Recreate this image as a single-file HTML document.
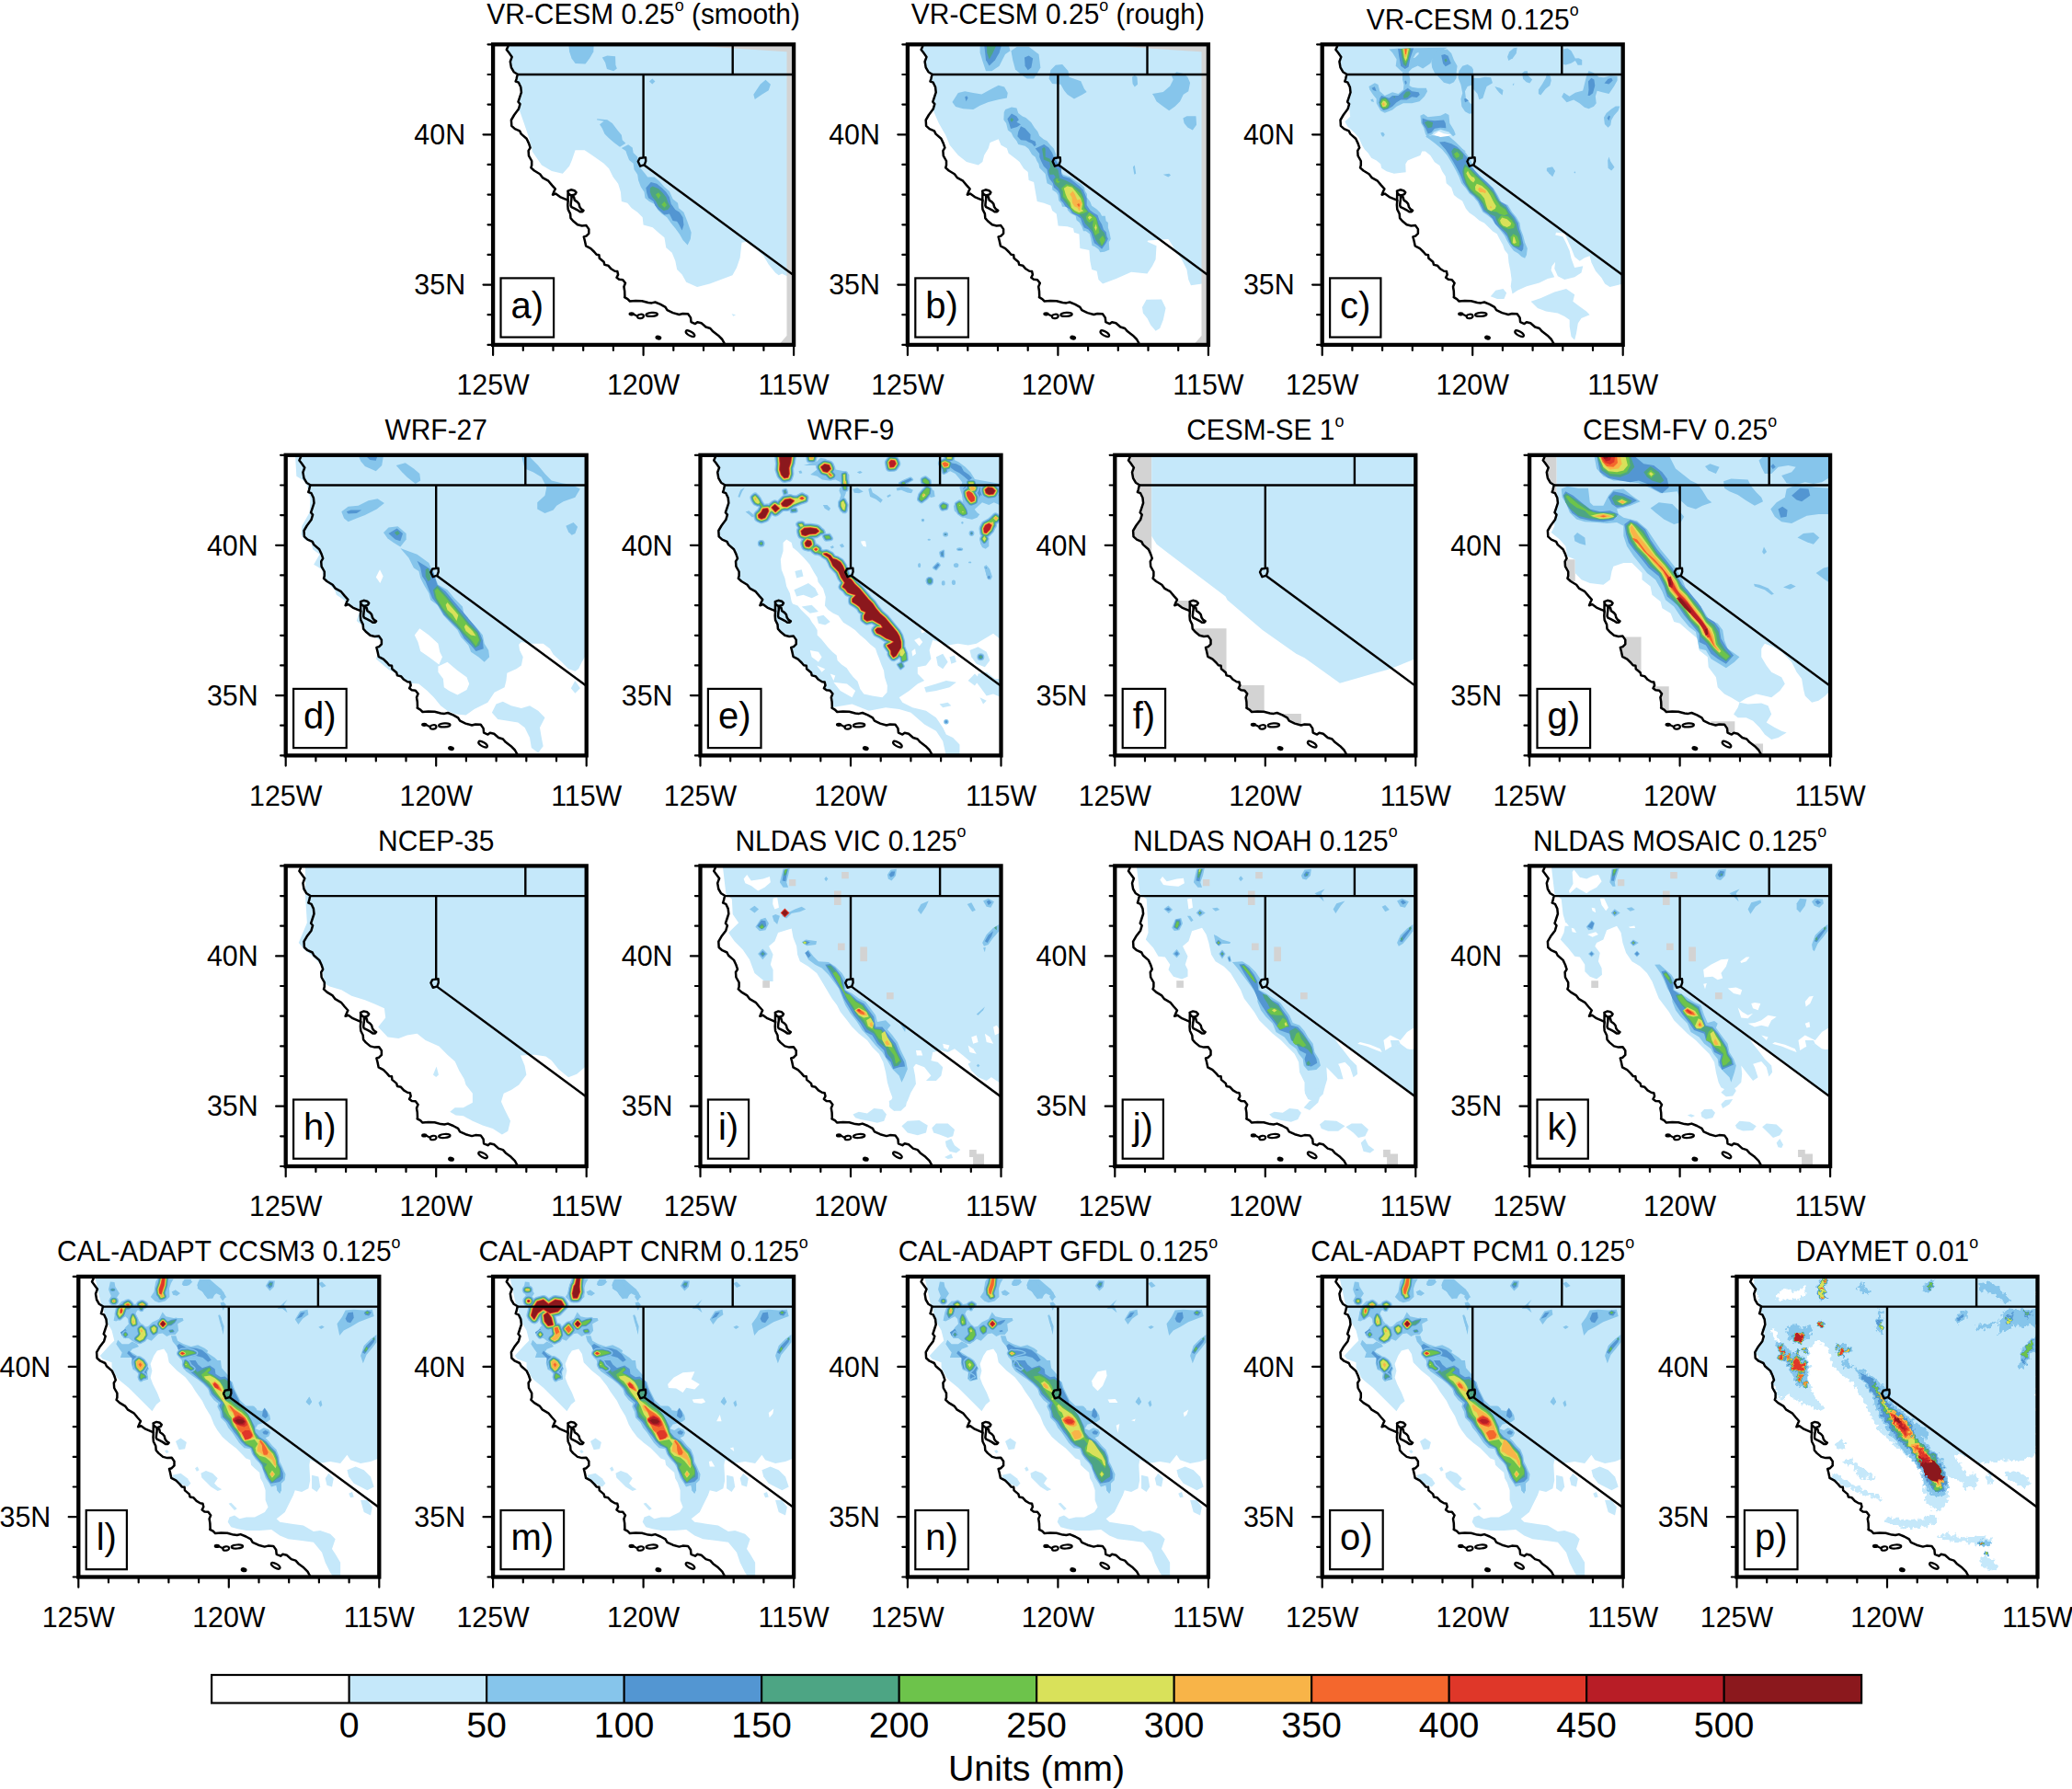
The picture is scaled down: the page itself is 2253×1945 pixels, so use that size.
<!DOCTYPE html>
<html><head><meta charset="utf-8"><title>figure</title>
<style>
html,body{margin:0;padding:0;background:#fff;}
svg{display:block;}
text{font-family:"Liberation Sans",sans-serif;fill:#000;}
.t{font-size:31px;}
.s{font-size:18.5px;}
.l{font-size:40px;}
.c{font-size:39.3px;}
</style></head><body>
<svg width="2253" height="1945" viewBox="0 0 2253 1945">
<defs>
<clipPath id="cp"><rect x="0" y="0" width="327.0" height="326.6"/></clipPath>
<path id="land" d="M16.3 -1 L16.3 2.1 L14.7 5.7 L17.1 8.8 L20.6 13.6 L18.7 18.7 L19.8 25.1 L22.6 29.9 L26.6 32.4 L25.4 37.8 L24.6 40.2 L27.8 41.4 L30.2 46.5 L30.8 52.1 L29 57.6 L27.4 62.4 L29.4 64.8 L27.8 70.3 L23 76.7 L19.8 82.2 L20.2 88.6 L23.8 91.8 L29 94.1 L30.6 97.3 L36.5 102.5 L38.9 107.6 L40.5 112.4 L38.5 115.6 L38.9 121.1 L42.1 126.7 L42.1 131.4 L41.3 134 L44.8 137.2 L51 141 L53.8 144.8 L60.2 148.4 L64.1 153.1 L67.7 157.1 L66.5 159.5 L64.9 163.4 L68.1 162.3 L72.9 165.8 L77.6 167.8 L81.6 169.4 L81.2 174.6 L81.6 179.3 L84 184.1 L84.4 188.8 L87.1 192 L91.9 196 L96.7 197.2 L101.4 196.8 L104.2 200.8 L104.2 205.5 L101.4 208.3 L98.7 209.1 L99.8 213.4 L101 219 L106.2 221.8 L110.2 225.7 L112.5 228.5 L115.3 228.9 L115.7 232.5 L120.5 236.5 L121.3 239.6 L125.2 240.4 L128.4 244 L132.4 246.4 L135.2 246.8 L136 250.3 L134.4 253.5 L137.1 255.5 L141.1 255.9 L143.9 259.5 L142.3 263.4 L143.1 268.2 L143.3 273.7 L143 274.9 L146.4 276.8 L148.8 279.2 L155.1 278.7 L161.9 278.9 L168.6 280.7 L172.5 281.1 L176.3 280.2 L182.1 282.6 L187.4 285.5 L189.4 288.9 L195.6 291.8 L202.4 293.7 L206.3 292.7 L212 293 L214.9 297.1 L215.4 301.9 L219.8 303.8 L222.2 301.9 L226.5 302.9 L231.4 307.2 L236.2 308.7 L239.1 312 L244.9 316.4 L249.2 320.7 L251.6 325.1 L252.6 327.6 L328 327.6 L328 -1Z"/>
<clipPath id="lc"><use href="#land"/></clipPath>
<filter id="rough" x="0" y="0" width="327" height="327" filterUnits="userSpaceOnUse" color-interpolation-filters="sRGB"><feTurbulence type="fractalNoise" baseFrequency="0.22" numOctaves="2" seed="7" result="n"/><feDisplacementMap in="SourceGraphic" in2="n" scale="9" xChannelSelector="R" yChannelSelector="G"/></filter>
<g id="base">
<g clip-path="url(#cp)" fill="none" stroke="#000" stroke-linejoin="round" stroke-linecap="round">
<path stroke-width="2.5" d="M16.3 -1 L16.3 2.1 L14.7 5.7 L17.1 8.8 L20.6 13.6 L18.7 18.7 L19.8 25.1 L22.6 29.9 L26.6 32.4 L25.4 37.8 L24.6 40.2 L27.8 41.4 L30.2 46.5 L30.8 52.1 L29 57.6 L27.4 62.4 L29.4 64.8 L27.8 70.3 L23 76.7 L19.8 82.2 L20.2 88.6 L23.8 91.8 L29 94.1 L30.6 97.3 L36.5 102.5 L38.9 107.6 L40.5 112.4 L38.5 115.6 L38.9 121.1 L42.1 126.7 L42.1 131.4 L41.3 134 L44.8 137.2 L51 141 L53.8 144.8 L60.2 148.4 L64.1 153.1 L67.7 157.1 L66.5 159.5 L64.9 163.4 L68.1 162.3 L72.9 165.8 L77.6 167.8 L81.6 169.4 L81.2 174.6 L81.6 179.3 L84 184.1 L84.4 188.8 L87.1 192 L91.9 196 L96.7 197.2 L101.4 196.8 L104.2 200.8 L104.2 205.5 L101.4 208.3 L98.7 209.1 L99.8 213.4 L101 219 L106.2 221.8 L110.2 225.7 L112.5 228.5 L115.3 228.9 L115.7 232.5 L120.5 236.5 L121.3 239.6 L125.2 240.4 L128.4 244 L132.4 246.4 L135.2 246.8 L136 250.3 L134.4 253.5 L137.1 255.5 L141.1 255.9 L143.9 259.5 L142.3 263.4 L143.1 268.2 L143.3 273.7 L143 274.9 L146.4 276.8 L148.8 279.2 L155.1 278.7 L161.9 278.9 L168.6 280.7 L172.5 281.1 L176.3 280.2 L182.1 282.6 L187.4 285.5 L189.4 288.9 L195.6 291.8 L202.4 293.7 L206.3 292.7 L212 293 L214.9 297.1 L215.4 301.9 L219.8 303.8 L222.2 301.9 L226.5 302.9 L231.4 307.2 L236.2 308.7 L239.1 312 L244.9 316.4 L249.2 320.7 L251.6 325.1 L252.6 327.6"/>
<path stroke-width="2.5" d="M81.3 159.4L84.8 158L88.5 158.9L90.5 160.9L89.4 162.9L87.1 163.8L84.8 164.1L83 162.9L81.6 161.2ZM81.5 159.6L81.4 170"/>
<path stroke-width="2.5" d="M85.3 165.2L87.9 165.8L88.8 169.3L91.7 171.3L93.4 173.3L94.3 176.8L96 179.1L98.4 180.6L97.2 182L94.6 182L91.7 180L88.5 178.3L85.3 176.8L84.5 175.1L84.8 171.6L85.3 168.1Z"/>
<g stroke-width="2.2" fill="#000"><ellipse cx="150.6" cy="293.0" rx="2.1" ry="1"/><ellipse cx="179.8" cy="318.8" rx="2.4" ry="1.4" transform="rotate(12 179.8 318.8)"/></g>
<g stroke-width="2.2" fill="none"><path d="M153 293.4L157 295.5"/><ellipse cx="160.4" cy="295.6" rx="3.4" ry="2.2" transform="rotate(-8 160.4 295.6)"/><ellipse cx="172.6" cy="293.6" rx="6.2" ry="2" transform="rotate(-4 172.6 293.6)"/><ellipse cx="214.4" cy="314.4" rx="5.4" ry="2.2" transform="rotate(30 214.4 314.4)"/></g>
<g stroke-width="2.4" stroke-linecap="butt"><path d="M26.6 32.7H328"/><path d="M163.5 32.7V123"/><path d="M260.6 -1V32.7"/><path d="M164.4 131.2L328 251.8"/></g>
<path stroke-width="2.4" d="M159.5 123.7L165.9 122.8L166.1 126.9L164.7 130.9L160.1 132.4L158.6 129.2L157.7 127.2Z"/>
</g>
<rect x="0" y="0" width="327.0" height="326.6" fill="none" stroke="#000" stroke-width="4.3"/>
<path d="M0 326.6h-5.6M0 293.9h-5.6M0 261.3h-10.6M0 228.6h-5.6M0 196.0h-5.6M0 163.3h-5.6M0 130.6h-5.6M0 98.0h-10.6M0 65.3h-5.6M0 32.7h-5.6M0 0.0h-5.6M0.0 326.6v11.2M32.7 326.6v6.0M65.4 326.6v6.0M98.1 326.6v6.0M130.8 326.6v6.0M163.5 326.6v11.2M196.2 326.6v6.0M228.9 326.6v6.0M261.6 326.6v6.0M294.3 326.6v6.0M327.0 326.6v11.2" fill="none" stroke="#000" stroke-width="2.2" stroke-linecap="round"/>
<g class="t"><text transform="translate(-30 108.7) scale(.98 1)" text-anchor="end">40N</text><text transform="translate(-30 272.0) scale(.98 1)" text-anchor="end">35N</text><text transform="translate(0.0 381.0) scale(.98 1)" text-anchor="middle">125W</text><text transform="translate(163.5 381.0) scale(.98 1)" text-anchor="middle">120W</text><text transform="translate(327.0 381.0) scale(.98 1)" text-anchor="middle">115W</text></g>
</g>
</defs>
<g transform="translate(536.1 48.3)">
<g clip-path="url(#cp)">
<g clip-path="url(#lc)"><g transform="translate(-0.10 -0.30) scale(0.18278)">
<polygon fill="#C5E8FA" points="0,0 0,400 160,400 185,470 215,560 235,640 290,720 350,755 415,770 455,725 470,690 490,630 545,630 590,660 625,685 660,710 690,740 715,790 745,830 760,880 765,935 800,945 825,975 860,1000 890,1030 895,1075 950,1090 990,1125 1020,1150 1030,1210 1065,1240 1085,1290 1095,1340 1125,1370 1150,1415 1215,1445 1290,1425 1370,1395 1425,1375 1450,1330 1470,1270 1480,1180 1510,1175 1560,1215 1610,1260 1640,1310 1680,1360 1700,1375 1720,1365 1760,1385 1789,1390 1789,0"/>
<polygon fill="#C5E8FA" points="1420,1605 1445,1610 1430,1618"/>
<polygon fill="#D3D3D3" points="1100,0 1789,0 1789,45 1745,45 1430,25"/>
<polygon fill="#D3D3D3" points="1748,40 1789,40 1789,1789 1700,1789 1748,1735"/>
<polygon fill="#86C5EB" points="450,0 600,0 598,45 575,85 550,118 490,115 468,85 455,45"/>
<polygon fill="#86C5EB" points="650,80 680,68 728,72 730,125 738,145 718,160 678,148 668,110"/>
<polygon fill="#86C5EB" points="930,222 948,205 965,222 948,238"/>
<polygon fill="#86C5EB" points="1550,300 1590,240 1622,212 1652,240 1640,275 1600,300 1558,328"/>
<polygon fill="#86C5EB" points="620,445 680,450 710,470 740,510 765,540 770,570 790,590 755,612 720,585 690,560 665,535 650,500 635,478 660,458 618,450"/>
<polygon fill="#86C5EB" points="765,618 805,598 830,615 835,645 860,670 865,705 880,740 905,770 920,790 960,790 990,815 1020,850 1050,875 1070,920 1100,945 1105,975 1135,1000 1155,1050 1180,1120 1175,1160 1158,1195 1130,1165 1110,1130 1085,1095 1060,1065 1035,1030 1005,1010 980,985 960,950 930,935 905,915 900,880 880,850 865,810 860,775 840,745 835,710 810,690 795,650 790,635"/>
<polygon fill="#5396D2" points="910,855 940,820 975,830 1005,855 1030,880 1050,910 1060,950 1085,985 1110,1000 1130,1030 1135,1075 1125,1108 1105,1070 1095,1055 1070,1050 1050,1010 1020,1015 985,985 965,960 955,935 925,915 915,885"/>
<polygon fill="#4DA584" points="935,855 950,845 985,860 1010,885 1030,910 1040,940 1055,965 1040,985 1015,990 985,965 970,935 945,905 935,880"/>
<polygon fill="#6DC34B" points="968,895 985,882 998,898 985,920"/>
<polygon fill="#6DC34B" points="1003,955 1020,935 1035,958 1020,972"/>
</g></g>
</g>
<use href="#base"/>
<rect x="8.4" y="254.1" width="57.6" height="64.2" fill="#fff" stroke="#000" stroke-width="2.2"/>
<text class="l" x="37.2" y="297.5" text-anchor="middle">a)</text>
<text class="t" transform="translate(163.5 -22.2) scale(.965 1)" text-anchor="middle">VR-CESM 0.25<tspan class="s" dy="-14.4">o</tspan><tspan dy="14.4"> (smooth)</tspan></text>
</g>
<g transform="translate(986.9 48.3)">
<g clip-path="url(#cp)">
<g clip-path="url(#lc)"><g transform="translate(0.10 -0.30) scale(0.18278)">
<polygon fill="#C5E8FA" points="0,0 0,390 150,390 185,470 225,540 250,600 300,660 350,700 420,720 445,700 455,660 480,620 490,585 540,565 555,600 590,620 600,650 640,680 665,700 690,740 715,760 720,810 750,820 760,880 770,935 810,945 850,960 860,990 885,1010 895,1080 950,1085 985,1095 990,1120 1020,1130 1025,1215 1080,1225 1085,1290 1095,1340 1125,1350 1135,1400 1160,1425 1240,1395 1330,1355 1425,1365 1455,1320 1475,1280 1480,1200 1425,1175 1430,1168 1550,1160 1570,1190 1600,1240 1630,1280 1660,1340 1670,1400 1685,1435 1750,1425 1789,1420 1789,0"/>
<polygon fill="#C5E8FA" points="1395,1565 1420,1520 1510,1518 1535,1570 1520,1640 1500,1690 1475,1705 1445,1670 1425,1630 1400,1600"/>
<polygon fill="#D3D3D3" points="1100,0 1789,0 1789,45 1745,45 1430,25"/>
<polygon fill="#D3D3D3" points="1748,40 1789,40 1789,1789 1700,1789 1748,1735"/>
<polygon fill="#86C5EB" points="430,0 600,0 610,40 580,60 545,130 500,160 465,160 445,100 430,50"/>
<polygon fill="#86C5EB" points="615,40 650,15 720,15 780,60 790,140 770,175 750,205 710,205 680,185 640,150 625,95"/>
<polygon fill="#86C5EB" points="850,155 880,125 920,120 955,160 960,195 1030,220 1050,265 1065,285 1040,300 990,325 950,300 930,275 910,240 860,235 840,205"/>
<polygon fill="#86C5EB" points="1335,195 1350,185 1365,195 1368,240 1350,255 1338,235"/>
<polygon fill="#86C5EB" points="1455,295 1520,285 1560,250 1580,210 1570,190 1600,165 1640,175 1665,195 1680,230 1670,280 1640,300 1620,340 1590,370 1555,395 1520,370 1480,340 1465,310"/>
<polygon fill="#86C5EB" points="1638,440 1660,428 1715,428 1718,480 1695,512 1665,495 1645,470"/>
<polygon fill="#86C5EB" points="265,345 300,290 340,280 390,290 440,298 500,265 540,245 575,255 595,290 590,320 540,330 480,345 430,365 390,388 330,385 285,372"/>
<polygon fill="#86C5EB" points="1340,730 1350,720 1358,770 1348,775"/>
<polygon fill="#86C5EB" points="1520,775 1555,770 1565,780 1550,790"/>
<polygon fill="#5396D2" points="455,0 560,0 545,50 520,95 485,128 465,95"/>
<polygon fill="#4DA584" points="470,0 530,0 505,55 485,90 472,50"/>
<polygon fill="#5396D2" points="695,80 720,68 745,85 735,140 715,155 698,130"/>
<polygon fill="#5396D2" points="340,315 352,308 358,320 348,340"/>
<polygon fill="#86C5EB" points="573,405 581,388 618,375 648,380 658,410 683,430 703,438 734,465 754,496 774,521 784,546 809,566 829,576 849,601 869,621 884,661 914,761 924,776 969,791 1004,817 1029,832 1050,852 1055,872 1067,892 1067,912 1085,937 1095,962 1125,982 1145,1002 1155,1022 1175,1022 1180,1052 1192,1062 1192,1092 1200,1117 1208,1158 1197,1178 1200,1223 1170,1235 1145,1238 1135,1220 1112,1203 1097,1198 1090,1158 1082,1128 1060,1112 1045,1112 1037,1087 1022,1062 1004,1047 999,1022 969,1007 952,987 947,967 919,967 914,947 899,932 894,897 884,882 861,867 859,842 829,827 824,802 819,771 799,751 784,736 779,711 769,696 759,671 739,656 719,623 698,606 658,596 648,576 628,551 616,526 596,511 586,471 571,450"/>
<polygon fill="#5396D2" points="593,445 618,413 648,430 661,450 648,463 673,478 651,493 613,503 603,471"/>
<polygon fill="#5396D2" points="673,488 698,501 731,538 729,566 759,578 764,601 754,608 739,591 719,583 703,573 673,571 653,548 658,521"/>
<polygon fill="#5396D2" points="759,621 811,596 839,616 859,646 871,676 914,741 914,771 924,786 964,797 994,822 1019,842 1045,867 1050,882 1065,917 1065,957 1085,987 1105,1002 1130,1017 1140,1047 1155,1072 1165,1102 1180,1117 1185,1143 1192,1158 1180,1183 1155,1218 1132,1198 1110,1183 1100,1153 1090,1122 1075,1102 1050,1092 1040,1072 1029,1037 1009,1022 979,1007 964,982 939,967 924,942 909,927 904,892 894,872 869,852 864,827 844,802 834,776 829,746 809,726 794,696 784,671 784,651"/>
<polygon fill="#4DA584" points="799,623 811,613 819,623 819,671 844,681 859,701 869,731 894,746 899,771 904,797 944,812 979,832 999,847 1029,867 1040,892 1050,922 1055,967 1075,997 1100,1012 1125,1037 1135,1072 1150,1102 1170,1122 1180,1153 1170,1183 1155,1203 1135,1188 1120,1168 1107,1138 1097,1112 1075,1087 1055,1067 1042,1037 1019,1012 994,1002 974,982 954,962 934,937 914,912 909,882 899,857 874,832 866,807 879,791 869,776 844,776 839,751 849,731 844,701 809,686 804,651"/>
<polygon fill="#4DA584" points="609,448 618,438 631,448 618,463"/>
<polygon fill="#6DC34B" points="882,802 894,799 894,814 907,817 894,827 882,819"/>
<polygon fill="#6DC34B" points="914,857 944,832 979,844 1004,867 1029,892 1045,922 1050,952 1047,977 1070,995 1045,1007 1014,1012 984,997 969,977 959,952 944,927 924,907 924,877"/>
<polygon fill="#6DC34B" points="1060,1027 1080,1000 1100,1017 1120,1032 1127,1062 1135,1097 1140,1122 1115,1138 1105,1107 1100,1077 1105,1047 1080,1062 1065,1047"/>
<polygon fill="#6DC34B" points="1140,1163 1160,1138 1175,1165 1155,1198"/>
<polygon fill="#D9E15A" points="929,857 949,844 979,852 999,877 1029,917 1040,952 1034,982 1047,992 1019,1002 994,990 974,972 967,942 949,917 939,892"/>
<polygon fill="#D9E15A" points="1072,1030 1082,1020 1097,1030 1080,1045"/>
<polygon fill="#D9E15A" points="1112,1092 1120,1070 1125,1092 1120,1110"/>
<polygon fill="#F8B448" points="964,892 982,874 994,892 1004,917 1009,927 1024,922 1037,947 1029,972 1022,995 1009,972 992,965 979,944 977,912"/>
<polygon fill="#F4672D" points="1007,954 1019,947 1024,957 1019,970"/>
</g></g>
</g>
<use href="#base"/>
<rect x="8.4" y="254.1" width="57.6" height="64.2" fill="#fff" stroke="#000" stroke-width="2.2"/>
<text class="l" x="37.2" y="297.5" text-anchor="middle">b)</text>
<text class="t" transform="translate(163.5 -22.2) scale(.965 1)" text-anchor="middle">VR-CESM 0.25<tspan class="s" dy="-14.4">o</tspan><tspan dy="14.4"> (rough)</tspan></text>
</g>
<g transform="translate(1437.7 48.3)">
<g clip-path="url(#cp)">
<g clip-path="url(#lc)"><g transform="translate(0.30 -0.30) scale(0.18278)">
<polygon fill="#C5E8FA" points="0,0 0,386 160,386 165,431 133,461 150,491 186,522 216,557 236,602 251,627 271,647 291,677 321,692 346,712 351,737 381,757 426,770 496,762 494,712 507,692 542,677 582,662 592,637 612,637 642,662 667,702 697,722 712,757 732,787 737,827 767,853 782,897 802,913 832,933 853,978 873,1003 903,1023 933,1049 963,1064 988,1089 1013,1114 1038,1129 1053,1159 1073,1194 1083,1224 1103,1249 1108,1299 1118,1349 1125,1400 1120,1440 1130,1485 1160,1465 1215,1440 1290,1420 1340,1395 1380,1385 1360,1345 1365,1320 1385,1295 1380,1335 1400,1380 1440,1400 1500,1385 1540,1360 1550,1320 1500,1330 1480,1275 1470,1230 1450,1185 1430,1145 1385,1135 1390,1120 1440,1125 1455,1160 1480,1215 1500,1265 1530,1290 1560,1270 1590,1260 1600,1300 1625,1350 1660,1390 1680,1425 1710,1445 1750,1435 1789,1425 1789,0"/>
<polygon fill="#C5E8FA" points="1000,1500 1030,1465 1075,1455 1095,1480 1080,1515 1040,1515"/>
<polygon fill="#C5E8FA" points="1240,1530 1300,1510 1380,1475 1450,1455 1500,1490 1490,1530 1530,1560 1570,1590 1590,1610 1540,1630 1520,1660 1510,1720 1500,1760 1480,1740 1470,1680 1470,1640 1440,1620 1400,1600 1330,1590 1280,1570"/>
<polygon fill="#86C5EB" points="396,30 451,25 547,23 742,20 702,45 652,90 642,115 597,145 567,128 532,145 512,166 471,163 436,130 441,90 416,50"/>
<polygon fill="#86C5EB" points="647,100 667,60 687,35 742,30 767,55 782,95 802,130 797,166 797,201 782,226 757,238 722,228 697,201 667,171 652,140"/>
<polygon fill="#86C5EB" points="812,160 833,130 863,120 888,135 897,150 897,241 863,251 848,281 853,321 878,351 897,361 897,411 873,414 848,401 828,371 823,326 833,291 823,241 807,201"/>
<polygon fill="#86C5EB" points="476,166 512,166 522,211 517,246 532,256 567,261 617,261 624,281 607,311 577,341 532,351 481,351 441,371 416,391 371,409 346,396 321,351 321,326 301,301 281,271 276,251 311,231 331,241 341,281 371,306 416,286 451,296 481,271 484,241 476,211"/>
<polygon fill="#86C5EB" points="286,329 301,326 306,344 291,341"/>
<polygon fill="#86C5EB" points="346,527 361,524 371,537 361,552 351,542"/>
<polygon fill="#86C5EB" points="582,426 602,416 627,434 702,426 732,411 752,421 757,471 782,512 792,537 777,549 752,522 702,507 662,522 652,537 622,552 612,532 602,497 587,471"/>
<polygon fill="#C5E8FA" points="539,83 557,55 572,48 572,60 552,80"/>
<polygon fill="#86C5EB" points="1100,75 1112,45 1138,23 1158,20 1153,55 1132,83 1107,98"/>
<polygon fill="#86C5EB" points="1433,30 1458,25 1479,38 1494,65 1504,85 1524,83 1544,93 1544,125 1519,125 1504,98 1479,113 1448,123 1433,120"/>
<polygon fill="#86C5EB" points="1188,173 1203,160 1220,160 1223,186 1248,211 1233,233 1213,226 1193,206"/>
<polygon fill="#86C5EB" points="1285,271 1308,236 1328,201 1336,173 1356,191 1361,216 1353,246 1328,266 1298,303 1285,296"/>
<polygon fill="#86C5EB" points="892,201 932,203 967,196 1002,198 1012,231 977,251 967,281 954,321 932,329 922,296 892,261"/>
<polygon fill="#86C5EB" points="1025,251 1037,256 1057,261 1075,273 1070,303 1052,288 1037,271"/>
<polygon fill="#86C5EB" points="1130,241 1140,231 1138,246"/>
<polygon fill="#86C5EB" points="1423,313 1436,288 1469,311 1504,288 1549,276 1559,236 1569,196 1584,158 1614,171 1644,196 1674,198 1714,188 1754,191 1754,216 1734,251 1704,296 1664,286 1634,278 1624,311 1629,351 1614,371 1584,384 1559,376 1529,351 1494,331 1453,346"/>
<polygon fill="#86C5EB" points="1674,436 1689,411 1719,386 1744,369 1769,369 1759,396 1734,426 1719,451 1714,481 1699,497 1679,476"/>
<polygon fill="#86C5EB" points="1697,692 1704,670 1714,697 1737,732 1719,752 1699,737"/>
<polygon fill="#86C5EB" points="1336,737 1363,730 1383,757 1368,787 1348,767"/>
<polygon fill="#86C5EB" points="1496,762 1501,757 1506,763 1501,768"/>
<polygon fill="#5396D2" points="1581,221 1599,201 1616,211 1621,246 1609,291 1589,306 1579,306 1584,271"/>
<polygon fill="#5396D2" points="1677,233 1699,206 1719,201 1727,216 1704,238"/>
<polygon fill="#5396D2" points="1694,441 1704,424 1712,431 1704,456"/>
<polygon fill="#86C5EB" points="612,547 752,547 787,577 822,612 853,647 878,683 903,748 943,788 983,823 1018,858 1043,898 1063,938 1103,958 1128,998 1153,1029 1174,1064 1179,1099 1194,1139 1204,1179 1219,1214 1214,1254 1204,1274 1184,1264 1164,1244 1138,1229 1118,1204 1098,1169 1083,1139 1063,1114 1043,1089 1023,1064 1008,1039 983,1019 953,998 938,968 923,938 898,908 873,888 853,858 827,828 812,788 792,748 767,703 742,662 712,627 672,592 632,562"/>
<polygon fill="#86C5EB" points="1334,738 1369,730 1384,753 1369,788 1349,768 1334,753"/>
<polygon fill="#86C5EB" points="617,552 652,542 712,552 752,562 782,577 802,602 853,637 802,647 727,602 667,577"/>
<polygon fill="#FFFFFF" points="662,539 692,519 722,532 767,539 742,547 702,552"/>
<polygon fill="#5396D2" points="449,28 542,25 522,85 512,135 491,148 466,130 456,75"/>
<polygon fill="#5396D2" points="707,65 727,60 747,70 765,115 732,133 717,115"/>
<polygon fill="#5396D2" points="293,261 311,253 321,281 301,273"/>
<polygon fill="#5396D2" points="341,321 351,306 396,321 416,306 451,306 481,281 507,261 532,281 572,286 579,301 562,318 532,313 502,331 466,331 441,346 416,371 386,389 361,394 341,371 336,346"/>
<polygon fill="#5396D2" points="489,221 497,216 502,231 494,241"/>
<polygon fill="#5396D2" points="594,441 627,451 667,456 722,451 732,471 735,499 702,497 667,502 647,527 627,534 614,502 594,471"/>
<polygon fill="#5396D2" points="843,326 853,323 870,336 848,346"/>
<polygon fill="#5396D2" points="695,582 727,580 767,592 802,612 833,642 863,677 873,718 898,743 933,783 973,818 1013,858 1033,893 1053,933 1093,958 1118,998 1143,1029 1164,1064 1171,1099 1184,1139 1196,1194 1194,1219 1184,1234 1159,1219 1133,1204 1113,1179 1098,1144 1078,1119 1053,1094 1028,1069 1013,1039 988,1014 958,993 943,963 928,933 903,903 878,883 858,853 838,823 822,783 802,743 777,698 752,657 732,627 710,602"/>
<polygon fill="#4DA584" points="464,28 527,25 512,90 497,133 481,120 471,75"/>
<polygon fill="#4DA584" points="725,93 735,85 742,98 732,108"/>
<polygon fill="#4DA584" points="481,306 497,283 517,281 524,296 507,316 484,323"/>
<polygon fill="#4DA584" points="424,313 431,311 432,318 425,320"/>
<polygon fill="#4DA584" points="339,346 351,321 376,318 396,336 404,356 391,381 366,389 346,374"/>
<polygon fill="#4DA584" points="607,466 627,456 657,466 652,494 627,499"/>
<polygon fill="#4DA584" points="767,637 782,617 812,627 838,657 835,683 802,695 777,672"/>
<polygon fill="#4DA584" points="838,733 848,713 873,733 903,763 943,803 983,843 1018,878 1038,918 1068,953 1093,973 1108,1003 1138,1039 1153,1069 1159,1099 1174,1134 1184,1189 1169,1209 1143,1204 1123,1189 1108,1149 1098,1124 1073,1099 1048,1074 1033,1044 1028,1024 993,1009 963,983 953,953 928,918 898,893 873,868 853,833 838,788 833,758"/>
<polygon fill="#6DC34B" points="471,28 522,26 507,90 494,118 484,90"/>
<polygon fill="#6DC34B" points="344,351 354,329 376,326 391,346 394,364 381,379 361,381 349,369"/>
<polygon fill="#6DC34B" points="782,652 800,640 815,655 812,672 795,677"/>
<polygon fill="#6DC34B" points="843,743 853,728 878,748 908,783 948,818 983,853 1013,888 1033,928 1058,963 1088,983 1103,1009 1083,1019 1053,1009 1038,998 1003,993 973,973 958,943 933,908 903,883 878,858 858,823 845,783"/>
<polygon fill="#6DC34B" points="1043,1044 1063,1019 1103,1024 1128,1049 1143,1074 1138,1094 1108,1099 1078,1089 1053,1069"/>
<polygon fill="#6DC34B" points="1118,1149 1136,1129 1159,1144 1171,1174 1169,1199 1143,1199 1126,1184"/>
<polygon fill="#D9E15A" points="479,28 514,26 502,85 494,100 486,80"/>
<polygon fill="#D9E15A" points="351,354 361,336 374,341 384,356 376,371 359,374"/>
<polygon fill="#D9E15A" points="855,768 865,753 875,773 888,788 903,793 908,808 898,823 883,813 868,793"/>
<polygon fill="#D9E15A" points="908,848 918,830 948,843 978,868 998,898 1018,938 1033,963 1028,978 1003,993 983,983 973,953 963,918 943,893 923,878 910,868"/>
<polygon fill="#D9E15A" points="1056,1049 1068,1031 1098,1041 1123,1064 1118,1079 1098,1089 1073,1079 1061,1064"/>
<polygon fill="#D9E15A" points="1131,1179 1136,1144 1143,1149 1153,1182 1138,1187"/>
<polygon fill="#F8B448" points="484,28 507,26 499,70 494,80 489,65"/>
<polygon fill="#F8B448" points="355,356 364,346 371,359 364,369"/>
<polygon fill="#F8B448" points="925,863 935,851 958,863 973,873 970,888 953,881 935,881"/>
<polygon fill="#F8B448" points="996,968 1001,963 1007,971 1001,977"/>
<polygon fill="#F4672D" points="489,28 502,27 497,60 493,60"/>
</g></g>
</g>
<use href="#base"/>
<rect x="8.4" y="254.1" width="55.3" height="64.2" fill="#fff" stroke="#000" stroke-width="2.2"/>
<text class="l" x="36.1" y="297.5" text-anchor="middle">c)</text>
<text class="t" transform="translate(163.5 -16.6) scale(.965 1)" text-anchor="middle">VR-CESM 0.125<tspan class="s" dy="-14.4">o</tspan><tspan dy="14.4"></tspan></text>
</g>
<g transform="translate(310.7 494.8)">
<g clip-path="url(#cp)">
<g><g transform="translate(0.30 0.20) scale(0.18278)">
<polygon fill="#C5E8FA" points="55,0 62,125 105,150 125,180 145,260 140,340 95,420 90,470 110,500 150,520 160,560 200,590 165,650 215,680 225,740 290,800 300,830 345,860 360,880 440,920 420,985 450,1010 460,1040 530,1085 560,1100 575,1120 535,1140 545,1190 535,1210 610,1275 640,1290 700,1330 740,1355 790,1360 840,1400 880,1440 920,1490 960,1520 1010,1540 1070,1545 1120,1510 1200,1470 1220,1440 1240,1410 1300,1380 1310,1340 1315,1295 1370,1270 1400,1250 1410,1200 1390,1160 1385,1125 1400,1110 1450,1120 1530,1120 1570,1150 1590,1185 1640,1230 1680,1270 1720,1285 1740,1270 1760,1230 1789,1180 1789,0"/>
<polygon fill="#FFFFFF" points="535,725 558,680 578,720 560,760"/>
<polygon fill="#FFFFFF" points="765,1070 795,1030 850,1070 905,1120 915,1170 930,1200 910,1245 850,1200 800,1165 785,1110"/>
<polygon fill="#FFFFFF" points="905,1255 960,1230 1020,1280 1075,1320 1090,1360 1075,1395 1020,1425 970,1400 940,1380 935,1330 905,1290"/>
<polygon fill="#C5E8FA" points="1225,1530 1250,1480 1290,1465 1340,1490 1400,1505 1450,1490 1500,1520 1540,1560 1510,1620 1520,1680 1530,1730 1500,1770 1460,1740 1450,1680 1420,1620 1380,1590 1320,1580 1260,1570"/>
<polygon fill="#C5E8FA" points="1695,1385 1720,1340 1750,1385 1720,1415"/>
<polygon fill="#86C5EB" points="430,0 580,0 570,60 535,95 470,65 445,35"/>
<polygon fill="#86C5EB" points="655,60 710,45 760,80 795,110 800,150 770,170 720,130 690,100"/>
<polygon fill="#86C5EB" points="1400,0 1440,0 1500,60 1540,110 1580,150 1640,165 1700,175 1750,200 1720,250 1650,275 1610,300 1590,325 1540,345 1495,320 1495,280 1540,240 1550,190 1520,130 1470,100 1420,80"/>
<polygon fill="#86C5EB" points="1665,420 1710,400 1735,425 1720,465 1700,475 1680,455"/>
<polygon fill="#86C5EB" points="330,335 370,305 430,300 490,270 545,258 585,285 540,320 470,355 420,375 370,395 345,375"/>
<polygon fill="#86C5EB" points="580,460 610,430 665,422 715,465 715,500 680,545 640,520 605,495"/>
<polygon fill="#86C5EB" points="680,552 780,590 850,640 905,770 960,800 1000,850 1050,900 1060,950 1100,990 1130,1020 1170,1070 1180,1120 1205,1160 1210,1200 1180,1230 1145,1200 1100,1170 1085,1130 1040,1080 1020,1040 990,1010 935,950 900,890 860,860 850,820 820,770 800,730 790,690 760,670 730,610"/>
<polygon fill="#5396D2" points="470,0 545,0 535,32 500,28"/>
<polygon fill="#5396D2" points="360,335 385,325 450,325 420,345 370,348"/>
<polygon fill="#5396D2" points="610,465 660,435 695,465 680,510 650,500"/>
<polygon fill="#5396D2" points="780,628 840,665 875,690 900,770 950,810 1000,870 1060,940 1110,1000 1150,1050 1170,1100 1175,1150 1130,1165 1100,1130 1060,1090 1030,1040 990,1000 940,950 910,900 870,850 850,800 830,750 810,720 800,670"/>
<polygon fill="#4DA584" points="645,460 665,448 678,465 660,478"/>
<polygon fill="#4DA584" points="830,680 845,670 858,700 860,740 845,750 830,720"/>
<polygon fill="#4DA584" points="875,800 900,775 950,830 1000,890 1050,950 1090,1000 1140,1050 1160,1100 1150,1130 1125,1145 1090,1100 1050,1060 1010,1010 960,960 920,910 885,850"/>
<polygon fill="#6DC34B" points="885,805 900,790 945,840 995,900 1045,960 1085,1010 1135,1060 1150,1100 1130,1135 1100,1095 1060,1055 1020,1005 970,955 930,905 895,850"/>
<polygon fill="#D9E15A" points="950,890 960,875 1000,920 1025,950 1015,985 990,945 960,920"/>
<polygon fill="#D9E15A" points="1060,1020 1070,1005 1110,1045 1130,1075 1100,1070 1070,1045"/>
</g></g>
</g>
<use href="#base"/>
<rect x="8.4" y="254.1" width="57.6" height="64.2" fill="#fff" stroke="#000" stroke-width="2.2"/>
<text class="l" x="37.2" y="297.5" text-anchor="middle">d)</text>
<text class="t" transform="translate(163.5 -16.6) scale(.965 1)" text-anchor="middle">WRF-27</text>
</g>
<g transform="translate(761.5 494.8)">
<g clip-path="url(#cp)">
<g clip-path="url(#lc)"><g transform="translate(0.50 0.20) scale(0.18278)">
<polygon fill="#C5E8FA" points="0,0 1789,0 1789,1789 0,1789"/>
<polygon fill="#FFFFFF" points="490,520 510,500 540,520 547,548 577,573 612,608 647,648 672,693 693,728 698,753 728,793 743,843 738,894 758,919 788,939 818,954 848,994 888,1019 918,1039 948,1069 978,1094 1008,1124 1039,1149 1049,1179 1059,1204 1074,1245 1089,1280 1094,1320 1110,1370 1108,1410 1080,1440 1020,1430 970,1420 948,1390 933,1345 908,1320 888,1295 868,1265 838,1245 813,1220 808,1190 783,1169 758,1144 738,1119 718,1094 693,1069 693,1039 677,1014 662,994 647,969 622,944 597,919 577,894 547,884 540,870 530,820 510,780 500,730 480,680 475,620 490,570"/>
<polygon fill="#C5E8FA" points="555,800 600,780 640,760 680,790 700,830 660,850 610,830 570,840"/>
<polygon fill="#C5E8FA" points="690,960 730,950 770,990 740,1010 700,1000"/>
<polygon fill="#C5E8FA" points="600,900 660,890 700,930 650,940"/>
<polygon fill="#C5E8FA" points="560,690 600,680 610,720 570,730"/>
<polygon fill="#FFFFFF" points="1180,1440 1240,1400 1290,1360 1330,1340 1290,1300 1290,1260 1340,1250 1370,1210 1360,1160 1380,1100 1420,1110 1470,1130 1530,1120 1590,1130 1640,1120 1690,1090 1740,1060 1789,1100 1789,1330 1750,1330 1700,1290 1650,1300 1640,1350 1670,1390 1700,1430 1740,1420 1789,1440 1789,1789 1540,1789 1540,1720 1500,1680 1460,1660 1440,1620 1400,1560 1340,1520 1260,1500 1200,1470"/>
<polygon fill="#C5E8FA" points="1600,1160 1650,1140 1700,1170 1720,1220 1690,1260 1640,1240 1610,1200"/>
<polygon fill="#C5E8FA" points="1400,1200 1440,1180 1470,1230 1440,1270 1410,1250"/>
<polygon fill="#C5E8FA" points="1480,1200 1510,1190 1520,1230 1490,1240"/>
<polygon fill="#C5E8FA" points="1590,1340 1630,1300 1660,1330 1630,1370"/>
<polygon fill="#C5E8FA" points="1330,1380 1400,1360 1460,1340 1520,1350 1480,1380 1400,1400 1340,1410"/>
<polygon fill="#C5E8FA" points="1420,1480 1470,1470 1490,1490 1440,1500"/>
<polygon fill="#C5E8FA" points="1660,1440 1700,1460 1680,1480"/>
<polygon fill="#FFFFFF" points="1270,1100 1300,1085 1320,1110 1300,1135"/>
<polygon fill="#FFFFFF" points="1255,1165 1275,1150 1280,1180 1260,1195"/>
<polygon fill="#FFFFFF" points="960,520 980,510 985,545 965,540"/>
<polygon fill="#FFFFFF" points="1310,1040 1330,1030 1335,1050 1315,1058"/>
<polygon fill="#FFFFFF" points="650,1160 700,1170 720,1200 700,1230 660,1200"/>
<polygon fill="#FFFFFF" points="690,1250 740,1270 720,1290"/>
<polygon fill="#FFFFFF" points="770,1300 800,1310 790,1340"/>
<polygon fill="#FFFFFF" points="790,1350 870,1360 920,1400 900,1440 830,1400"/>
<polygon fill="#FFFFFF" points="780,1500 900,1480 1000,1520 1100,1500 1180,1510 1250,1530 1330,1600 1400,1640 1440,1700 1460,1789 700,1789"/>
<polygon fill="#86C5EB" points="828,191 868,191 863,226 853,251 868,281 873,321 863,346 843,346 828,311 823,271 833,236 823,211"/>
<polygon fill="#86C5EB" points="582,95 597,90 604,105 589,110"/>
<polygon fill="#86C5EB" points="727,296 752,296 772,316 762,331 737,316"/>
<polygon fill="#86C5EB" points="828,532 843,527 853,542 838,549"/>
<polygon fill="#86C5EB" points="772,544 787,539 792,549 780,554"/>
<polygon fill="#86C5EB" points="221,246 236,206 261,191 246,216 231,251"/>
<polygon fill="#86C5EB" points="266,336 286,329 306,346 321,361 306,369 286,351"/>
<polygon fill="#86C5EB" points="612,60 692,35 712,15 742,20 772,45 802,85 853,95 883,115 883,166 843,166 802,145 762,150 722,145 692,125 652,115 692,85 682,60"/>
<polygon fill="#86C5EB" points="825,533 843,527 853,543 838,550"/>
<polygon fill="#86C5EB" points="770,543 788,538 790,550 778,555"/>
<polygon fill="#86C5EB" points="1423,30 1494,20 1534,40 1574,70 1604,100 1629,140 1634,171 1604,171 1559,166 1539,140 1514,110 1484,95 1453,110 1433,100"/>
<polygon fill="#86C5EB" points="1363,196 1388,211 1393,246 1368,251 1353,236"/>
<polygon fill="#86C5EB" points="1539,191 1564,150 1614,140 1789,171 1789,301 1744,281 1714,296 1674,281 1629,321 1644,341 1659,351 1644,371 1614,381 1584,376 1544,361 1509,331 1504,301 1524,281 1559,281 1554,236"/>
<polygon fill="#86C5EB" points="1659,502 1674,471 1704,476 1714,507 1714,542 1694,557 1674,547 1664,527"/>
<polygon fill="#86C5EB" points="1684,662 1699,652 1719,677 1734,722 1724,742 1704,732 1694,692"/>
<polygon fill="#86C5EB" points="904,201 932,193 967,216 942,226 912,223"/>
<polygon fill="#86C5EB" points="997,201 1012,191 1022,221 1052,241 1082,266 1070,283 1042,261 1007,246"/>
<polygon fill="#86C5EB" points="1107,241 1127,231 1132,241 1112,251"/>
<polygon fill="#86C5EB" points="929,100 949,93 962,103 944,110"/>
<polygon fill="#86C5EB" points="1163,196 1193,186 1233,191 1263,206 1253,226 1228,221 1193,206 1168,211"/>
<polygon fill="#5396D2" points="1559,201 1584,171 1614,150 1644,176 1674,201 1694,186 1744,181 1774,191 1774,236 1744,246 1704,246 1664,236 1644,281 1614,301 1589,296 1569,261"/>
<polygon fill="#FFFFFF" points="952,512 975,509 980,544 957,527"/>
<defs><polygon id="e1" points="469,0 539,0 532,45 522,75 524,110 517,130 497,133 481,115 471,85 474,50"/><polygon id="e2" points="717,70 737,55 762,60 770,80 752,98 730,93"/><polygon id="e3" points="757,108 767,105 782,120 772,125"/><polygon id="e4" points="848,115 858,113 860,166 850,168"/><polygon id="e5" points="853,155 860,155 863,171 854,171"/><polygon id="e6" points="848,181 863,181 863,201 853,201"/><polygon id="e7" points="647,10 670,10 667,24 649,24"/><polygon id="e8" points="311,251 323,241 341,261 351,281 341,288 326,281 316,266"/><polygon id="e9" points="321,253 329,253 329,268 322,266"/><polygon id="e10" points="349,286 356,283 374,308 366,313"/><polygon id="e11" points="344,356 361,341 371,321 396,318 401,331 391,351 381,369 361,376 346,369"/><polygon id="e12" points="424,311 441,296 464,316 444,334"/><polygon id="e13" points="481,288 502,266 532,261 552,271 532,291 512,303 489,301"/><polygon id="e14" points="589,256 602,248 614,256 602,263"/><polygon id="e15" points="351,351 366,321 401,316 426,301 446,293 471,296 502,261 542,256 577,256 602,243 624,251 622,266 592,276 567,286 532,301 502,311 471,321 446,341 421,331 401,341 386,371 361,379 344,369"/><polygon id="e16" points="494,211 504,208 509,223 499,228"/><polygon id="e17" points="539,323 564,321 567,331 542,334"/><ellipse id="e18" cx="359" cy="524" rx="5" ry="5"/><polygon id="e19" points="584,411 602,409 609,421 594,426"/><polygon id="e20" points="599,451 617,436 652,434 687,439 700,451 682,464 647,466 622,476 604,471"/><polygon id="e21" points="702,446 722,449 727,459 707,461"/><polygon id="e22" points="737,481 762,479 772,494 747,497"/><polygon id="e23" points="622,522 634,507 652,512 657,529 644,542 627,539"/><polygon id="e24" points="675,559 685,552 695,559 685,567"/><polygon id="e25" points="652,542 672,547 702,567 722,577 717,587 692,577 667,562 649,552"/><polygon id="e26" points="835,281 848,271 860,296 855,326 845,321 835,301"/><polygon id="e27" points="733,587 762,605 777,631 787,655 822,691 837,726 858,757 858,760 845,782 862,795 876,814 900,823 920,828 922,830 922,836 903,855 903,871 926,885 946,900 957,920 982,931 983,936 973,955 973,972 989,984 1021,976 1072,1005 1083,1022 1083,1026 1079,1029 1051,1029 1040,1040 1048,1055 1071,1065 1101,1085 1126,1095 1148,1106 1149,1110 1147,1113 1131,1123 1111,1132 1133,1162 1134,1182 1146,1199 1160,1191 1189,1143 1189,1110 1179,1076 1165,1052 1095,968 1065,942 1040,912 1020,882 994,856 944,796 914,767 895,742 864,721 856,690 844,660 829,637 806,623 785,617 770,597 747,585"/><polygon id="e28" points="1184,1164 1204,1149 1214,1174 1199,1195 1184,1190"/><polygon id="e29" points="1194,1195 1219,1179 1222,1215 1199,1225"/><polygon id="e30" points="1174,1245 1194,1235 1204,1255 1189,1267"/><ellipse id="e31" cx="1362" cy="748" rx="11" ry="14"/><polygon id="e32" points="1385,668 1410,643 1420,653 1400,678"/><polygon id="e33" points="1425,578 1444,568 1444,603 1430,600"/><polygon id="e34" points="1122,43 1132,30 1153,33 1160,50 1148,68 1127,70"/><polygon id="e35" points="1436,48 1453,40 1474,50 1469,65 1448,68"/><polygon id="e36" points="1441,75 1458,73 1461,95 1446,103"/><polygon id="e37" points="1464,0 1494,0 1491,20 1466,20"/><polygon id="e38" points="1484,45 1519,50 1549,65 1564,95 1594,115 1614,135 1594,150 1564,125 1539,105 1509,90 1489,75"/><polygon id="e39" points="1321,145 1336,138 1356,155 1358,173 1338,168 1323,158"/><polygon id="e40" points="1183,166 1213,150 1248,135 1258,145 1233,160 1203,171"/><polygon id="e41" points="1198,163 1213,161 1213,168 1199,169"/><polygon id="e42" points="1301,261 1308,236 1328,211 1346,193 1361,201 1358,226 1338,251 1313,271"/><polygon id="e43" points="1316,241 1328,226 1338,236 1323,251"/><ellipse id="e44" cx="1325" cy="235" rx="2.5" ry="2.5"/><polygon id="e45" points="1581,221 1594,213 1614,226 1629,251 1627,271 1609,278 1594,261 1584,241"/><polygon id="e46" points="1599,191 1614,183 1634,193 1629,206 1609,211"/><polygon id="e47" points="1594,161 1621,161 1624,173 1596,173"/><polygon id="e48" points="1694,206 1709,193 1734,196 1749,211 1739,228 1714,231 1699,223"/><polygon id="e49" points="1431,301 1443,291 1461,298 1458,313 1438,316"/><polygon id="e50" points="1524,291 1539,281 1559,301 1574,326 1579,346 1559,354 1539,341 1529,316"/><ellipse id="e51" cx="1541" cy="298" rx="3" ry="3"/><ellipse id="e52" cx="1559" cy="336" rx="4" ry="4"/><polygon id="e53" points="1744,374 1754,364 1767,374 1757,386"/><polygon id="e54" points="1684,436 1694,416 1714,406 1729,416 1719,441 1699,461 1687,459"/><polygon id="e55" points="1719,404 1737,399 1739,414 1724,416"/><polygon id="e56" points="1684,464 1697,406 1744,366 1769,374 1744,401 1724,441 1699,474"/><polygon id="e57" points="1677,497 1687,481 1697,497 1687,512"/><ellipse id="e58" cx="1321" cy="386" rx="3" ry="3"/><ellipse id="e59" cx="1456" cy="471" rx="4" ry="3"/><ellipse id="e60" cx="1611" cy="464" rx="4" ry="5"/><ellipse id="e61" cx="1436" cy="587" rx="3" ry="4"/><ellipse id="e62" cx="1541" cy="559" rx="12.5" ry="3"/><ellipse id="e63" cx="1403" cy="657" rx="15" ry="4" transform="rotate(-45 1403.32 657.003)"/><ellipse id="e64" cx="1361" cy="745" rx="11" ry="11"/><ellipse id="e65" cx="1301" cy="654" rx="7.5" ry="12.5"/><ellipse id="e66" cx="1519" cy="654" rx="15" ry="12.5"/><ellipse id="e67" cx="1446" cy="760" rx="7.5" ry="14"/><ellipse id="e68" cx="1504" cy="757" rx="11" ry="15"/><ellipse id="e69" cx="1601" cy="637" rx="9" ry="5"/><ellipse id="e70" cx="1358" cy="502" rx="9" ry="6"/><ellipse id="e71" cx="1556" cy="401" rx="6" ry="7.5"/><ellipse id="e72" cx="1697" cy="670" rx="4" ry="4"/><ellipse id="e73" cx="1714" cy="725" rx="5" ry="7"/><ellipse id="e74" cx="1665" cy="1200" rx="10" ry="10"/><ellipse id="e75" cx="1460" cy="1585" rx="8" ry="8"/><ellipse id="e76" cx="1710" cy="700" rx="14" ry="40" transform="rotate(-15 1710 700)"/><ellipse id="e77" cx="1715" cy="725" rx="6" ry="10"/><ellipse id="e78" cx="1300" cy="655" rx="8" ry="12"/><ellipse id="e79" cx="1400" cy="660" rx="10" ry="22" transform="rotate(35 1400 660)"/><ellipse id="e80" cx="1520" cy="655" rx="12" ry="12"/><ellipse id="e81" cx="1440" cy="760" rx="8" ry="14"/><ellipse id="e82" cx="1505" cy="758" rx="10" ry="14"/><ellipse id="e83" cx="360" cy="525" rx="8" ry="8"/></defs>
<use href="#e1" fill="#86C5EB" stroke="#86C5EB" stroke-width="62" stroke-linejoin="round"/>
<use href="#e2" fill="#86C5EB" stroke="#86C5EB" stroke-width="62" stroke-linejoin="round"/>
<use href="#e3" fill="#86C5EB" stroke="#86C5EB" stroke-width="50" stroke-linejoin="round"/>
<use href="#e4" fill="#86C5EB" stroke="#86C5EB" stroke-width="39" stroke-linejoin="round"/>
<use href="#e5" fill="#86C5EB" stroke="#86C5EB" stroke-width="45" stroke-linejoin="round"/>
<use href="#e6" fill="#86C5EB" stroke="#86C5EB" stroke-width="32" stroke-linejoin="round"/>
<use href="#e7" fill="#86C5EB" stroke="#86C5EB" stroke-width="45" stroke-linejoin="round"/>
<use href="#e8" fill="#86C5EB" stroke="#86C5EB" stroke-width="39" stroke-linejoin="round"/>
<use href="#e9" fill="#86C5EB" stroke="#86C5EB" stroke-width="45" stroke-linejoin="round"/>
<use href="#e10" fill="#86C5EB" stroke="#86C5EB" stroke-width="32" stroke-linejoin="round"/>
<use href="#e11" fill="#86C5EB" stroke="#86C5EB" stroke-width="62" stroke-linejoin="round"/>
<use href="#e12" fill="#86C5EB" stroke="#86C5EB" stroke-width="62" stroke-linejoin="round"/>
<use href="#e13" fill="#86C5EB" stroke="#86C5EB" stroke-width="62" stroke-linejoin="round"/>
<use href="#e14" fill="#86C5EB" stroke="#86C5EB" stroke-width="54" stroke-linejoin="round"/>
<use href="#e15" fill="#86C5EB" stroke="#86C5EB" stroke-width="39" stroke-linejoin="round"/>
<use href="#e16" fill="#86C5EB" stroke="#86C5EB" stroke-width="24" stroke-linejoin="round"/>
<use href="#e17" fill="#86C5EB" stroke="#86C5EB" stroke-width="24" stroke-linejoin="round"/>
<use href="#e18" fill="#86C5EB" stroke="#86C5EB" stroke-width="32" stroke-linejoin="round"/>
<use href="#e19" fill="#86C5EB" stroke="#86C5EB" stroke-width="39" stroke-linejoin="round"/>
<use href="#e20" fill="#86C5EB" stroke="#86C5EB" stroke-width="62" stroke-linejoin="round"/>
<use href="#e21" fill="#86C5EB" stroke="#86C5EB" stroke-width="32" stroke-linejoin="round"/>
<use href="#e22" fill="#86C5EB" stroke="#86C5EB" stroke-width="32" stroke-linejoin="round"/>
<use href="#e23" fill="#86C5EB" stroke="#86C5EB" stroke-width="62" stroke-linejoin="round"/>
<use href="#e24" fill="#86C5EB" stroke="#86C5EB" stroke-width="54" stroke-linejoin="round"/>
<use href="#e25" fill="#86C5EB" stroke="#86C5EB" stroke-width="32" stroke-linejoin="round"/>
<use href="#e26" fill="#86C5EB" stroke="#86C5EB" stroke-width="39" stroke-linejoin="round"/>
<use href="#e27" fill="#86C5EB" stroke="#86C5EB" stroke-width="53.7" stroke-linejoin="round"/>
<use href="#e28" fill="#86C5EB" stroke="#86C5EB" stroke-width="32.5" stroke-linejoin="round"/>
<use href="#e29" fill="#86C5EB" stroke="#86C5EB" stroke-width="26.7" stroke-linejoin="round"/>
<use href="#e30" fill="#86C5EB" stroke="#86C5EB" stroke-width="20" stroke-linejoin="round"/>
<use href="#e31" fill="#86C5EB" stroke="#86C5EB" stroke-width="24" stroke-linejoin="round"/>
<use href="#e32" fill="#86C5EB" stroke="#86C5EB" stroke-width="14" stroke-linejoin="round"/>
<use href="#e33" fill="#86C5EB" stroke="#86C5EB" stroke-width="14" stroke-linejoin="round"/>
<use href="#e34" fill="#86C5EB" stroke="#86C5EB" stroke-width="58" stroke-linejoin="round"/>
<use href="#e35" fill="#86C5EB" stroke="#86C5EB" stroke-width="50" stroke-linejoin="round"/>
<use href="#e36" fill="#86C5EB" stroke="#86C5EB" stroke-width="24" stroke-linejoin="round"/>
<use href="#e37" fill="#86C5EB" stroke="#86C5EB" stroke-width="39" stroke-linejoin="round"/>
<use href="#e38" fill="#86C5EB" stroke="#86C5EB" stroke-width="14" stroke-linejoin="round"/>
<use href="#e39" fill="#86C5EB" stroke="#86C5EB" stroke-width="32" stroke-linejoin="round"/>
<use href="#e40" fill="#86C5EB" stroke="#86C5EB" stroke-width="14" stroke-linejoin="round"/>
<use href="#e41" fill="#86C5EB" stroke="#86C5EB" stroke-width="21.3" stroke-linejoin="round"/>
<use href="#e42" fill="#86C5EB" stroke="#86C5EB" stroke-width="32" stroke-linejoin="round"/>
<use href="#e43" fill="#86C5EB" stroke="#86C5EB" stroke-width="39" stroke-linejoin="round"/>
<use href="#e44" fill="#86C5EB" stroke="#86C5EB" stroke-width="33.3" stroke-linejoin="round"/>
<use href="#e45" fill="#86C5EB" stroke="#86C5EB" stroke-width="54" stroke-linejoin="round"/>
<use href="#e46" fill="#86C5EB" stroke="#86C5EB" stroke-width="45" stroke-linejoin="round"/>
<use href="#e47" fill="#86C5EB" stroke="#86C5EB" stroke-width="39" stroke-linejoin="round"/>
<use href="#e48" fill="#86C5EB" stroke="#86C5EB" stroke-width="62" stroke-linejoin="round"/>
<use href="#e49" fill="#86C5EB" stroke="#86C5EB" stroke-width="32" stroke-linejoin="round"/>
<use href="#e50" fill="#86C5EB" stroke="#86C5EB" stroke-width="32" stroke-linejoin="round"/>
<use href="#e51" fill="#86C5EB" stroke="#86C5EB" stroke-width="26" stroke-linejoin="round"/>
<use href="#e52" fill="#86C5EB" stroke="#86C5EB" stroke-width="26" stroke-linejoin="round"/>
<use href="#e53" fill="#86C5EB" stroke="#86C5EB" stroke-width="45" stroke-linejoin="round"/>
<use href="#e54" fill="#86C5EB" stroke="#86C5EB" stroke-width="58" stroke-linejoin="round"/>
<use href="#e55" fill="#86C5EB" stroke="#86C5EB" stroke-width="45" stroke-linejoin="round"/>
<use href="#e56" fill="#86C5EB" stroke="#86C5EB" stroke-width="32" stroke-linejoin="round"/>
<use href="#e57" fill="#86C5EB" stroke="#86C5EB" stroke-width="39" stroke-linejoin="round"/>
<use href="#e58" fill="#86C5EB" stroke="#86C5EB" stroke-width="14" stroke-linejoin="round"/>
<use href="#e59" fill="#86C5EB" stroke="#86C5EB" stroke-width="24" stroke-linejoin="round"/>
<use href="#e60" fill="#86C5EB" stroke="#86C5EB" stroke-width="24" stroke-linejoin="round"/>
<use href="#e61" fill="#86C5EB" stroke="#86C5EB" stroke-width="24" stroke-linejoin="round"/>
<use href="#e62" fill="#86C5EB" stroke="#86C5EB" stroke-width="14" stroke-linejoin="round"/>
<use href="#e63" fill="#86C5EB" stroke="#86C5EB" stroke-width="14" stroke-linejoin="round"/>
<use href="#e64" fill="#86C5EB" stroke="#86C5EB" stroke-width="24" stroke-linejoin="round"/>
<use href="#e65" fill="#86C5EB"/>
<use href="#e66" fill="#86C5EB"/>
<use href="#e67" fill="#86C5EB"/>
<use href="#e68" fill="#86C5EB"/>
<use href="#e69" fill="#86C5EB"/>
<use href="#e70" fill="#86C5EB"/>
<use href="#e71" fill="#86C5EB"/>
<use href="#e72" fill="#86C5EB" stroke="#86C5EB" stroke-width="9.3" stroke-linejoin="round"/>
<use href="#e73" fill="#86C5EB" stroke="#86C5EB" stroke-width="9.3" stroke-linejoin="round"/>
<use href="#e74" fill="#86C5EB" stroke="#86C5EB" stroke-width="24" stroke-linejoin="round"/>
<use href="#e75" fill="#86C5EB" stroke="#86C5EB" stroke-width="14" stroke-linejoin="round"/>
<use href="#e76" fill="#86C5EB"/>
<use href="#e77" fill="#86C5EB" stroke="#86C5EB" stroke-width="9.3" stroke-linejoin="round"/>
<use href="#e78" fill="#86C5EB"/>
<use href="#e79" fill="#86C5EB"/>
<use href="#e80" fill="#86C5EB"/>
<use href="#e81" fill="#86C5EB"/>
<use href="#e82" fill="#86C5EB"/>
<use href="#e83" fill="#86C5EB" stroke="#86C5EB" stroke-width="24" stroke-linejoin="round"/>
<use href="#e1" fill="#5396D2" stroke="#5396D2" stroke-width="48" stroke-linejoin="round"/>
<use href="#e2" fill="#5396D2" stroke="#5396D2" stroke-width="48" stroke-linejoin="round"/>
<use href="#e3" fill="#5396D2" stroke="#5396D2" stroke-width="36" stroke-linejoin="round"/>
<use href="#e4" fill="#5396D2" stroke="#5396D2" stroke-width="25" stroke-linejoin="round"/>
<use href="#e5" fill="#5396D2" stroke="#5396D2" stroke-width="31" stroke-linejoin="round"/>
<use href="#e6" fill="#5396D2" stroke="#5396D2" stroke-width="18" stroke-linejoin="round"/>
<use href="#e7" fill="#5396D2" stroke="#5396D2" stroke-width="31" stroke-linejoin="round"/>
<use href="#e8" fill="#5396D2" stroke="#5396D2" stroke-width="25" stroke-linejoin="round"/>
<use href="#e9" fill="#5396D2" stroke="#5396D2" stroke-width="31" stroke-linejoin="round"/>
<use href="#e10" fill="#5396D2" stroke="#5396D2" stroke-width="18" stroke-linejoin="round"/>
<use href="#e11" fill="#5396D2" stroke="#5396D2" stroke-width="48" stroke-linejoin="round"/>
<use href="#e12" fill="#5396D2" stroke="#5396D2" stroke-width="48" stroke-linejoin="round"/>
<use href="#e13" fill="#5396D2" stroke="#5396D2" stroke-width="48" stroke-linejoin="round"/>
<use href="#e14" fill="#5396D2" stroke="#5396D2" stroke-width="40" stroke-linejoin="round"/>
<use href="#e15" fill="#5396D2" stroke="#5396D2" stroke-width="25" stroke-linejoin="round"/>
<use href="#e16" fill="#5396D2" stroke="#5396D2" stroke-width="10" stroke-linejoin="round"/>
<use href="#e17" fill="#5396D2" stroke="#5396D2" stroke-width="10" stroke-linejoin="round"/>
<use href="#e18" fill="#5396D2" stroke="#5396D2" stroke-width="18" stroke-linejoin="round"/>
<use href="#e19" fill="#5396D2" stroke="#5396D2" stroke-width="25" stroke-linejoin="round"/>
<use href="#e20" fill="#5396D2" stroke="#5396D2" stroke-width="48" stroke-linejoin="round"/>
<use href="#e21" fill="#5396D2" stroke="#5396D2" stroke-width="18" stroke-linejoin="round"/>
<use href="#e22" fill="#5396D2" stroke="#5396D2" stroke-width="18" stroke-linejoin="round"/>
<use href="#e23" fill="#5396D2" stroke="#5396D2" stroke-width="48" stroke-linejoin="round"/>
<use href="#e24" fill="#5396D2" stroke="#5396D2" stroke-width="40" stroke-linejoin="round"/>
<use href="#e25" fill="#5396D2" stroke="#5396D2" stroke-width="18" stroke-linejoin="round"/>
<use href="#e26" fill="#5396D2" stroke="#5396D2" stroke-width="25" stroke-linejoin="round"/>
<use href="#e27" fill="#5396D2" stroke="#5396D2" stroke-width="41.6" stroke-linejoin="round"/>
<use href="#e28" fill="#5396D2" stroke="#5396D2" stroke-width="20.8" stroke-linejoin="round"/>
<use href="#e29" fill="#5396D2" stroke="#5396D2" stroke-width="15" stroke-linejoin="round"/>
<use href="#e30" fill="#5396D2" stroke="#5396D2" stroke-width="8.3" stroke-linejoin="round"/>
<use href="#e31" fill="#5396D2" stroke="#5396D2" stroke-width="10" stroke-linejoin="round"/>
<use href="#e32" fill="#5396D2"/>
<use href="#e33" fill="#5396D2"/>
<use href="#e34" fill="#5396D2" stroke="#5396D2" stroke-width="44" stroke-linejoin="round"/>
<use href="#e35" fill="#5396D2" stroke="#5396D2" stroke-width="36" stroke-linejoin="round"/>
<use href="#e36" fill="#5396D2" stroke="#5396D2" stroke-width="10" stroke-linejoin="round"/>
<use href="#e37" fill="#5396D2" stroke="#5396D2" stroke-width="25" stroke-linejoin="round"/>
<use href="#e38" fill="#5396D2"/>
<use href="#e39" fill="#5396D2" stroke="#5396D2" stroke-width="18" stroke-linejoin="round"/>
<use href="#e40" fill="#5396D2"/>
<use href="#e41" fill="#5396D2" stroke="#5396D2" stroke-width="12" stroke-linejoin="round"/>
<use href="#e42" fill="#5396D2" stroke="#5396D2" stroke-width="18" stroke-linejoin="round"/>
<use href="#e43" fill="#5396D2" stroke="#5396D2" stroke-width="25" stroke-linejoin="round"/>
<use href="#e44" fill="#5396D2" stroke="#5396D2" stroke-width="24" stroke-linejoin="round"/>
<use href="#e45" fill="#5396D2" stroke="#5396D2" stroke-width="40" stroke-linejoin="round"/>
<use href="#e46" fill="#5396D2" stroke="#5396D2" stroke-width="31" stroke-linejoin="round"/>
<use href="#e47" fill="#5396D2" stroke="#5396D2" stroke-width="25" stroke-linejoin="round"/>
<use href="#e48" fill="#5396D2" stroke="#5396D2" stroke-width="48" stroke-linejoin="round"/>
<use href="#e49" fill="#5396D2" stroke="#5396D2" stroke-width="18" stroke-linejoin="round"/>
<use href="#e50" fill="#5396D2" stroke="#5396D2" stroke-width="18" stroke-linejoin="round"/>
<use href="#e51" fill="#5396D2" stroke="#5396D2" stroke-width="16.7" stroke-linejoin="round"/>
<use href="#e52" fill="#5396D2" stroke="#5396D2" stroke-width="16.7" stroke-linejoin="round"/>
<use href="#e53" fill="#5396D2" stroke="#5396D2" stroke-width="31" stroke-linejoin="round"/>
<use href="#e54" fill="#5396D2" stroke="#5396D2" stroke-width="44" stroke-linejoin="round"/>
<use href="#e55" fill="#5396D2" stroke="#5396D2" stroke-width="31" stroke-linejoin="round"/>
<use href="#e56" fill="#5396D2" stroke="#5396D2" stroke-width="18" stroke-linejoin="round"/>
<use href="#e57" fill="#5396D2" stroke="#5396D2" stroke-width="25" stroke-linejoin="round"/>
<use href="#e58" fill="#5396D2"/>
<use href="#e59" fill="#5396D2" stroke="#5396D2" stroke-width="10" stroke-linejoin="round"/>
<use href="#e60" fill="#5396D2" stroke="#5396D2" stroke-width="10" stroke-linejoin="round"/>
<use href="#e61" fill="#5396D2" stroke="#5396D2" stroke-width="10" stroke-linejoin="round"/>
<use href="#e62" fill="#5396D2"/>
<use href="#e63" fill="#5396D2"/>
<use href="#e64" fill="#5396D2" stroke="#5396D2" stroke-width="10" stroke-linejoin="round"/>
<use href="#e72" fill="#5396D2"/>
<use href="#e73" fill="#5396D2"/>
<use href="#e74" fill="#5396D2" stroke="#5396D2" stroke-width="10" stroke-linejoin="round"/>
<use href="#e75" fill="#5396D2"/>
<use href="#e77" fill="#5396D2"/>
<use href="#e83" fill="#5396D2" stroke="#5396D2" stroke-width="10" stroke-linejoin="round"/>
<use href="#e1" fill="#4DA584" stroke="#4DA584" stroke-width="38" stroke-linejoin="round"/>
<use href="#e2" fill="#4DA584" stroke="#4DA584" stroke-width="38" stroke-linejoin="round"/>
<use href="#e3" fill="#4DA584" stroke="#4DA584" stroke-width="26" stroke-linejoin="round"/>
<use href="#e4" fill="#4DA584" stroke="#4DA584" stroke-width="15" stroke-linejoin="round"/>
<use href="#e5" fill="#4DA584" stroke="#4DA584" stroke-width="21" stroke-linejoin="round"/>
<use href="#e6" fill="#4DA584" stroke="#4DA584" stroke-width="8" stroke-linejoin="round"/>
<use href="#e7" fill="#4DA584" stroke="#4DA584" stroke-width="21" stroke-linejoin="round"/>
<use href="#e8" fill="#4DA584" stroke="#4DA584" stroke-width="15" stroke-linejoin="round"/>
<use href="#e9" fill="#4DA584" stroke="#4DA584" stroke-width="21" stroke-linejoin="round"/>
<use href="#e10" fill="#4DA584" stroke="#4DA584" stroke-width="8" stroke-linejoin="round"/>
<use href="#e11" fill="#4DA584" stroke="#4DA584" stroke-width="38" stroke-linejoin="round"/>
<use href="#e12" fill="#4DA584" stroke="#4DA584" stroke-width="38" stroke-linejoin="round"/>
<use href="#e13" fill="#4DA584" stroke="#4DA584" stroke-width="38" stroke-linejoin="round"/>
<use href="#e14" fill="#4DA584" stroke="#4DA584" stroke-width="30" stroke-linejoin="round"/>
<use href="#e15" fill="#4DA584" stroke="#4DA584" stroke-width="15" stroke-linejoin="round"/>
<use href="#e16" fill="#4DA584"/>
<use href="#e17" fill="#4DA584"/>
<use href="#e18" fill="#4DA584" stroke="#4DA584" stroke-width="8" stroke-linejoin="round"/>
<use href="#e19" fill="#4DA584" stroke="#4DA584" stroke-width="15" stroke-linejoin="round"/>
<use href="#e20" fill="#4DA584" stroke="#4DA584" stroke-width="38" stroke-linejoin="round"/>
<use href="#e21" fill="#4DA584" stroke="#4DA584" stroke-width="8" stroke-linejoin="round"/>
<use href="#e22" fill="#4DA584" stroke="#4DA584" stroke-width="8" stroke-linejoin="round"/>
<use href="#e23" fill="#4DA584" stroke="#4DA584" stroke-width="38" stroke-linejoin="round"/>
<use href="#e24" fill="#4DA584" stroke="#4DA584" stroke-width="30" stroke-linejoin="round"/>
<use href="#e25" fill="#4DA584" stroke="#4DA584" stroke-width="8" stroke-linejoin="round"/>
<use href="#e26" fill="#4DA584" stroke="#4DA584" stroke-width="15" stroke-linejoin="round"/>
<use href="#e27" fill="#4DA584" stroke="#4DA584" stroke-width="32.9" stroke-linejoin="round"/>
<use href="#e28" fill="#4DA584" stroke="#4DA584" stroke-width="12.5" stroke-linejoin="round"/>
<use href="#e29" fill="#4DA584" stroke="#4DA584" stroke-width="6.7" stroke-linejoin="round"/>
<use href="#e30" fill="#4DA584"/>
<use href="#e31" fill="#4DA584"/>
<use href="#e34" fill="#4DA584" stroke="#4DA584" stroke-width="34" stroke-linejoin="round"/>
<use href="#e35" fill="#4DA584" stroke="#4DA584" stroke-width="26" stroke-linejoin="round"/>
<use href="#e36" fill="#4DA584"/>
<use href="#e37" fill="#4DA584" stroke="#4DA584" stroke-width="15" stroke-linejoin="round"/>
<use href="#e39" fill="#4DA584" stroke="#4DA584" stroke-width="8" stroke-linejoin="round"/>
<use href="#e41" fill="#4DA584" stroke="#4DA584" stroke-width="5.3" stroke-linejoin="round"/>
<use href="#e42" fill="#4DA584" stroke="#4DA584" stroke-width="8" stroke-linejoin="round"/>
<use href="#e43" fill="#4DA584" stroke="#4DA584" stroke-width="15" stroke-linejoin="round"/>
<use href="#e44" fill="#4DA584" stroke="#4DA584" stroke-width="17.3" stroke-linejoin="round"/>
<use href="#e45" fill="#4DA584" stroke="#4DA584" stroke-width="30" stroke-linejoin="round"/>
<use href="#e46" fill="#4DA584" stroke="#4DA584" stroke-width="21" stroke-linejoin="round"/>
<use href="#e47" fill="#4DA584" stroke="#4DA584" stroke-width="15" stroke-linejoin="round"/>
<use href="#e48" fill="#4DA584" stroke="#4DA584" stroke-width="38" stroke-linejoin="round"/>
<use href="#e49" fill="#4DA584" stroke="#4DA584" stroke-width="8" stroke-linejoin="round"/>
<use href="#e50" fill="#4DA584" stroke="#4DA584" stroke-width="8" stroke-linejoin="round"/>
<use href="#e51" fill="#4DA584" stroke="#4DA584" stroke-width="10" stroke-linejoin="round"/>
<use href="#e52" fill="#4DA584" stroke="#4DA584" stroke-width="10" stroke-linejoin="round"/>
<use href="#e53" fill="#4DA584" stroke="#4DA584" stroke-width="21" stroke-linejoin="round"/>
<use href="#e54" fill="#4DA584" stroke="#4DA584" stroke-width="34" stroke-linejoin="round"/>
<use href="#e55" fill="#4DA584" stroke="#4DA584" stroke-width="21" stroke-linejoin="round"/>
<use href="#e56" fill="#4DA584" stroke="#4DA584" stroke-width="8" stroke-linejoin="round"/>
<use href="#e57" fill="#4DA584" stroke="#4DA584" stroke-width="15" stroke-linejoin="round"/>
<use href="#e59" fill="#4DA584"/>
<use href="#e60" fill="#4DA584"/>
<use href="#e61" fill="#4DA584"/>
<use href="#e64" fill="#4DA584"/>
<use href="#e74" fill="#4DA584"/>
<use href="#e83" fill="#4DA584"/>
<use href="#e1" fill="#6DC34B" stroke="#6DC34B" stroke-width="30" stroke-linejoin="round"/>
<use href="#e2" fill="#6DC34B" stroke="#6DC34B" stroke-width="30" stroke-linejoin="round"/>
<use href="#e3" fill="#6DC34B" stroke="#6DC34B" stroke-width="18" stroke-linejoin="round"/>
<use href="#e4" fill="#6DC34B" stroke="#6DC34B" stroke-width="7" stroke-linejoin="round"/>
<use href="#e5" fill="#6DC34B" stroke="#6DC34B" stroke-width="13" stroke-linejoin="round"/>
<use href="#e6" fill="#6DC34B"/>
<use href="#e7" fill="#6DC34B" stroke="#6DC34B" stroke-width="13" stroke-linejoin="round"/>
<use href="#e8" fill="#6DC34B" stroke="#6DC34B" stroke-width="7" stroke-linejoin="round"/>
<use href="#e9" fill="#6DC34B" stroke="#6DC34B" stroke-width="13" stroke-linejoin="round"/>
<use href="#e10" fill="#6DC34B"/>
<use href="#e11" fill="#6DC34B" stroke="#6DC34B" stroke-width="30" stroke-linejoin="round"/>
<use href="#e12" fill="#6DC34B" stroke="#6DC34B" stroke-width="30" stroke-linejoin="round"/>
<use href="#e13" fill="#6DC34B" stroke="#6DC34B" stroke-width="30" stroke-linejoin="round"/>
<use href="#e14" fill="#6DC34B" stroke="#6DC34B" stroke-width="22" stroke-linejoin="round"/>
<use href="#e15" fill="#6DC34B" stroke="#6DC34B" stroke-width="7" stroke-linejoin="round"/>
<use href="#e18" fill="#6DC34B"/>
<use href="#e19" fill="#6DC34B" stroke="#6DC34B" stroke-width="7" stroke-linejoin="round"/>
<use href="#e20" fill="#6DC34B" stroke="#6DC34B" stroke-width="30" stroke-linejoin="round"/>
<use href="#e21" fill="#6DC34B"/>
<use href="#e22" fill="#6DC34B"/>
<use href="#e23" fill="#6DC34B" stroke="#6DC34B" stroke-width="30" stroke-linejoin="round"/>
<use href="#e24" fill="#6DC34B" stroke="#6DC34B" stroke-width="22" stroke-linejoin="round"/>
<use href="#e25" fill="#6DC34B"/>
<use href="#e26" fill="#6DC34B" stroke="#6DC34B" stroke-width="7" stroke-linejoin="round"/>
<use href="#e27" fill="#6DC34B" stroke="#6DC34B" stroke-width="26" stroke-linejoin="round"/>
<use href="#e28" fill="#6DC34B" stroke="#6DC34B" stroke-width="5.8" stroke-linejoin="round"/>
<use href="#e29" fill="#6DC34B"/>
<use href="#e34" fill="#6DC34B" stroke="#6DC34B" stroke-width="26" stroke-linejoin="round"/>
<use href="#e35" fill="#6DC34B" stroke="#6DC34B" stroke-width="18" stroke-linejoin="round"/>
<use href="#e37" fill="#6DC34B" stroke="#6DC34B" stroke-width="7" stroke-linejoin="round"/>
<use href="#e39" fill="#6DC34B"/>
<use href="#e41" fill="#6DC34B"/>
<use href="#e42" fill="#6DC34B"/>
<use href="#e43" fill="#6DC34B" stroke="#6DC34B" stroke-width="7" stroke-linejoin="round"/>
<use href="#e44" fill="#6DC34B" stroke="#6DC34B" stroke-width="12" stroke-linejoin="round"/>
<use href="#e45" fill="#6DC34B" stroke="#6DC34B" stroke-width="22" stroke-linejoin="round"/>
<use href="#e46" fill="#6DC34B" stroke="#6DC34B" stroke-width="13" stroke-linejoin="round"/>
<use href="#e47" fill="#6DC34B" stroke="#6DC34B" stroke-width="7" stroke-linejoin="round"/>
<use href="#e48" fill="#6DC34B" stroke="#6DC34B" stroke-width="30" stroke-linejoin="round"/>
<use href="#e49" fill="#6DC34B"/>
<use href="#e50" fill="#6DC34B"/>
<use href="#e51" fill="#6DC34B" stroke="#6DC34B" stroke-width="4.7" stroke-linejoin="round"/>
<use href="#e52" fill="#6DC34B" stroke="#6DC34B" stroke-width="4.7" stroke-linejoin="round"/>
<use href="#e53" fill="#6DC34B" stroke="#6DC34B" stroke-width="13" stroke-linejoin="round"/>
<use href="#e54" fill="#6DC34B" stroke="#6DC34B" stroke-width="26" stroke-linejoin="round"/>
<use href="#e55" fill="#6DC34B" stroke="#6DC34B" stroke-width="13" stroke-linejoin="round"/>
<use href="#e56" fill="#6DC34B"/>
<use href="#e57" fill="#6DC34B" stroke="#6DC34B" stroke-width="7" stroke-linejoin="round"/>
<use href="#e1" fill="#D9E15A" stroke="#D9E15A" stroke-width="23" stroke-linejoin="round"/>
<use href="#e2" fill="#D9E15A" stroke="#D9E15A" stroke-width="23" stroke-linejoin="round"/>
<use href="#e3" fill="#D9E15A" stroke="#D9E15A" stroke-width="11" stroke-linejoin="round"/>
<use href="#e4" fill="#D9E15A"/>
<use href="#e5" fill="#D9E15A" stroke="#D9E15A" stroke-width="6" stroke-linejoin="round"/>
<use href="#e7" fill="#D9E15A" stroke="#D9E15A" stroke-width="6" stroke-linejoin="round"/>
<use href="#e8" fill="#D9E15A"/>
<use href="#e9" fill="#D9E15A" stroke="#D9E15A" stroke-width="6" stroke-linejoin="round"/>
<use href="#e11" fill="#D9E15A" stroke="#D9E15A" stroke-width="23" stroke-linejoin="round"/>
<use href="#e12" fill="#D9E15A" stroke="#D9E15A" stroke-width="23" stroke-linejoin="round"/>
<use href="#e13" fill="#D9E15A" stroke="#D9E15A" stroke-width="23" stroke-linejoin="round"/>
<use href="#e14" fill="#D9E15A" stroke="#D9E15A" stroke-width="15" stroke-linejoin="round"/>
<use href="#e15" fill="#D9E15A"/>
<use href="#e19" fill="#D9E15A"/>
<use href="#e20" fill="#D9E15A" stroke="#D9E15A" stroke-width="23" stroke-linejoin="round"/>
<use href="#e23" fill="#D9E15A" stroke="#D9E15A" stroke-width="23" stroke-linejoin="round"/>
<use href="#e24" fill="#D9E15A" stroke="#D9E15A" stroke-width="15" stroke-linejoin="round"/>
<use href="#e26" fill="#D9E15A"/>
<use href="#e27" fill="#D9E15A" stroke="#D9E15A" stroke-width="19.9" stroke-linejoin="round"/>
<use href="#e28" fill="#D9E15A"/>
<use href="#e34" fill="#D9E15A" stroke="#D9E15A" stroke-width="19" stroke-linejoin="round"/>
<use href="#e35" fill="#D9E15A" stroke="#D9E15A" stroke-width="11" stroke-linejoin="round"/>
<use href="#e37" fill="#D9E15A"/>
<use href="#e43" fill="#D9E15A"/>
<use href="#e44" fill="#D9E15A" stroke="#D9E15A" stroke-width="7.3" stroke-linejoin="round"/>
<use href="#e45" fill="#D9E15A" stroke="#D9E15A" stroke-width="15" stroke-linejoin="round"/>
<use href="#e46" fill="#D9E15A" stroke="#D9E15A" stroke-width="6" stroke-linejoin="round"/>
<use href="#e47" fill="#D9E15A"/>
<use href="#e48" fill="#D9E15A" stroke="#D9E15A" stroke-width="23" stroke-linejoin="round"/>
<use href="#e51" fill="#D9E15A"/>
<use href="#e52" fill="#D9E15A"/>
<use href="#e53" fill="#D9E15A" stroke="#D9E15A" stroke-width="6" stroke-linejoin="round"/>
<use href="#e54" fill="#D9E15A" stroke="#D9E15A" stroke-width="19" stroke-linejoin="round"/>
<use href="#e55" fill="#D9E15A" stroke="#D9E15A" stroke-width="6" stroke-linejoin="round"/>
<use href="#e57" fill="#D9E15A"/>
<use href="#e1" fill="#F8B448" stroke="#F8B448" stroke-width="17" stroke-linejoin="round"/>
<use href="#e2" fill="#F8B448" stroke="#F8B448" stroke-width="17" stroke-linejoin="round"/>
<use href="#e3" fill="#F8B448" stroke="#F8B448" stroke-width="5" stroke-linejoin="round"/>
<use href="#e5" fill="#F8B448"/>
<use href="#e7" fill="#F8B448"/>
<use href="#e9" fill="#F8B448"/>
<use href="#e11" fill="#F8B448" stroke="#F8B448" stroke-width="17" stroke-linejoin="round"/>
<use href="#e12" fill="#F8B448" stroke="#F8B448" stroke-width="17" stroke-linejoin="round"/>
<use href="#e13" fill="#F8B448" stroke="#F8B448" stroke-width="17" stroke-linejoin="round"/>
<use href="#e14" fill="#F8B448" stroke="#F8B448" stroke-width="9" stroke-linejoin="round"/>
<use href="#e20" fill="#F8B448" stroke="#F8B448" stroke-width="17" stroke-linejoin="round"/>
<use href="#e23" fill="#F8B448" stroke="#F8B448" stroke-width="17" stroke-linejoin="round"/>
<use href="#e24" fill="#F8B448" stroke="#F8B448" stroke-width="9" stroke-linejoin="round"/>
<use href="#e27" fill="#F8B448" stroke="#F8B448" stroke-width="14.7" stroke-linejoin="round"/>
<use href="#e34" fill="#F8B448" stroke="#F8B448" stroke-width="13" stroke-linejoin="round"/>
<use href="#e35" fill="#F8B448" stroke="#F8B448" stroke-width="5" stroke-linejoin="round"/>
<use href="#e44" fill="#F8B448" stroke="#F8B448" stroke-width="3.3" stroke-linejoin="round"/>
<use href="#e45" fill="#F8B448" stroke="#F8B448" stroke-width="9" stroke-linejoin="round"/>
<use href="#e46" fill="#F8B448"/>
<use href="#e48" fill="#F8B448" stroke="#F8B448" stroke-width="17" stroke-linejoin="round"/>
<use href="#e53" fill="#F8B448"/>
<use href="#e54" fill="#F8B448" stroke="#F8B448" stroke-width="13" stroke-linejoin="round"/>
<use href="#e55" fill="#F8B448"/>
<use href="#e1" fill="#F4672D" stroke="#F4672D" stroke-width="12" stroke-linejoin="round"/>
<use href="#e2" fill="#F4672D" stroke="#F4672D" stroke-width="12" stroke-linejoin="round"/>
<use href="#e3" fill="#F4672D"/>
<use href="#e11" fill="#F4672D" stroke="#F4672D" stroke-width="12" stroke-linejoin="round"/>
<use href="#e12" fill="#F4672D" stroke="#F4672D" stroke-width="12" stroke-linejoin="round"/>
<use href="#e13" fill="#F4672D" stroke="#F4672D" stroke-width="12" stroke-linejoin="round"/>
<use href="#e14" fill="#F4672D" stroke="#F4672D" stroke-width="4" stroke-linejoin="round"/>
<use href="#e20" fill="#F4672D" stroke="#F4672D" stroke-width="12" stroke-linejoin="round"/>
<use href="#e23" fill="#F4672D" stroke="#F4672D" stroke-width="12" stroke-linejoin="round"/>
<use href="#e24" fill="#F4672D" stroke="#F4672D" stroke-width="4" stroke-linejoin="round"/>
<use href="#e27" fill="#F4672D" stroke="#F4672D" stroke-width="10.4" stroke-linejoin="round"/>
<use href="#e34" fill="#F4672D" stroke="#F4672D" stroke-width="8" stroke-linejoin="round"/>
<use href="#e35" fill="#F4672D"/>
<use href="#e44" fill="#F4672D"/>
<use href="#e45" fill="#F4672D" stroke="#F4672D" stroke-width="4" stroke-linejoin="round"/>
<use href="#e48" fill="#F4672D" stroke="#F4672D" stroke-width="12" stroke-linejoin="round"/>
<use href="#e54" fill="#F4672D" stroke="#F4672D" stroke-width="8" stroke-linejoin="round"/>
<use href="#e1" fill="#DF3729" stroke="#DF3729" stroke-width="8" stroke-linejoin="round"/>
<use href="#e2" fill="#DF3729" stroke="#DF3729" stroke-width="8" stroke-linejoin="round"/>
<use href="#e11" fill="#DF3729" stroke="#DF3729" stroke-width="8" stroke-linejoin="round"/>
<use href="#e12" fill="#DF3729" stroke="#DF3729" stroke-width="8" stroke-linejoin="round"/>
<use href="#e13" fill="#DF3729" stroke="#DF3729" stroke-width="8" stroke-linejoin="round"/>
<use href="#e14" fill="#DF3729"/>
<use href="#e20" fill="#DF3729" stroke="#DF3729" stroke-width="8" stroke-linejoin="round"/>
<use href="#e23" fill="#DF3729" stroke="#DF3729" stroke-width="8" stroke-linejoin="round"/>
<use href="#e24" fill="#DF3729"/>
<use href="#e27" fill="#DF3729" stroke="#DF3729" stroke-width="6.9" stroke-linejoin="round"/>
<use href="#e34" fill="#DF3729" stroke="#DF3729" stroke-width="4" stroke-linejoin="round"/>
<use href="#e45" fill="#DF3729"/>
<use href="#e48" fill="#DF3729" stroke="#DF3729" stroke-width="8" stroke-linejoin="round"/>
<use href="#e54" fill="#DF3729" stroke="#DF3729" stroke-width="4" stroke-linejoin="round"/>
<use href="#e1" fill="#B81D26" stroke="#B81D26" stroke-width="4" stroke-linejoin="round"/>
<use href="#e2" fill="#B81D26" stroke="#B81D26" stroke-width="4" stroke-linejoin="round"/>
<use href="#e11" fill="#B81D26" stroke="#B81D26" stroke-width="4" stroke-linejoin="round"/>
<use href="#e12" fill="#B81D26" stroke="#B81D26" stroke-width="4" stroke-linejoin="round"/>
<use href="#e13" fill="#B81D26" stroke="#B81D26" stroke-width="4" stroke-linejoin="round"/>
<use href="#e20" fill="#B81D26" stroke="#B81D26" stroke-width="4" stroke-linejoin="round"/>
<use href="#e23" fill="#B81D26" stroke="#B81D26" stroke-width="4" stroke-linejoin="round"/>
<use href="#e27" fill="#B81D26" stroke="#B81D26" stroke-width="3.5" stroke-linejoin="round"/>
<use href="#e34" fill="#B81D26"/>
<use href="#e48" fill="#B81D26" stroke="#B81D26" stroke-width="4" stroke-linejoin="round"/>
<use href="#e54" fill="#B81D26"/>
<use href="#e1" fill="#8B181D"/>
<use href="#e2" fill="#8B181D"/>
<use href="#e11" fill="#8B181D"/>
<use href="#e12" fill="#8B181D"/>
<use href="#e13" fill="#8B181D"/>
<use href="#e20" fill="#8B181D"/>
<use href="#e23" fill="#8B181D"/>
<use href="#e27" fill="#8B181D"/>
<use href="#e48" fill="#8B181D"/>
</g></g>
</g>
<use href="#base"/>
<rect x="8.4" y="254.1" width="57.6" height="64.2" fill="#fff" stroke="#000" stroke-width="2.2"/>
<text class="l" x="37.2" y="297.5" text-anchor="middle">e)</text>
<text class="t" transform="translate(163.5 -16.6) scale(.965 1)" text-anchor="middle">WRF-9</text>
</g>
<g transform="translate(1212.3 494.8)">
<g clip-path="url(#cp)">
<g clip-path="url(#lc)"><g transform="translate(-0.30 0.20) scale(0.18278)">
<polygon fill="#D3D3D3" points="0,0 220,0 220,580 0,580"/>
<polygon fill="#D3D3D3" points="350,865 450,865 450,935 350,935"/>
<polygon fill="#D3D3D3" points="440,1030 665,1030 665,1290 440,1290"/>
<polygon fill="#D3D3D3" points="720,1368 890,1368 890,1530 720,1530"/>
<polygon fill="#D3D3D3" points="990,1538 1110,1538 1110,1600 990,1600"/>
<polygon fill="#C5E8FA" points="220,0 1789,0 1789,1210 1640,1270 1550,1295 1340,1355 1130,1205 1080,1180 880,1040 670,860 660,840 250,530 220,480"/>
</g></g>
</g>
<use href="#base"/>
<rect x="8.4" y="254.1" width="46.4" height="64.2" fill="#fff" stroke="#000" stroke-width="2.2"/>
<text class="l" x="31.6" y="297.5" text-anchor="middle">f)</text>
<text class="t" transform="translate(163.5 -16.6) scale(.965 1)" text-anchor="middle">CESM-SE 1<tspan class="s" dy="-14.4">o</tspan><tspan dy="14.4"></tspan></text>
</g>
<g transform="translate(1663.1 494.8)">
<g clip-path="url(#cp)">
<g clip-path="url(#lc)"><g transform="translate(-0.10 0.20) scale(0.18278)">
<polygon fill="#D3D3D3" points="0,0 162,0 162,235 0,235"/>
<polygon fill="#D3D3D3" points="215,620 272,620 272,750 215,750"/>
<polygon fill="#D3D3D3" points="540,1080 665,1080 665,1290 540,1290"/>
<polygon fill="#D3D3D3" points="740,1375 830,1375 830,1520 740,1520"/>
<polygon fill="#D3D3D3" points="1080,1583 1222,1583 1222,1650 1080,1650"/>
<polygon fill="#D3D3D3" points="1330,1715 1390,1715 1390,1789 1330,1789"/>
<polygon fill="#C5E8FA" points="162,0 162,235 120,280 150,420 130,460 180,500 215,540 225,600 272,620 272,700 310,740 360,760 440,770 480,740 490,690 500,660 560,640 610,640 640,670 670,700 670,740 720,780 730,830 780,870 790,910 840,940 860,990 895,1000 940,1040 1000,1090 1010,1160 1060,1200 1065,1260 1110,1320 1120,1380 1160,1420 1200,1440 1250,1470 1290,1445 1350,1420 1400,1430 1440,1440 1490,1400 1520,1360 1500,1320 1440,1290 1410,1250 1380,1200 1380,1150 1400,1120 1450,1140 1500,1170 1560,1230 1590,1290 1620,1330 1630,1390 1640,1430 1680,1470 1720,1460 1760,1430 1789,1400 1789,0"/>
<polygon fill="#C5E8FA" points="1215,1540 1240,1500 1250,1470 1300,1480 1380,1475 1420,1490 1440,1540 1410,1590 1460,1620 1500,1640 1530,1650 1480,1680 1440,1690 1400,1660 1370,1620 1330,1580 1290,1560 1240,1560"/>
<polygon fill="#86C5EB" points="190,200 225,185 290,195 350,195 360,280 380,300 440,300 470,240 500,205 560,200 610,240 660,275 600,300 560,310 520,320 530,350 560,370 600,380 640,390 700,440 740,500 780,560 830,620 870,670 910,740 930,790 960,830 1000,870 1040,930 1070,980 1120,1000 1150,1040 1160,1100 1180,1150 1250,1200 1220,1230 1170,1265 1130,1240 1080,1210 1050,1160 1010,1150 1000,1100 990,1050 950,1020 900,960 860,900 810,860 790,810 750,740 700,700 660,650 620,600 580,540 560,480 560,420 520,400 460,405 400,400 330,395 280,380 240,340 220,290 195,250"/>
<polygon fill="#86C5EB" points="385,0 830,0 870,80 960,150 1000,170 1030,210 1060,260 1085,280 1030,300 990,320 940,305 900,270 880,215 830,220 780,225 730,200 690,180 650,165 600,160 560,150 500,150 440,125 400,80"/>
<polygon fill="#86C5EB" points="720,315 770,280 850,290 890,330 920,365 900,400 860,410 800,380 750,340"/>
<polygon fill="#86C5EB" points="1045,65 1075,50 1130,70 1110,110 1065,90"/>
<polygon fill="#86C5EB" points="1155,155 1200,140 1300,145 1320,185 1350,220 1380,250 1390,275 1340,300 1290,270 1240,235 1190,215 1160,195"/>
<polygon fill="#86C5EB" points="1365,30 1400,0 1789,0 1789,130 1740,160 1690,170 1640,160 1585,175 1530,165 1500,120 1560,100 1585,70 1540,60 1480,70 1440,110 1400,110 1380,70"/>
<polygon fill="#86C5EB" points="1435,320 1470,280 1520,250 1530,200 1580,180 1640,180 1700,190 1789,195 1789,350 1720,350 1650,360 1600,385 1560,405 1500,395 1460,365"/>
<polygon fill="#86C5EB" points="1595,490 1630,465 1690,460 1725,490 1690,530 1650,515"/>
<polygon fill="#86C5EB" points="1705,700 1750,670 1789,660 1789,760 1750,735"/>
<polygon fill="#86C5EB" points="1385,575 1395,545 1412,575 1395,590"/>
<polygon fill="#86C5EB" points="1510,785 1555,765 1585,780 1550,798"/>
<polygon fill="#86C5EB" points="1335,765 1370,770 1420,790 1455,825 1440,830 1400,800 1340,780"/>
<polygon fill="#86C5EB" points="265,480 285,460 330,490 335,535 300,525 270,510"/>
<polygon fill="#5396D2" points="400,0 620,0 680,50 740,60 790,100 820,140 830,190 790,225 740,200 700,170 650,150 600,160 540,150 470,135 420,100"/>
<polygon fill="#5396D2" points="200,240 215,215 260,240 310,280 360,320 420,335 480,330 530,350 500,385 440,395 370,390 300,375 255,345 225,300"/>
<polygon fill="#5396D2" points="470,250 500,215 555,225 610,250 640,270 600,290 560,305 520,310 490,290"/>
<polygon fill="#5396D2" points="565,410 600,385 640,400 690,440 720,500 760,560 810,620 850,670 880,720 910,770 940,800 980,850 1020,900 1050,960 1100,990 1130,1030 1140,1090 1170,1140 1215,1190 1170,1240 1120,1210 1080,1180 1050,1130 1010,1110 1010,1060 960,1000 920,950 880,890 820,840 800,780 770,720 710,670 670,620 620,560 590,520 575,470"/>
<polygon fill="#5396D2" points="1560,240 1610,195 1660,200 1670,240 1620,275 1590,265"/>
<polygon fill="#5396D2" points="1480,320 1505,305 1535,325 1530,365 1495,370"/>
<polygon fill="#5396D2" points="1435,65 1450,50 1465,70 1448,82"/>
<polygon fill="#4DA584" points="400,0 600,0 625,70 590,110 540,130 480,125 430,90"/>
<polygon fill="#4DA584" points="680,100 720,65 770,100 800,150 780,165 730,150 700,130"/>
<polygon fill="#4DA584" points="205,240 220,225 270,260 330,300 380,335 450,340 510,345 520,365 480,380 420,385 350,375 290,360 245,320 215,280"/>
<polygon fill="#4DA584" points="490,255 510,235 560,245 610,270 600,285 550,300 510,295"/>
<polygon fill="#4DA584" points="575,420 600,395 635,410 680,450 715,510 760,580 810,640 860,700 880,730 900,770 940,820 990,880 1030,930 1060,980 1100,1010 1125,1050 1135,1110 1160,1150 1200,1195 1170,1225 1130,1200 1090,1160 1060,1120 1020,1080 1000,1030 950,980 910,920 870,880 820,820 800,760 770,700 720,660 680,610 630,560 600,510 580,460"/>
<polygon fill="#6DC34B" points="405,0 590,0 600,60 580,100 540,115 480,110 440,80"/>
<polygon fill="#6DC34B" points="700,110 722,85 750,110 725,135"/>
<polygon fill="#6DC34B" points="215,245 230,240 290,290 350,330 400,345 450,345 505,350 500,370 440,380 380,370 360,360 330,330 280,310 240,280"/>
<polygon fill="#6DC34B" points="515,270 550,255 590,275 555,295"/>
<polygon fill="#6DC34B" points="585,420 605,400 630,420 670,460 710,520 755,590 810,650 855,710 880,745 900,790 940,830 985,890 1025,940 1055,990 1090,1020 1110,1060 1120,1120 1150,1160 1190,1195 1170,1215 1130,1185 1095,1150 1065,1110 1025,1070 1005,1020 960,975 920,915 880,870 830,810 810,760 780,700 730,650 690,600 640,550 610,500 590,460"/>
<polygon fill="#D9E15A" points="410,0 570,0 585,60 560,90 520,100 470,95 440,70"/>
<polygon fill="#D9E15A" points="712,110 722,98 738,112 724,125"/>
<polygon fill="#D9E15A" points="365,360 400,350 440,345 490,355 505,365 470,375 420,378"/>
<polygon fill="#D9E15A" points="525,275 550,262 580,277 555,290"/>
<polygon fill="#D9E15A" points="592,425 607,405 625,425 660,470 700,525 750,595 805,655 850,715 875,750 895,795 935,835 980,895 1020,945 1050,995 1085,1030 1100,1070 1110,1125 1140,1165 1130,1175 1100,1145 1070,1105 1030,1065 1010,1015 965,970 925,910 885,865 835,805 815,755 785,700 735,645 695,595 645,545 615,495 597,455"/>
<polygon fill="#F8B448" points="415,0 540,0 550,50 530,80 480,85 450,60"/>
<polygon fill="#F8B448" points="385,362 440,350 490,362 440,372"/>
<polygon fill="#F8B448" points="535,277 553,268 570,279 553,287"/>
<polygon fill="#F8B448" points="598,430 610,415 622,435 650,480 690,530 745,600 800,660 845,720 870,755 890,800 930,840 975,900 1015,950 1045,1000 1075,1035 1095,1075 1105,1125 1130,1160 1120,1165 1095,1135 1065,1095 1035,1060 1015,1010 970,965 930,905 890,860 840,800 820,750 790,695 740,640 700,590 650,540 620,490 602,455"/>
<polygon fill="#F4672D" points="420,0 520,0 525,45 500,70 460,65 435,40"/>
<polygon fill="#F4672D" points="420,362 440,357 460,363 440,368"/>
<polygon fill="#F4672D" points="610,490 640,500 670,540 700,580 745,620 790,670 830,720 860,760 885,810 925,850 970,910 1010,960 1040,1010 1070,1045 1085,1085 1100,1130 1115,1150 1095,1130 1070,1090 1040,1055 1020,1005 975,960 935,900 895,855 845,795 825,745 795,690 760,650 720,610 680,570 650,530 625,510"/>
<polygon fill="#DF3729" points="425,0 510,0 505,40 480,55 450,45 435,25"/>
<polygon fill="#DF3729" points="770,650 790,670 820,710 845,740 870,790 900,830 940,870 985,930 1030,985 1060,1030 1075,1080 1060,1085 1040,1045 1015,1000 970,950 930,895 890,845 850,790 830,740 800,690"/>
<polygon fill="#B81D26" points="430,0 490,0 480,30 455,35"/>
<polygon fill="#B81D26" points="820,730 840,720 855,760 850,790 830,780"/>
<polygon fill="#B81D26" points="875,850 895,840 940,880 980,930 1020,980 1050,1020 1065,1060 1050,1075 1035,1035 1005,995 960,945 920,900 890,870"/>
<polygon fill="#8B181D" points="435,0 470,0 465,18 445,20"/>
<polygon fill="#8B181D" points="825,740 838,735 845,770 835,775"/>
<polygon fill="#8B181D" points="885,855 900,850 935,890 965,930 955,940 920,905 895,875"/>
<polygon fill="#8B181D" points="1045,1035 1058,1030 1062,1065 1050,1068"/>
</g></g>
</g>
<use href="#base"/>
<rect x="8.4" y="254.1" width="57.6" height="64.2" fill="#fff" stroke="#000" stroke-width="2.2"/>
<text class="l" x="37.2" y="297.5" text-anchor="middle">g)</text>
<text class="t" transform="translate(163.5 -16.6) scale(.965 1)" text-anchor="middle">CESM-FV 0.25<tspan class="s" dy="-14.4">o</tspan><tspan dy="14.4"></tspan></text>
</g>
<g transform="translate(310.7 941.4)">
<g clip-path="url(#cp)">
<g><g transform="translate(0.30 -0.40) scale(0.18278)">
<polygon fill="#C5E8FA" points="115,0 115,180 125,340 75,460 110,500 160,540 215,600 225,700 260,720 330,740 390,775 470,800 530,825 585,850 592,905 548,960 605,1020 670,1028 720,1010 780,1000 830,1040 910,1075 960,1125 1005,1165 1030,1220 1060,1270 1070,1305 1110,1355 1110,1410 1055,1440 1005,1440 975,1465 1010,1485 1055,1490 1110,1520 1170,1545 1230,1565 1285,1600 1320,1580 1335,1520 1300,1450 1280,1405 1295,1355 1340,1335 1385,1305 1430,1245 1420,1190 1395,1130 1480,1125 1545,1135 1580,1160 1620,1210 1680,1260 1730,1240 1789,1190 1789,0"/>
<polygon fill="#C5E8FA" points="875,1245 895,1195 908,1245 893,1258"/>
</g></g>
</g>
<use href="#base"/>
<rect x="8.4" y="254.1" width="57.6" height="64.2" fill="#fff" stroke="#000" stroke-width="2.2"/>
<text class="l" x="37.2" y="297.5" text-anchor="middle">h)</text>
<text class="t" transform="translate(163.5 -16.6) scale(.965 1)" text-anchor="middle">NCEP-35</text>
</g>
<g transform="translate(761.5 941.4)">
<g clip-path="url(#cp)">
<g clip-path="url(#lc)"><g transform="translate(0.50 -0.40) scale(0.18278)">
<polygon fill="#C5E8FA" points="130,0 150,170 185,200 190,290 225,340 165,400 200,450 250,500 290,560 320,640 345,660 380,690 430,690 430,620 415,590 430,530 405,480 440,450 460,400 540,375 550,430 570,480 575,530 590,570 640,600 690,640 720,690 750,740 780,790 810,830 830,870 870,920 900,960 940,1000 990,1040 1020,1080 1060,1120 1085,1170 1100,1230 1110,1290 1125,1340 1140,1380 1120,1430 1150,1460 1195,1440 1230,1400 1250,1350 1280,1300 1275,1250 1265,1200 1280,1180 1330,1200 1370,1250 1340,1280 1400,1280 1430,1250 1440,1200 1410,1170 1370,1160 1380,1110 1430,1100 1470,1110 1510,1090 1560,1130 1620,1180 1700,1240 1789,1300 1789,0"/>
<polygon fill="#C5E8FA" points="905,1480 940,1465 990,1475 1030,1445 1080,1450 1105,1480 1090,1520 1050,1530 1000,1520 950,1510 920,1500"/>
<polygon fill="#C5E8FA" points="1120,1400 1160,1380 1230,1385 1220,1430 1190,1460 1150,1460 1125,1440"/>
<polygon fill="#C5E8FA" points="1195,1550 1230,1520 1300,1515 1350,1545 1340,1590 1290,1605 1230,1590"/>
<polygon fill="#C5E8FA" points="1375,1560 1400,1535 1470,1535 1510,1570 1500,1610 1470,1620 1420,1600 1385,1590"/>
<polygon fill="#C5E8FA" points="1455,1640 1490,1625 1510,1665 1545,1690 1520,1710 1480,1700 1460,1670"/>
<polygon fill="#C5E8FA" points="1450,1735 1490,1715 1500,1740 1470,1745"/>
<polygon fill="#C5E8FA" points="1590,1180 1620,1160 1680,1160 1720,1200 1740,1250 1700,1280 1650,1260 1610,1220"/>
<polygon fill="#C5E8FA" points="1720,1130 1740,1090 1789,1080 1789,1180 1750,1190"/>
<polygon fill="#FFFFFF" points="255,80 275,55 300,90 370,80 410,65 415,100 380,130 340,150 300,120 265,105"/>
<polygon fill="#FFFFFF" points="430,195 455,190 465,250 440,260 428,230"/>
<polygon fill="#FFFFFF" points="1610,1020 1640,1010 1650,1050 1620,1060"/>
<polygon fill="#FFFFFF" points="1690,1000 1720,1020 1740,1060 1700,1050"/>
<polygon fill="#FFFFFF" points="1590,1070 1620,1090 1640,1120 1600,1110"/>
<polygon fill="#FFFFFF" points="1740,960 1760,950 1789,990 1750,1010"/>
<polygon fill="#FFFFFF" points="1440,1060 1480,1070 1470,1095 1445,1085"/>
<polygon fill="#FFFFFF" points="1280,1100 1310,1100 1320,1130 1285,1130"/>
</g></g>
<g><g transform="translate(0.50 -0.40) scale(0.18278)">
<polygon fill="#D3D3D3" points="838,38 880,38 880,78 838,78"/>
<polygon fill="#D3D3D3" points="525,82 565,82 565,122 525,122"/>
<polygon fill="#D3D3D3" points="793,150 835,150 835,235 793,235"/>
<polygon fill="#D3D3D3" points="815,462 857,462 857,504 815,504"/>
<polygon fill="#D3D3D3" points="948,484 990,484 990,570 948,570"/>
<polygon fill="#D3D3D3" points="368,685 410,685 410,727 368,727"/>
<polygon fill="#D3D3D3" points="1105,755 1147,755 1147,795 1105,795"/>
<polygon fill="#D3D3D3" points="1598,1690 1640,1690 1640,1735 1598,1735"/>
<polygon fill="#D3D3D3" points="1620,1715 1685,1715 1685,1789 1620,1789"/>
</g></g>
<g clip-path="url(#lc)"><g transform="translate(0.50 -0.40) scale(0.18278)">
<polygon fill="#86C5EB" points="470,100 490,20 530,15 520,60 510,100 520,130 490,130"/>
<polygon fill="#86C5EB" points="735,80 745,65 757,80 745,95"/>
<polygon fill="#86C5EB" points="1110,55 1130,25 1165,20 1160,60 1135,90 1115,80"/>
<polygon fill="#86C5EB" points="290,260 320,240 345,260 320,282"/>
<polygon fill="#86C5EB" points="425,300 445,290 470,300 455,350 435,330"/>
<polygon fill="#86C5EB" points="480,300 560,260 600,245 625,260 590,275 540,285 510,315"/>
<polygon fill="#86C5EB" points="325,365 355,320 385,310 405,345 385,385 350,390"/>
<polygon fill="#86C5EB" points="340,525 368,495 398,525 368,560"/>
<polygon fill="#86C5EB" points="600,455 625,440 690,450 685,470 630,478"/>
<polygon fill="#86C5EB" points="1290,265 1310,230 1355,210 1340,245 1310,290"/>
<polygon fill="#86C5EB" points="1585,230 1610,220 1635,265 1615,275"/>
<polygon fill="#86C5EB" points="1680,210 1710,195 1745,215 1725,250 1700,245"/>
<polygon fill="#86C5EB" points="1675,460 1700,410 1740,370 1775,350 1775,390 1740,430 1710,470 1685,480"/>
<polygon fill="#86C5EB" points="1680,490 1695,485 1690,515"/>
<polygon fill="#86C5EB" points="620,520 640,500 670,540 700,570 760,575 800,600 840,640 870,690 860,740 900,760 940,790 980,810 1010,850 1040,890 1050,930 1100,920 1130,950 1110,975 1140,1010 1170,1050 1190,1100 1220,1160 1230,1210 1210,1260 1195,1290 1180,1250 1140,1210 1110,1160 1080,1110 1040,1070 1000,1020 960,980 930,930 890,880 860,830 840,780 820,730 790,690 760,650 720,610 680,590 640,560"/>
<polygon fill="#86C5EB" points="1640,885 1690,840 1680,860 1650,890"/>
<polygon fill="#86C5EB" points="1185,940 1220,960 1215,990"/>
<polygon fill="#86C5EB" points="1640,1190 1650,1180 1660,1190 1650,1200"/>
<polygon fill="#5396D2" points="485,90 495,30 520,20 510,60 505,95"/>
<polygon fill="#5396D2" points="1120,55 1135,35 1155,35 1150,60 1130,70"/>
<polygon fill="#5396D2" points="335,360 360,325 385,330 390,360 365,380"/>
<polygon fill="#5396D2" points="350,525 368,508 388,525 368,545"/>
<polygon fill="#5396D2" points="610,455 625,447 650,455 630,470"/>
<polygon fill="#5396D2" points="620,520 638,508 655,535 640,550"/>
<polygon fill="#5396D2" points="1690,450 1710,415 1740,390 1730,420 1705,460"/>
<polygon fill="#5396D2" points="1700,215 1715,205 1730,220 1712,235"/>
<polygon fill="#5396D2" points="740,590 770,585 800,610 830,650 850,690 855,740 890,765 930,800 970,820 1000,860 1030,900 1040,960 1080,960 1120,1010 1160,1060 1180,1110 1210,1170 1215,1195 1180,1200 1145,1210 1130,1170 1100,1140 1090,1100 1050,1060 1020,1010 980,990 950,940 910,890 880,840 850,790 830,740 800,690 770,640"/>
<polygon fill="#4DA584" points="492,60 500,25 515,22 508,55"/>
<polygon fill="#4DA584" points="345,365 365,345 380,365 360,378"/>
<polygon fill="#4DA584" points="360,525 368,516 378,525 368,535"/>
<polygon fill="#4DA584" points="1745,370 1760,360 1760,385"/>
<polygon fill="#4DA584" points="750,595 775,595 800,625 825,660 840,700 850,745 885,770 925,805 965,830 995,870 1020,910 1035,970 1075,975 1110,1020 1150,1070 1170,1115 1195,1165 1175,1190 1150,1195 1135,1150 1110,1120 1100,1085 1060,1050 1030,1000 990,975 960,930 920,880 890,830 860,780 850,750 820,700 790,650"/>
<polygon fill="#6DC34B" points="496,40 505,22 515,22 505,45"/>
<polygon fill="#6DC34B" points="350,368 365,355 375,368 362,376"/>
<polygon fill="#6DC34B" points="605,458 620,450 632,460 618,468"/>
<polygon fill="#6DC34B" points="785,640 805,630 830,665 835,700 860,760 890,770 920,810 960,835 990,875 1015,915 1030,975 1070,980 1105,1025 1140,1075 1165,1120 1185,1160 1160,1180 1150,1130 1120,1090 1100,1050 1060,1030 1030,985 990,960 970,920 930,880 900,830 870,790"/>
<polygon fill="#D9E15A" points="610,458 620,453 628,460 618,465"/>
<polygon fill="#D9E15A" points="915,860 940,845 985,870 1000,900 970,905 940,890"/>
<polygon fill="#D9E15A" points="985,920 1010,905 1030,940 1020,970 995,955"/>
<polygon fill="#D9E15A" points="1075,1000 1095,985 1110,1020 1135,1060 1140,1080 1100,1075 1080,1040"/>
<polygon fill="#F8B448" points="920,862 940,850 980,872 990,892 960,890 935,880"/>
<polygon fill="#F8B448" points="1005,940 1018,930 1025,955 1010,960"/>
<polygon fill="#F8B448" points="1095,1050 1110,1040 1125,1065 1105,1070"/>
<polygon fill="#F4672D" points="925,862 940,853 970,872 975,888 950,882"/>
<polygon fill="#DF3729" points="930,858 942,854 955,866 940,868"/>
<polygon fill="#DF3729" points="474,282 500,254 528,282 500,309"/>
<polygon fill="#8B181D" points="481,282 500,262 520,282 500,302"/>
</g></g>
</g>
<use href="#base"/>
<rect x="8.4" y="254.1" width="44.2" height="64.2" fill="#fff" stroke="#000" stroke-width="2.2"/>
<text class="l" x="30.5" y="297.5" text-anchor="middle">i)</text>
<text class="t" transform="translate(163.5 -16.6) scale(.965 1)" text-anchor="middle">NLDAS VIC 0.125<tspan class="s" dy="-14.4">o</tspan><tspan dy="14.4"></tspan></text>
</g>
<g transform="translate(1212.3 941.4)">
<g clip-path="url(#cp)">
<g clip-path="url(#lc)"><g transform="translate(-0.30 -0.40) scale(0.18278)">
<polygon fill="#C5E8FA" points="130,0 150,170 190,200 195,290 200,400 185,440 230,490 260,540 300,545 330,590 320,620 350,660 400,675 435,660 435,620 420,590 435,540 405,480 440,450 460,390 520,370 545,410 560,460 575,530 600,570 650,600 690,640 720,690 750,740 770,790 800,830 830,870 860,920 900,960 940,1000 990,1040 1030,1080 1070,1120 1095,1170 1100,1230 1130,1290 1130,1340 1140,1370 1170,1380 1220,1360 1250,1320 1265,1270 1260,1200 1290,1230 1330,1270 1360,1270 1340,1200 1330,1180 1370,1170 1400,1200 1420,1260 1445,1240 1440,1190 1400,1150 1370,1110 1330,1060 1300,1015 1789,1377 1789,0"/>
<polygon fill="#C5E8FA" points="920,1480 950,1465 1000,1470 1040,1445 1090,1450 1110,1470 1090,1510 1050,1525 990,1515 940,1500"/>
<polygon fill="#C5E8FA" points="1130,1350 1170,1330 1250,1320 1240,1360 1210,1390 1180,1400 1150,1390"/>
<polygon fill="#C5E8FA" points="1125,1440 1160,1400 1220,1380 1210,1410 1160,1455"/>
<polygon fill="#C5E8FA" points="1220,1540 1250,1515 1320,1520 1370,1550 1330,1580 1270,1580 1230,1565"/>
<polygon fill="#C5E8FA" points="1375,1555 1410,1535 1470,1535 1510,1570 1490,1610 1450,1620 1420,1590"/>
<polygon fill="#C5E8FA" points="1465,1650 1490,1625 1510,1665 1545,1690 1520,1710 1480,1700"/>
<polygon fill="#C5E8FA" points="1600,1170 1640,1150 1700,1170 1710,1230 1690,1270 1650,1250 1620,1210"/>
<polygon fill="#C5E8FA" points="1270,1110 1300,1090 1340,1130 1310,1140"/>
<polygon fill="#FFFFFF" points="270,85 285,65 310,95 370,80 410,75 415,105 380,125 330,120 290,115"/>
<polygon fill="#FFFFFF" points="432,200 458,195 465,250 440,260"/>
<polygon fill="#FFFFFF" points="1600,1040 1640,1010 1700,1040 1740,990 1789,960 1789,1100 1740,1090 1700,1060 1640,1080 1610,1100"/>
<polygon fill="#FFFFFF" points="1445,1060 1500,1075 1560,1100 1590,1110 1580,1090 1520,1065 1460,1050"/>
<polygon fill="#C5E8FA" points="1640,1040 1690,1040 1700,1060 1650,1085"/>
<polygon fill="#C5E8FA" points="1730,1100 1789,1090 1789,1140 1740,1140"/>
</g></g>
<g><g transform="translate(-0.30 -0.40) scale(0.18278)">
<polygon fill="#D3D3D3" points="838,38 880,38 880,78 838,78"/>
<polygon fill="#D3D3D3" points="525,82 565,82 565,122 525,122"/>
<polygon fill="#D3D3D3" points="793,150 835,150 835,235 793,235"/>
<polygon fill="#D3D3D3" points="815,462 857,462 857,504 815,504"/>
<polygon fill="#D3D3D3" points="948,484 990,484 990,570 948,570"/>
<polygon fill="#D3D3D3" points="368,685 410,685 410,727 368,727"/>
<polygon fill="#D3D3D3" points="1105,755 1147,755 1147,795 1105,795"/>
<polygon fill="#D3D3D3" points="1598,1690 1640,1690 1640,1735 1598,1735"/>
<polygon fill="#D3D3D3" points="1620,1715 1685,1715 1685,1789 1620,1789"/>
</g></g>
<g clip-path="url(#lc)"><g transform="translate(-0.30 -0.40) scale(0.18278)">
<polygon fill="#86C5EB" points="470,100 488,20 535,15 525,60 510,100 520,130 495,130"/>
<polygon fill="#86C5EB" points="738,78 750,62 765,78 750,94"/>
<polygon fill="#86C5EB" points="1110,60 1130,25 1170,20 1165,60 1140,85 1118,80"/>
<polygon fill="#86C5EB" points="292,258 320,238 345,262 322,285"/>
<polygon fill="#86C5EB" points="432,300 450,300 468,325 455,335"/>
<polygon fill="#86C5EB" points="485,282 507,258 540,282 507,305"/>
<polygon fill="#86C5EB" points="580,255 610,250 625,262 600,272"/>
<polygon fill="#86C5EB" points="340,370 360,320 395,312 405,345 385,385 355,388"/>
<polygon fill="#86C5EB" points="345,525 370,498 390,525 370,548"/>
<polygon fill="#86C5EB" points="590,410 610,420 640,440 690,455 685,465 640,465 620,480 600,460"/>
<polygon fill="#86C5EB" points="620,525 640,500 660,525 640,555"/>
<polygon fill="#86C5EB" points="670,545 685,535 695,570 680,575"/>
<polygon fill="#86C5EB" points="1300,260 1320,225 1370,210 1345,240 1315,285"/>
<polygon fill="#86C5EB" points="1590,245 1610,235 1635,262 1610,275"/>
<polygon fill="#86C5EB" points="1680,210 1710,195 1750,215 1728,250 1700,245"/>
<polygon fill="#86C5EB" points="1680,460 1700,415 1740,375 1775,350 1775,390 1745,430 1715,465 1690,480"/>
<polygon fill="#86C5EB" points="1190,165 1250,140 1230,165 1245,215 1215,185"/>
<polygon fill="#86C5EB" points="700,575 760,570 800,595 840,635 870,680 860,740 900,760 945,790 985,815 1010,850 1040,890 1060,935 1100,950 1130,985 1150,1020 1180,1060 1190,1110 1215,1150 1225,1190 1200,1215 1150,1220 1125,1190 1120,1150 1095,1120 1080,1090 1040,1060 1010,1020 960,990 940,940 900,900 870,860 850,810 850,780 820,730 790,690 760,650 730,610"/>
<polygon fill="#5396D2" points="485,90 495,25 525,20 512,60 505,95"/>
<polygon fill="#5396D2" points="1125,55 1138,35 1158,38 1150,62 1132,68"/>
<polygon fill="#5396D2" points="300,258 320,250 335,262 318,270"/>
<polygon fill="#5396D2" points="495,282 507,268 522,282 507,296"/>
<polygon fill="#5396D2" points="350,368 365,322 390,320 395,350 375,382"/>
<polygon fill="#5396D2" points="355,525 370,510 382,525 370,538"/>
<polygon fill="#5396D2" points="602,460 618,442 634,460 618,476"/>
<polygon fill="#5396D2" points="628,525 640,510 652,525 640,545"/>
<polygon fill="#5396D2" points="675,550 685,543 690,565 680,568"/>
<polygon fill="#5396D2" points="1700,215 1715,205 1735,220 1715,232"/>
<polygon fill="#5396D2" points="1695,450 1715,415 1745,385 1765,365 1760,385 1735,420 1710,455"/>
<polygon fill="#5396D2" points="740,588 770,585 800,610 830,650 850,690 855,740 890,765 935,800 975,820 1000,860 1030,900 1050,950 1090,960 1120,995 1150,1040 1175,1080 1185,1120 1200,1150 1205,1175 1170,1195 1140,1190 1130,1150 1140,1120 1100,1100 1080,1060 1050,1040 1040,1000 980,980 950,935 910,885 880,840 850,790 830,740 800,690 770,640"/>
<polygon fill="#4DA584" points="492,70 500,22 520,20 510,55 502,75"/>
<polygon fill="#4DA584" points="1135,55 1142,45 1150,55 1142,62"/>
<polygon fill="#4DA584" points="357,365 368,328 385,330 385,352 372,375"/>
<polygon fill="#4DA584" points="500,282 507,274 516,282 507,290"/>
<polygon fill="#4DA584" points="608,460 618,449 628,460 618,470"/>
<polygon fill="#4DA584" points="633,525 640,517 647,525 640,535"/>
<polygon fill="#4DA584" points="750,592 775,595 800,625 825,660 845,695 838,700 810,670 790,640 765,615"/>
<polygon fill="#4DA584" points="880,765 905,770 940,810 975,835 1000,875 1025,915 1040,960 1020,960 990,975 970,945 935,900 905,870 930,860 910,820 890,790"/>
<polygon fill="#4DA584" points="1040,985 1075,965 1100,985 1130,1020 1160,1060 1175,1100 1175,1125 1150,1095 1125,1080 1095,1075 1070,1060 1050,1030"/>
<polygon fill="#4DA584" points="1140,1175 1155,1160 1165,1180 1150,1192"/>
<polygon fill="#4DA584" points="1750,372 1762,362 1765,378 1755,385"/>
<polygon fill="#4DA584" points="1700,435 1712,422 1715,440 1705,448"/>
<polygon fill="#6DC34B" points="497,50 503,22 515,22 507,48"/>
<polygon fill="#6DC34B" points="362,360 370,335 382,338 378,360 368,372"/>
<polygon fill="#6DC34B" points="503,282 507,277 512,282 507,287"/>
<polygon fill="#6DC34B" points="612,460 618,453 624,460 618,466"/>
<polygon fill="#6DC34B" points="636,525 640,520 644,525 640,530"/>
<polygon fill="#6DC34B" points="905,860 930,845 960,850 990,870 1000,890 960,890 930,885"/>
<polygon fill="#6DC34B" points="965,955 1000,905 1020,920 1035,955 1010,965 985,975"/>
<polygon fill="#6DC34B" points="1060,1050 1080,1000 1095,990 1110,1030 1140,1070 1120,1080 1095,1060 1075,1065"/>
<polygon fill="#6DC34B" points="760,597 770,597 800,630 825,665 835,690 828,690 805,660 785,635"/>
<polygon fill="#D9E15A" points="500,35 505,22 512,22 507,38"/>
<polygon fill="#D9E15A" points="935,860 950,852 965,862 950,872"/>
<polygon fill="#D9E15A" points="1010,940 1020,930 1028,950 1015,955"/>
<polygon fill="#D9E15A" points="505,282 507,279 510,282 507,285"/>
<polygon fill="#F8B448" points="616,460 618,457 621,460 618,463"/>
<polygon fill="#F8B448" points="506,281 508,281 508,283 506,283"/>
</g></g>
</g>
<use href="#base"/>
<rect x="8.4" y="254.1" width="44.2" height="64.2" fill="#fff" stroke="#000" stroke-width="2.2"/>
<text class="l" x="30.5" y="297.5" text-anchor="middle">j)</text>
<text class="t" transform="translate(163.5 -16.6) scale(.965 1)" text-anchor="middle">NLDAS NOAH 0.125<tspan class="s" dy="-14.4">o</tspan><tspan dy="14.4"></tspan></text>
</g>
<g transform="translate(1663.1 941.4)">
<g clip-path="url(#cp)">
<g clip-path="url(#lc)"><g transform="translate(-0.10 -0.40) scale(0.18278)">
<polygon fill="#C5E8FA" points="130,0 150,170 190,200 200,290 215,340 205,400 185,440 230,490 270,540 300,545 330,590 330,630 360,660 400,675 432,650 430,610 410,570 420,520 390,480 400,460 440,440 460,385 520,360 545,400 555,460 575,520 610,570 660,600 700,640 730,690 750,740 770,790 800,830 830,870 860,920 900,960 940,1000 990,1040 1030,1080 1070,1120 1100,1170 1110,1230 1125,1290 1140,1320 1180,1340 1230,1320 1260,1290 1265,1240 1260,1190 1290,1230 1330,1280 1360,1260 1340,1200 1330,1180 1380,1165 1410,1200 1425,1255 1445,1230 1440,1190 1400,1150 1370,1110 1330,1060 1300,1015 1789,1377 1789,0"/>
<polygon fill="#C5E8FA" points="1020,1470 1040,1450 1085,1448 1105,1470 1090,1500 1050,1508 1025,1495"/>
<polygon fill="#C5E8FA" points="940,1485 960,1478 985,1488 965,1498"/>
<polygon fill="#C5E8FA" points="1140,1350 1170,1320 1215,1315 1230,1340 1210,1370 1170,1375"/>
<polygon fill="#C5E8FA" points="1140,1420 1165,1395 1210,1390 1190,1420 1150,1445"/>
<polygon fill="#C5E8FA" points="1225,1545 1250,1520 1310,1525 1350,1550 1330,1575 1270,1578 1235,1565"/>
<polygon fill="#C5E8FA" points="1385,1555 1410,1535 1470,1540 1508,1575 1490,1605 1450,1620 1420,1590"/>
<polygon fill="#C5E8FA" points="1470,1650 1490,1625 1510,1660 1500,1680 1480,1675"/>
<polygon fill="#C5E8FA" points="1600,1170 1640,1150 1700,1170 1710,1230 1690,1260 1650,1245 1620,1210"/>
<polygon fill="#C5E8FA" points="1270,1110 1300,1090 1340,1130 1310,1140"/>
<polygon fill="#C5E8FA" points="1720,1140 1750,1110 1789,1100 1789,1170 1750,1175"/>
<polygon fill="#FFFFFF" points="1035,620 1080,590 1140,560 1185,555 1170,600 1140,640 1150,670 1120,680 1090,660 1040,665"/>
<polygon fill="#FFFFFF" points="1255,570 1290,545 1310,545 1290,570 1260,580"/>
<polygon fill="#FFFFFF" points="1180,730 1230,725 1265,740 1255,770 1215,760"/>
<polygon fill="#FFFFFF" points="1035,705 1055,700 1045,735"/>
<polygon fill="#FFFFFF" points="1320,820 1340,815 1375,820 1360,860 1330,850"/>
<polygon fill="#FFFFFF" points="1240,845 1265,870 1300,890 1330,880 1300,910 1260,905"/>
<polygon fill="#FFFFFF" points="1640,810 1665,780 1690,775 1670,820 1645,840"/>
<polygon fill="#FFFFFF" points="1300,940 1340,935 1380,920 1420,890 1470,900 1440,920 1420,960 1380,950 1340,960"/>
<polygon fill="#FFFFFF" points="1380,1010 1420,1020 1410,1040"/>
<polygon fill="#FFFFFF" points="1640,940 1665,930 1670,960 1650,965"/>
<polygon fill="#FFFFFF" points="1600,1040 1640,1010 1700,1040 1740,990 1789,960 1789,1100 1740,1090 1700,1060 1640,1080 1610,1100"/>
<polygon fill="#FFFFFF" points="1445,1060 1500,1075 1560,1100 1590,1110 1580,1090 1520,1065 1460,1050"/>
<polygon fill="#FFFFFF" points="255,40 265,25 300,70 340,80 380,60 410,55 430,95 400,130 360,150 340,165 280,130 240,165 235,150 260,110"/>
<polygon fill="#FFFFFF" points="420,195 445,195 470,250 455,270 430,235"/>
<polygon fill="#FFFFFF" points="370,250 390,255 395,280 375,270"/>
<polygon fill="#FFFFFF" points="250,370 265,375 280,400 255,395"/>
<polygon fill="#FFFFFF" points="345,410 395,395 410,410 375,425"/>
<polygon fill="#FFFFFF" points="590,365 625,358 630,372 600,372"/>
<polygon fill="#FFFFFF" points="205,340 220,340 235,360 210,360"/>
<polygon fill="#C5E8FA" points="1640,1040 1690,1040 1700,1060 1650,1085"/>
<polygon fill="#C5E8FA" points="1730,1100 1789,1090 1789,1140 1740,1140"/>
</g></g>
<g><g transform="translate(-0.10 -0.40) scale(0.18278)">
<polygon fill="#D3D3D3" points="838,38 880,38 880,78 838,78"/>
<polygon fill="#D3D3D3" points="525,82 565,82 565,122 525,122"/>
<polygon fill="#D3D3D3" points="793,150 835,150 835,235 793,235"/>
<polygon fill="#D3D3D3" points="815,462 857,462 857,504 815,504"/>
<polygon fill="#D3D3D3" points="948,484 990,484 990,570 948,570"/>
<polygon fill="#D3D3D3" points="368,685 410,685 410,727 368,727"/>
<polygon fill="#D3D3D3" points="1105,755 1147,755 1147,795 1105,795"/>
<polygon fill="#D3D3D3" points="1598,1690 1640,1690 1640,1735 1598,1735"/>
<polygon fill="#D3D3D3" points="1620,1715 1685,1715 1685,1789 1620,1789"/>
</g></g>
<g clip-path="url(#lc)"><g transform="translate(-0.10 -0.40) scale(0.18278)">
<polygon fill="#86C5EB" points="478,100 490,20 535,15 520,60 508,100 512,125 495,125"/>
<polygon fill="#86C5EB" points="1105,60 1125,25 1170,20 1165,60 1138,88 1115,82"/>
<polygon fill="#86C5EB" points="485,282 507,258 540,282 507,305"/>
<polygon fill="#86C5EB" points="578,255 608,248 628,262 600,272"/>
<polygon fill="#86C5EB" points="338,365 370,325 388,340 378,380 352,385"/>
<polygon fill="#86C5EB" points="350,525 370,508 388,525 370,545"/>
<polygon fill="#86C5EB" points="598,460 618,440 650,460 618,480"/>
<polygon fill="#86C5EB" points="622,525 640,507 658,525 640,545"/>
<polygon fill="#86C5EB" points="1300,260 1320,220 1375,205 1380,220 1345,245 1315,288"/>
<polygon fill="#86C5EB" points="1590,225 1610,195 1650,200 1640,240 1610,280 1590,260"/>
<polygon fill="#86C5EB" points="1680,215 1700,195 1745,200 1750,225 1725,250 1695,240"/>
<polygon fill="#86C5EB" points="1680,470 1700,415 1740,375 1775,350 1775,390 1745,430 1715,465 1695,510 1685,500"/>
<polygon fill="#86C5EB" points="1190,165 1250,140 1230,165 1245,215 1215,185"/>
<polygon fill="#86C5EB" points="745,590 775,588 810,620 845,650 870,690 860,740 900,760 945,790 985,815 1020,830 1040,890 1060,935 1100,925 1120,940 1110,965 1150,1020 1180,1060 1190,1110 1215,1150 1230,1190 1220,1230 1200,1290 1190,1260 1150,1220 1125,1190 1120,1150 1095,1120 1080,1090 1040,1060 1010,1020 960,990 940,940 900,900 870,860 850,810 850,780 820,730 800,680 780,640"/>
<polygon fill="#5396D2" points="487,90 495,25 525,20 510,60 503,92"/>
<polygon fill="#5396D2" points="1120,55 1135,32 1160,35 1152,62 1130,70"/>
<polygon fill="#5396D2" points="345,362 372,332 385,345 372,378"/>
<polygon fill="#5396D2" points="495,282 507,268 522,282 507,296"/>
<polygon fill="#5396D2" points="358,525 370,514 380,525 370,536"/>
<polygon fill="#5396D2" points="606,460 618,447 634,460 618,473"/>
<polygon fill="#5396D2" points="628,525 640,512 652,525 640,538"/>
<polygon fill="#5396D2" points="1700,215 1715,205 1735,220 1715,232"/>
<polygon fill="#5396D2" points="1695,450 1715,415 1745,385 1765,365 1760,385 1735,420 1710,455"/>
<polygon fill="#5396D2" points="785,630 810,625 840,660 855,700 855,740 890,765 935,800 975,820 1010,840 1030,900 1050,950 1090,960 1120,995 1150,1040 1175,1080 1185,1120 1205,1150 1215,1185 1180,1200 1145,1215 1130,1170 1140,1130 1100,1110 1080,1060 1050,1040 1040,1000 980,980 950,935 910,885 880,840 850,790 830,740 810,690"/>
<polygon fill="#4DA584" points="493,65 500,22 520,20 508,55"/>
<polygon fill="#4DA584" points="1135,55 1142,45 1150,55 1142,62"/>
<polygon fill="#4DA584" points="500,282 507,274 516,282 507,290"/>
<polygon fill="#4DA584" points="611,460 618,452 628,460 618,468"/>
<polygon fill="#4DA584" points="1750,372 1762,362 1765,378 1755,385"/>
<polygon fill="#4DA584" points="1700,435 1712,422 1715,440 1705,448"/>
<polygon fill="#4DA584" points="795,640 815,635 840,670 850,700 840,705 815,670"/>
<polygon fill="#4DA584" points="870,770 905,765 940,805 975,825 1005,850 1025,905 1045,955 1085,965 1115,1000 1145,1045 1170,1085 1180,1125 1200,1155 1205,1180 1170,1195 1150,1200 1140,1160 1150,1125 1110,1100 1085,1050 1055,1035 1045,990 985,970 955,925 915,880 935,860 905,830 885,800"/>
<polygon fill="#6DC34B" points="498,45 503,22 515,22 507,42"/>
<polygon fill="#6DC34B" points="503,282 507,277 512,282 507,287"/>
<polygon fill="#6DC34B" points="614,460 618,455 624,460 618,465"/>
<polygon fill="#6DC34B" points="800,645 815,642 835,672 828,680 810,660"/>
<polygon fill="#6DC34B" points="880,775 905,772 935,810 965,830 1000,855 1020,905 1040,950 1020,970 990,965 960,920 925,885 910,865 935,850 910,825 890,800"/>
<polygon fill="#6DC34B" points="1050,1040 1065,990 1085,970 1110,1005 1140,1050 1165,1090 1175,1130 1195,1160 1170,1185 1150,1190 1145,1160 1155,1120 1125,1090 1095,1075 1075,1050"/>
<polygon fill="#D9E15A" points="915,860 940,842 985,865 1005,895 975,900 940,890"/>
<polygon fill="#D9E15A" points="985,955 1005,910 1025,920 1040,955 1020,970 995,970"/>
<polygon fill="#D9E15A" points="1075,1000 1095,985 1110,1015 1135,1055 1140,1075 1100,1070 1085,1040"/>
<polygon fill="#D9E15A" points="505,282 507,279 510,282 507,285"/>
<polygon fill="#D9E15A" points="615,460 618,457 621,460 618,463"/>
<polygon fill="#F8B448" points="920,862 940,848 980,870 995,892 960,892 935,880"/>
<polygon fill="#F8B448" points="1000,950 1012,925 1025,940 1030,958 1012,962"/>
<polygon fill="#F8B448" points="1095,1050 1105,1030 1115,1045 1125,1065 1105,1068"/>
<polygon fill="#F4672D" points="925,862 940,852 975,872 985,890 955,885 935,875"/>
<polygon fill="#F4672D" points="1008,945 1014,935 1020,950 1012,955"/>
<polygon fill="#F4672D" points="506,281 508,281 508,283 506,283"/>
<polygon fill="#DF3729" points="932,860 942,856 962,870 968,882 950,878"/>
</g></g>
</g>
<use href="#base"/>
<rect x="8.4" y="254.1" width="55.3" height="64.2" fill="#fff" stroke="#000" stroke-width="2.2"/>
<text class="l" x="36.1" y="297.5" text-anchor="middle">k)</text>
<text class="t" transform="translate(163.5 -16.6) scale(.965 1)" text-anchor="middle">NLDAS MOSAIC 0.125<tspan class="s" dy="-14.4">o</tspan><tspan dy="14.4"></tspan></text>
</g>
<g transform="translate(85.3 1387.9)">
<g clip-path="url(#cp)">
<g clip-path="url(#lc)"><g transform="translate(-0.30 0.10) scale(0.18278)">
<polygon fill="#C5E8FA" points="100,0 140,180 150,190 160,250 200,320 215,380 185,410 130,470 145,490 200,510 200,540 230,600 250,620 300,660 340,700 380,740 440,800 465,760 490,740 470,690 445,640 430,600 440,560 430,520 450,470 470,440 510,430 530,460 540,510 587,558 637,598 677,648 698,683 738,739 758,779 788,829 808,879 828,914 858,954 898,989 938,1019 973,1055 998,1080 1024,1090 1029,1120 1049,1140 1079,1165 1084,1200 1099,1225 1114,1270 1114,1330 1130,1370 1110,1400 1050,1430 1000,1430 960,1440 930,1420 900,1430 890,1460 910,1490 950,1500 1000,1510 1080,1510 1150,1505 1200,1540 1250,1560 1330,1570 1400,1580 1450,1640 1470,1700 1500,1760 1520,1789 1560,1789 1560,1700 1530,1650 1510,1620 1530,1560 1500,1530 1440,1510 1400,1515 1340,1480 1270,1470 1200,1460 1180,1440 1230,1400 1250,1360 1280,1300 1290,1270 1330,1280 1370,1260 1380,1210 1375,1120 1380,1090 1430,1110 1500,1100 1560,1110 1600,1060 1620,1090 1680,1110 1740,1100 1789,1080 1789,0"/>
<polygon fill="#C5E8FA" points="1600,1150 1650,1130 1700,1150 1740,1190 1760,1250 1720,1270 1680,1250 1640,1230 1610,1190"/>
<polygon fill="#C5E8FA" points="1470,1200 1490,1170 1520,1200 1510,1250 1480,1240"/>
<polygon fill="#C5E8FA" points="1390,1180 1430,1190 1440,1250 1420,1280 1390,1260"/>
<polygon fill="#C5E8FA" points="1610,1290 1630,1280 1640,1310 1620,1315"/>
<polygon fill="#C5E8FA" points="1680,1330 1720,1330 1750,1370 1740,1420 1700,1400"/>
<polygon fill="#C5E8FA" points="580,980 610,960 645,985 635,1025 600,1030"/>
<polygon fill="#C5E8FA" points="515,1035 530,1030 540,1045 525,1050"/>
<polygon fill="#C5E8FA" points="560,1180 610,1170 650,1200 670,1230 650,1250 600,1230 565,1200"/>
<polygon fill="#C5E8FA" points="730,1170 760,1155 800,1170 830,1200 810,1230 830,1250 855,1265 830,1275 790,1250 760,1220 735,1195"/>
<polygon fill="#C5E8FA" points="695,1140 710,1130 720,1150 705,1158"/>
<polygon fill="#C5E8FA" points="895,1350 910,1345 945,1380 930,1390"/>
<polygon fill="#86C5EB" points="181,75 191,30 216,33 221,60 246,100 226,130 236,150 211,166 181,145 196,115 186,90"/>
<polygon fill="#86C5EB" points="431,120 451,90 461,30 471,13 567,13 552,40 542,70 544,120 517,145 481,155 456,145"/>
<polygon fill="#86C5EB" points="617,45 632,15 672,15 672,35 647,55 627,55"/>
<polygon fill="#86C5EB" points="559,95 577,80 607,98 587,113 564,108"/>
<polygon fill="#86C5EB" points="707,50 722,15 782,15 823,50 853,75 883,125 853,115 823,100 772,133 752,110 737,85 717,75"/>
<polygon fill="#86C5EB" points="843,120 860,90 878,120 860,145"/>
<polygon fill="#86C5EB" points="848,166 863,150 878,166 863,201"/>
<polygon fill="#86C5EB" points="211,261 221,211 236,171 261,145 301,145 326,166 351,160 381,148 411,160 391,191 351,201 341,221 361,261 391,301 416,296 441,271 481,251 502,211 522,236 567,246 622,246 627,261 592,281 597,321 577,346 547,346 527,356 502,336 476,341 436,381 411,371 371,401 346,396 321,381 301,366 271,366 256,341 281,301 301,281 296,251 281,236 251,251 226,266"/>
<polygon fill="#86C5EB" points="226,401 236,376 261,401 301,401 321,386 351,401 361,416 321,431 311,446 351,471 396,502 421,547 411,567 416,612 371,622 356,607 361,567 326,552 316,517 321,481 291,481 251,481 261,451 246,431"/>
<polygon fill="#86C5EB" points="552,351 582,351 592,381 627,401 672,416 712,406 752,426 772,441 767,451 812,481 843,512 853,542 897,592 897,802 873,812 853,782 828,737 802,702 772,667 747,637 722,617 692,592 662,567 637,557 622,532 622,502 597,476 597,441 587,416 562,386"/>
<polygon fill="#86C5EB" points="833,231 843,226 853,256 868,296 863,346 853,301 843,271"/>
<polygon fill="#86C5EB" points="1019,789 1044,769 1064,789 1049,804 1029,799"/>
<polygon fill="#86C5EB" points="1355,744 1375,714 1390,744 1375,764"/>
<polygon fill="#86C5EB" points="1179,1240 1209,1230 1209,1270 1199,1290 1184,1270"/>
<polygon fill="#86C5EB" points="1115,55 1135,22 1170,25 1165,60 1140,85"/>
<polygon fill="#86C5EB" points="1430,40 1450,30 1475,55 1450,65"/>
<polygon fill="#86C5EB" points="1290,255 1320,205 1365,195 1370,225 1335,250 1310,285"/>
<polygon fill="#86C5EB" points="1540,280 1570,240 1590,200 1640,195 1700,200 1750,195 1760,235 1720,250 1670,270 1620,300 1580,320 1555,350"/>
<polygon fill="#86C5EB" points="1680,470 1700,410 1740,370 1775,345 1775,390 1745,430 1715,465 1695,515"/>
<polygon fill="#86C5EB" points="1185,190 1245,135 1225,165 1245,215 1215,190"/>
<polygon fill="#86C5EB" points="1355,745 1375,715 1390,745 1375,765"/>
<polygon fill="#86C5EB" points="1430,750 1445,735 1452,765 1440,775"/>
<polygon fill="#86C5EB" points="850,90 865,90 875,120 860,140"/>
<polygon fill="#86C5EB" points="845,155 865,150 880,170 860,185"/>
<polygon fill="#86C5EB" points="835,225 850,240 860,290 865,340 855,310 845,265"/>
<polygon fill="#86C5EB" points="1430,300 1450,290 1465,300 1445,312"/>
<polygon fill="#86C5EB" points="715,30 760,25 790,70 820,90 800,130 770,130 740,90 710,70"/>
<polygon fill="#86C5EB" points="555,90 580,80 605,100 585,112"/>
<polygon fill="#86C5EB" points="620,30 650,15 680,30 660,50 630,55"/>
<polygon fill="#86C5EB" points="617,498 848,498 853,543 868,588 918,628 928,663 963,734 998,769 1039,769 1064,794 1094,799 1109,779 1124,799 1139,824 1144,849 1124,864 1069,879 1054,904 1079,914 1104,899 1134,909 1144,929 1134,949 1114,959 1134,979 1154,1004 1179,1029 1194,1065 1199,1100 1214,1130 1224,1155 1234,1175 1229,1210 1209,1230 1209,1265 1199,1290 1184,1270 1179,1240 1149,1250 1134,1225 1114,1195 1104,1165 1094,1135 1079,1110 1054,1085 1034,1055 1024,1024 988,1019 958,989 938,959 918,929 893,899 878,869 848,839 843,804 828,774 833,754 808,734 783,703 773,668 743,638 713,613 677,588 642,563 622,533"/>
<polygon fill="#5396D2" points="622,498 698,498 713,523 738,543 783,528 813,548 818,578 848,598 873,593 908,623 918,658 958,739 963,779 988,794 1009,819 1029,849 1049,889 1054,924 1079,954 1119,979 1144,1009 1174,1040 1189,1075 1194,1110 1209,1140 1219,1170 1219,1200 1199,1220 1174,1225 1144,1230 1129,1205 1114,1175 1099,1145 1094,1120 1069,1090 1044,1060 1029,1019 993,1004 968,979 948,949 928,924 908,894 888,864 858,834 853,799 838,769 848,749 823,729 793,698 778,663 748,633 718,608 688,583 647,553 627,528"/>
<polygon fill="#5396D2" points="1099,799 1109,781 1124,804 1129,829 1114,844 1094,829"/>
<polygon fill="#5396D2" points="1096,924 1114,914 1134,924 1124,939 1104,937"/>
<polygon fill="#4DA584" points="627,503 647,498 667,518 693,548 708,568 758,543 783,538 793,553 773,573 798,583 843,613 873,608 898,628 908,663 918,739 948,749 983,784 1014,824 1029,854 1044,894 1054,929 1074,959 1114,984 1139,1014 1169,1045 1184,1080 1189,1115 1204,1145 1204,1190 1179,1205 1154,1225 1134,1200 1119,1170 1104,1140 1099,1120 1074,1085 1049,1055 1034,1019 998,999 973,974 953,944 938,919 913,889 898,859 868,834 858,799 853,779 863,749 833,724 803,693 783,658 758,633 723,603 703,583 683,563 652,543 632,523"/>
<polygon fill="#6DC34B" points="632,508 647,503 662,523 688,548 683,558 652,533"/>
<polygon fill="#6DC34B" points="733,583 763,558 778,543 788,553 768,573 798,588 838,618 853,638 868,663 873,688 878,739 908,744 928,764 948,779 978,799 1009,829 1024,859 1039,899 1049,934 1069,964 1109,989 1134,1019 1164,1050 1179,1085 1184,1120 1199,1150 1199,1175 1179,1195 1154,1220 1134,1195 1124,1165 1109,1135 1124,1115 1094,1100 1069,1075 1054,1050 1039,1014 1003,994 978,969 958,939 943,914 918,884 908,849 888,829 868,799 868,779 873,754 843,724 813,688 793,653 768,628 743,603"/>
<polygon fill="#D9E15A" points="637,513 645,513 647,525 637,525"/>
<polygon fill="#D9E15A" points="748,593 783,588 813,603 843,628 858,653 868,683 873,734 893,749 918,769 943,789 973,809 1003,839 1019,869 1034,904 1044,934 1059,964 1074,967 1104,994 1129,1024 1159,1055 1174,1090 1179,1125 1174,1140 1159,1120 1139,1095 1114,1075 1079,1065 1059,1045 1054,1019 1069,994 1049,969 1019,974 988,979 973,959 963,934 948,909 933,894 918,864 913,839 898,819 888,794 878,769 853,729 823,688 798,648 778,623 758,608"/>
<polygon fill="#D9E15A" points="1139,1175 1154,1152 1171,1175 1154,1197"/>
<polygon fill="#F8B448" points="793,633 813,621 838,643 853,668 863,688 848,683 828,673 808,658"/>
<polygon fill="#F8B448" points="856,724 863,719 866,731 858,734"/>
<polygon fill="#F8B448" points="888,769 898,759 918,779 948,799 978,819 1003,849 1019,879 1029,909 1044,939 1049,954 1024,969 993,977 978,954 968,934 953,914 938,894 923,864 913,844 928,834 918,809 898,794"/>
<polygon fill="#F8B448" points="1064,1040 1069,1004 1079,969 1094,974 1114,999 1134,1029 1159,1065 1174,1095 1177,1125 1166,1120 1154,1090 1129,1075 1099,1060 1079,1045"/>
<polygon fill="#F8B448" points="1144,1175 1154,1160 1166,1175 1154,1190"/>
<polygon fill="#F4672D" points="800,638 813,626 833,643 848,668 853,681 833,671 813,658"/>
<polygon fill="#F4672D" points="898,769 908,769 933,794 963,814 993,839 1009,869 1019,899 1034,929 1041,949 1019,964 993,972 983,949 973,929 953,914 943,889 928,864 918,844 933,834 923,809"/>
<polygon fill="#F4672D" points="1079,979 1086,972 1104,994 1119,1019 1131,1045 1124,1060 1104,1060 1096,1034 1094,1004"/>
<polygon fill="#DF3729" points="803,643 813,631 828,643 838,663 828,666 813,658"/>
<polygon fill="#DF3729" points="918,849 933,834 953,824 983,839 1001,859 1006,884 988,894 968,889 943,879 923,864"/>
<polygon fill="#DF3729" points="973,929 993,914 1019,914 1036,939 1029,959 1009,967 993,969 983,947"/>
<polygon fill="#B81D26" points="923,854 938,839 958,831 983,844 996,864 988,882 963,884 938,874"/>
<polygon fill="#8B181D" points="933,856 948,846 973,849 991,861 978,874 953,874"/>
<polygon fill="#5396D2" points="251,331 281,311 301,346 281,361 261,351"/>
<polygon fill="#5396D2" points="291,456 301,441 326,466 361,481 391,507 416,542 406,562 411,607 376,617 361,602 366,562 331,547 321,512 321,486"/>
<polygon fill="#5396D2" points="587,411 602,399 642,421 702,426 737,436 767,461 792,497 772,507 742,481 702,471 652,476 622,481 602,466 597,436"/>
<polygon fill="#5396D2" points="1125,50 1140,30 1160,32 1155,58 1138,70"/>
<polygon fill="#5396D2" points="1590,250 1605,215 1635,210 1640,245 1620,275 1600,270"/>
<polygon fill="#5396D2" points="1300,250 1325,215 1350,210 1330,240"/>
<polygon fill="#5396D2" points="1700,215 1720,200 1745,210 1730,232 1708,228"/>
<polygon fill="#5396D2" points="1690,450 1715,410 1745,380 1765,362 1760,388 1730,425 1705,460"/>
<polygon fill="#4DA584" points="1132,48 1142,35 1155,38 1150,55"/>
<polygon fill="#4DA584" points="1705,212 1720,205 1735,212 1720,225"/>
<polygon fill="#4DA584" points="1700,440 1715,415 1725,425 1710,450"/>
<polygon fill="#4DA584" points="1750,370 1762,360 1765,380"/>
<polygon fill="#6DC34B" points="1710,430 1716,420 1722,428 1714,440"/>
<polygon fill="#6DC34B" points="1712,212 1720,208 1728,213 1720,219"/>
<defs><polygon id="l84" points="481,75 494,40 502,0 517,0 512,50 502,80 494,105 484,100"/><polygon id="l85" points="486,108 502,100 509,118 494,123"/><ellipse id="l86" cx="212" cy="145" rx="4" ry="3"/><ellipse id="l87" cx="206" cy="78" rx="10" ry="4"/><polygon id="l88" points="281,166 296,158 308,168 296,176"/><polygon id="l89" points="251,201 258,188 263,201 258,216 251,216"/><polygon id="l90" points="236,221 241,196 261,176 281,181 271,201 261,226 246,241"/><polygon id="l91" points="366,166 381,159 394,168 379,173"/><polygon id="l92" points="371,186 381,176 376,193"/><polygon id="l93" points="318,251 326,231 339,256 341,281 326,286 318,271"/><polygon id="l94" points="323,266 329,261 331,276 325,278"/><polygon id="l95" points="364,311 376,301 396,321 401,346 386,371 366,381 346,369 361,356 371,341 366,326"/><polygon id="l96" points="369,318 379,313 384,326 374,331"/><polygon id="l97" points="436,306 451,296 464,306 461,326 449,334 439,321"/><polygon id="l98" points="491,281 504,266 518,281 504,296"/><polygon id="l99" points="532,271 557,261 582,256 572,271 552,286 532,288"/><polygon id="l100" points="544,321 562,318 567,326 549,329"/><polygon id="l101" points="273,344 281,334 290,344 281,354"/><polygon id="l102" points="359,522 369,512 379,524 370,539"/><polygon id="l103" points="346,507 361,494 381,507 394,527 381,547 369,557 351,537"/><polygon id="l104" points="374,577 391,587 399,597 386,599 374,609 369,597"/><polygon id="l105" points="609,456 619,449 634,457 619,464"/><polygon id="l106" points="607,461 617,441 652,439 682,446 697,454 672,461 642,469 617,474"/><polygon id="l107" points="633,522 639,502 652,512 662,532 682,547 672,552 652,539 639,537"/><ellipse id="l108" cx="641" cy="522" rx="4" ry="4"/></defs>
<use href="#l84" fill="#86C5EB" stroke="#86C5EB" stroke-width="54" stroke-linejoin="round"/>
<use href="#l85" fill="#86C5EB" stroke="#86C5EB" stroke-width="45" stroke-linejoin="round"/>
<use href="#l86" fill="#86C5EB" stroke="#86C5EB" stroke-width="50" stroke-linejoin="round"/>
<use href="#l87" fill="#86C5EB" stroke="#86C5EB" stroke-width="24" stroke-linejoin="round"/>
<use href="#l88" fill="#86C5EB" stroke="#86C5EB" stroke-width="50" stroke-linejoin="round"/>
<use href="#l89" fill="#86C5EB" stroke="#86C5EB" stroke-width="54" stroke-linejoin="round"/>
<use href="#l90" fill="#86C5EB" stroke="#86C5EB" stroke-width="39" stroke-linejoin="round"/>
<use href="#l91" fill="#86C5EB" stroke="#86C5EB" stroke-width="45" stroke-linejoin="round"/>
<use href="#l92" fill="#86C5EB" stroke="#86C5EB" stroke-width="32" stroke-linejoin="round"/>
<use href="#l93" fill="#86C5EB" stroke="#86C5EB" stroke-width="39" stroke-linejoin="round"/>
<use href="#l94" fill="#86C5EB" stroke="#86C5EB" stroke-width="37.5" stroke-linejoin="round"/>
<use href="#l95" fill="#86C5EB" stroke="#86C5EB" stroke-width="39" stroke-linejoin="round"/>
<use href="#l96" fill="#86C5EB" stroke="#86C5EB" stroke-width="37.5" stroke-linejoin="round"/>
<use href="#l97" fill="#86C5EB" stroke="#86C5EB" stroke-width="39" stroke-linejoin="round"/>
<use href="#l98" fill="#86C5EB" stroke="#86C5EB" stroke-width="51.7" stroke-linejoin="round"/>
<use href="#l99" fill="#86C5EB" stroke="#86C5EB" stroke-width="24" stroke-linejoin="round"/>
<use href="#l100" fill="#86C5EB" stroke="#86C5EB" stroke-width="24" stroke-linejoin="round"/>
<use href="#l101" fill="#86C5EB" stroke="#86C5EB" stroke-width="26.7" stroke-linejoin="round"/>
<use href="#l102" fill="#86C5EB" stroke="#86C5EB" stroke-width="50" stroke-linejoin="round"/>
<use href="#l103" fill="#86C5EB" stroke="#86C5EB" stroke-width="45" stroke-linejoin="round"/>
<use href="#l104" fill="#86C5EB" stroke="#86C5EB" stroke-width="32" stroke-linejoin="round"/>
<use href="#l105" fill="#86C5EB" stroke="#86C5EB" stroke-width="45" stroke-linejoin="round"/>
<use href="#l106" fill="#86C5EB" stroke="#86C5EB" stroke-width="32" stroke-linejoin="round"/>
<use href="#l107" fill="#86C5EB" stroke="#86C5EB" stroke-width="32" stroke-linejoin="round"/>
<use href="#l108" fill="#86C5EB" stroke="#86C5EB" stroke-width="26" stroke-linejoin="round"/>
<use href="#l84" fill="#5396D2" stroke="#5396D2" stroke-width="40" stroke-linejoin="round"/>
<use href="#l85" fill="#5396D2" stroke="#5396D2" stroke-width="31" stroke-linejoin="round"/>
<use href="#l86" fill="#5396D2" stroke="#5396D2" stroke-width="36" stroke-linejoin="round"/>
<use href="#l87" fill="#5396D2" stroke="#5396D2" stroke-width="10" stroke-linejoin="round"/>
<use href="#l88" fill="#5396D2" stroke="#5396D2" stroke-width="36" stroke-linejoin="round"/>
<use href="#l89" fill="#5396D2" stroke="#5396D2" stroke-width="40" stroke-linejoin="round"/>
<use href="#l90" fill="#5396D2" stroke="#5396D2" stroke-width="25" stroke-linejoin="round"/>
<use href="#l91" fill="#5396D2" stroke="#5396D2" stroke-width="31" stroke-linejoin="round"/>
<use href="#l92" fill="#5396D2" stroke="#5396D2" stroke-width="18" stroke-linejoin="round"/>
<use href="#l93" fill="#5396D2" stroke="#5396D2" stroke-width="25" stroke-linejoin="round"/>
<use href="#l94" fill="#5396D2" stroke="#5396D2" stroke-width="25.8" stroke-linejoin="round"/>
<use href="#l95" fill="#5396D2" stroke="#5396D2" stroke-width="25" stroke-linejoin="round"/>
<use href="#l96" fill="#5396D2" stroke="#5396D2" stroke-width="25.8" stroke-linejoin="round"/>
<use href="#l97" fill="#5396D2" stroke="#5396D2" stroke-width="25" stroke-linejoin="round"/>
<use href="#l98" fill="#5396D2" stroke="#5396D2" stroke-width="40" stroke-linejoin="round"/>
<use href="#l99" fill="#5396D2" stroke="#5396D2" stroke-width="10" stroke-linejoin="round"/>
<use href="#l100" fill="#5396D2" stroke="#5396D2" stroke-width="10" stroke-linejoin="round"/>
<use href="#l101" fill="#5396D2" stroke="#5396D2" stroke-width="15" stroke-linejoin="round"/>
<use href="#l102" fill="#5396D2" stroke="#5396D2" stroke-width="36" stroke-linejoin="round"/>
<use href="#l103" fill="#5396D2" stroke="#5396D2" stroke-width="31" stroke-linejoin="round"/>
<use href="#l104" fill="#5396D2" stroke="#5396D2" stroke-width="18" stroke-linejoin="round"/>
<use href="#l105" fill="#5396D2" stroke="#5396D2" stroke-width="33.3" stroke-linejoin="round"/>
<use href="#l106" fill="#5396D2" stroke="#5396D2" stroke-width="18" stroke-linejoin="round"/>
<use href="#l107" fill="#5396D2" stroke="#5396D2" stroke-width="18" stroke-linejoin="round"/>
<use href="#l108" fill="#5396D2" stroke="#5396D2" stroke-width="16.7" stroke-linejoin="round"/>
<use href="#l84" fill="#4DA584" stroke="#4DA584" stroke-width="30" stroke-linejoin="round"/>
<use href="#l85" fill="#4DA584" stroke="#4DA584" stroke-width="21" stroke-linejoin="round"/>
<use href="#l86" fill="#4DA584" stroke="#4DA584" stroke-width="26" stroke-linejoin="round"/>
<use href="#l87" fill="#4DA584"/>
<use href="#l88" fill="#4DA584" stroke="#4DA584" stroke-width="26" stroke-linejoin="round"/>
<use href="#l89" fill="#4DA584" stroke="#4DA584" stroke-width="30" stroke-linejoin="round"/>
<use href="#l90" fill="#4DA584" stroke="#4DA584" stroke-width="15" stroke-linejoin="round"/>
<use href="#l91" fill="#4DA584" stroke="#4DA584" stroke-width="21" stroke-linejoin="round"/>
<use href="#l92" fill="#4DA584" stroke="#4DA584" stroke-width="8" stroke-linejoin="round"/>
<use href="#l93" fill="#4DA584" stroke="#4DA584" stroke-width="15" stroke-linejoin="round"/>
<use href="#l94" fill="#4DA584" stroke="#4DA584" stroke-width="17.5" stroke-linejoin="round"/>
<use href="#l95" fill="#4DA584" stroke="#4DA584" stroke-width="15" stroke-linejoin="round"/>
<use href="#l96" fill="#4DA584" stroke="#4DA584" stroke-width="17.5" stroke-linejoin="round"/>
<use href="#l97" fill="#4DA584" stroke="#4DA584" stroke-width="15" stroke-linejoin="round"/>
<use href="#l98" fill="#4DA584" stroke="#4DA584" stroke-width="31.7" stroke-linejoin="round"/>
<use href="#l99" fill="#4DA584"/>
<use href="#l100" fill="#4DA584"/>
<use href="#l101" fill="#4DA584" stroke="#4DA584" stroke-width="6.7" stroke-linejoin="round"/>
<use href="#l102" fill="#4DA584" stroke="#4DA584" stroke-width="26" stroke-linejoin="round"/>
<use href="#l103" fill="#4DA584" stroke="#4DA584" stroke-width="21" stroke-linejoin="round"/>
<use href="#l104" fill="#4DA584" stroke="#4DA584" stroke-width="8" stroke-linejoin="round"/>
<use href="#l105" fill="#4DA584" stroke="#4DA584" stroke-width="25" stroke-linejoin="round"/>
<use href="#l106" fill="#4DA584" stroke="#4DA584" stroke-width="8" stroke-linejoin="round"/>
<use href="#l107" fill="#4DA584" stroke="#4DA584" stroke-width="8" stroke-linejoin="round"/>
<use href="#l108" fill="#4DA584" stroke="#4DA584" stroke-width="10" stroke-linejoin="round"/>
<use href="#l84" fill="#6DC34B" stroke="#6DC34B" stroke-width="22" stroke-linejoin="round"/>
<use href="#l85" fill="#6DC34B" stroke="#6DC34B" stroke-width="13" stroke-linejoin="round"/>
<use href="#l86" fill="#6DC34B" stroke="#6DC34B" stroke-width="18" stroke-linejoin="round"/>
<use href="#l88" fill="#6DC34B" stroke="#6DC34B" stroke-width="18" stroke-linejoin="round"/>
<use href="#l89" fill="#6DC34B" stroke="#6DC34B" stroke-width="22" stroke-linejoin="round"/>
<use href="#l90" fill="#6DC34B" stroke="#6DC34B" stroke-width="7" stroke-linejoin="round"/>
<use href="#l91" fill="#6DC34B" stroke="#6DC34B" stroke-width="13" stroke-linejoin="round"/>
<use href="#l92" fill="#6DC34B"/>
<use href="#l93" fill="#6DC34B" stroke="#6DC34B" stroke-width="7" stroke-linejoin="round"/>
<use href="#l94" fill="#6DC34B" stroke="#6DC34B" stroke-width="10.8" stroke-linejoin="round"/>
<use href="#l95" fill="#6DC34B" stroke="#6DC34B" stroke-width="7" stroke-linejoin="round"/>
<use href="#l96" fill="#6DC34B" stroke="#6DC34B" stroke-width="10.8" stroke-linejoin="round"/>
<use href="#l97" fill="#6DC34B" stroke="#6DC34B" stroke-width="7" stroke-linejoin="round"/>
<use href="#l98" fill="#6DC34B" stroke="#6DC34B" stroke-width="25" stroke-linejoin="round"/>
<use href="#l101" fill="#6DC34B"/>
<use href="#l102" fill="#6DC34B" stroke="#6DC34B" stroke-width="18" stroke-linejoin="round"/>
<use href="#l103" fill="#6DC34B" stroke="#6DC34B" stroke-width="13" stroke-linejoin="round"/>
<use href="#l104" fill="#6DC34B"/>
<use href="#l105" fill="#6DC34B" stroke="#6DC34B" stroke-width="18.3" stroke-linejoin="round"/>
<use href="#l106" fill="#6DC34B"/>
<use href="#l107" fill="#6DC34B"/>
<use href="#l108" fill="#6DC34B" stroke="#6DC34B" stroke-width="4.7" stroke-linejoin="round"/>
<use href="#l84" fill="#D9E15A" stroke="#D9E15A" stroke-width="15" stroke-linejoin="round"/>
<use href="#l85" fill="#D9E15A" stroke="#D9E15A" stroke-width="6" stroke-linejoin="round"/>
<use href="#l86" fill="#D9E15A" stroke="#D9E15A" stroke-width="11" stroke-linejoin="round"/>
<use href="#l88" fill="#D9E15A" stroke="#D9E15A" stroke-width="11" stroke-linejoin="round"/>
<use href="#l89" fill="#D9E15A" stroke="#D9E15A" stroke-width="15" stroke-linejoin="round"/>
<use href="#l90" fill="#D9E15A"/>
<use href="#l91" fill="#D9E15A" stroke="#D9E15A" stroke-width="6" stroke-linejoin="round"/>
<use href="#l93" fill="#D9E15A"/>
<use href="#l94" fill="#D9E15A" stroke="#D9E15A" stroke-width="5" stroke-linejoin="round"/>
<use href="#l95" fill="#D9E15A"/>
<use href="#l96" fill="#D9E15A" stroke="#D9E15A" stroke-width="5" stroke-linejoin="round"/>
<use href="#l97" fill="#D9E15A"/>
<use href="#l98" fill="#D9E15A" stroke="#D9E15A" stroke-width="19.2" stroke-linejoin="round"/>
<use href="#l102" fill="#D9E15A" stroke="#D9E15A" stroke-width="11" stroke-linejoin="round"/>
<use href="#l103" fill="#D9E15A" stroke="#D9E15A" stroke-width="6" stroke-linejoin="round"/>
<use href="#l105" fill="#D9E15A" stroke="#D9E15A" stroke-width="12.5" stroke-linejoin="round"/>
<use href="#l108" fill="#D9E15A"/>
<use href="#l84" fill="#F8B448" stroke="#F8B448" stroke-width="9" stroke-linejoin="round"/>
<use href="#l85" fill="#F8B448"/>
<use href="#l86" fill="#F8B448" stroke="#F8B448" stroke-width="5" stroke-linejoin="round"/>
<use href="#l88" fill="#F8B448" stroke="#F8B448" stroke-width="5" stroke-linejoin="round"/>
<use href="#l89" fill="#F8B448" stroke="#F8B448" stroke-width="9" stroke-linejoin="round"/>
<use href="#l91" fill="#F8B448"/>
<use href="#l94" fill="#F8B448"/>
<use href="#l96" fill="#F8B448"/>
<use href="#l98" fill="#F8B448" stroke="#F8B448" stroke-width="14.2" stroke-linejoin="round"/>
<use href="#l102" fill="#F8B448" stroke="#F8B448" stroke-width="5" stroke-linejoin="round"/>
<use href="#l103" fill="#F8B448"/>
<use href="#l105" fill="#F8B448" stroke="#F8B448" stroke-width="7.5" stroke-linejoin="round"/>
<use href="#l84" fill="#F4672D" stroke="#F4672D" stroke-width="4" stroke-linejoin="round"/>
<use href="#l86" fill="#F4672D"/>
<use href="#l88" fill="#F4672D"/>
<use href="#l89" fill="#F4672D" stroke="#F4672D" stroke-width="4" stroke-linejoin="round"/>
<use href="#l98" fill="#F4672D" stroke="#F4672D" stroke-width="10" stroke-linejoin="round"/>
<use href="#l102" fill="#F4672D"/>
<use href="#l105" fill="#F4672D" stroke="#F4672D" stroke-width="3.3" stroke-linejoin="round"/>
<use href="#l84" fill="#DF3729"/>
<use href="#l89" fill="#DF3729"/>
<use href="#l98" fill="#DF3729" stroke="#DF3729" stroke-width="6.7" stroke-linejoin="round"/>
<use href="#l105" fill="#DF3729"/>
<use href="#l98" fill="#B81D26" stroke="#B81D26" stroke-width="3.3" stroke-linejoin="round"/>
<use href="#l98" fill="#8B181D"/>
</g></g>
</g>
<use href="#base"/>
<rect x="8.4" y="254.1" width="44.2" height="64.2" fill="#fff" stroke="#000" stroke-width="2.2"/>
<text class="l" x="30.5" y="297.5" text-anchor="middle">l)</text>
<text class="t" transform="translate(163.5 -16.6) scale(.965 1)" text-anchor="middle">CAL-ADAPT CCSM3 0.125<tspan class="s" dy="-14.4">o</tspan><tspan dy="14.4"></tspan></text>
</g>
<g transform="translate(536.1 1387.9)">
<g clip-path="url(#cp)">
<g clip-path="url(#lc)"><g transform="translate(-0.10 0.10) scale(0.18278)">
<polygon fill="#C5E8FA" points="100,0 140,180 150,190 160,250 200,320 215,380 185,410 130,470 145,490 200,510 200,540 230,600 250,620 300,660 340,700 380,740 440,800 465,760 490,740 470,690 445,640 430,600 440,560 430,520 450,470 470,440 510,430 530,460 540,510 587,558 637,598 677,648 698,683 738,739 758,779 788,829 808,879 828,914 858,954 898,989 938,1019 973,1055 998,1080 1024,1090 1029,1120 1049,1140 1079,1165 1084,1200 1099,1225 1114,1270 1114,1330 1130,1370 1110,1400 1050,1430 1000,1430 960,1440 930,1420 900,1430 890,1460 910,1490 950,1500 1000,1510 1080,1510 1150,1505 1200,1540 1250,1560 1330,1570 1400,1580 1450,1640 1470,1700 1500,1760 1520,1789 1560,1789 1560,1700 1530,1650 1510,1620 1530,1560 1500,1530 1440,1510 1400,1515 1340,1480 1270,1470 1200,1460 1180,1440 1230,1400 1250,1360 1280,1300 1290,1270 1330,1280 1370,1260 1380,1210 1375,1120 1380,1090 1430,1110 1500,1100 1560,1110 1600,1060 1620,1090 1680,1110 1740,1100 1789,1080 1789,0"/>
<polygon fill="#C5E8FA" points="1600,1150 1650,1130 1700,1150 1740,1190 1760,1250 1720,1270 1680,1250 1640,1230 1610,1190"/>
<polygon fill="#C5E8FA" points="1470,1200 1490,1170 1520,1200 1510,1250 1480,1240"/>
<polygon fill="#C5E8FA" points="1390,1180 1430,1190 1440,1250 1420,1280 1390,1260"/>
<polygon fill="#C5E8FA" points="1610,1290 1630,1280 1640,1310 1620,1315"/>
<polygon fill="#C5E8FA" points="1680,1330 1720,1330 1750,1370 1740,1420 1700,1400"/>
<polygon fill="#C5E8FA" points="580,980 610,960 645,985 635,1025 600,1030"/>
<polygon fill="#C5E8FA" points="515,1035 530,1030 540,1045 525,1050"/>
<polygon fill="#C5E8FA" points="560,1180 610,1170 650,1200 670,1230 650,1250 600,1230 565,1200"/>
<polygon fill="#C5E8FA" points="730,1170 760,1155 800,1170 830,1200 810,1230 830,1250 855,1265 830,1275 790,1250 760,1220 735,1195"/>
<polygon fill="#C5E8FA" points="695,1140 710,1130 720,1150 705,1158"/>
<polygon fill="#C5E8FA" points="895,1350 910,1345 945,1380 930,1390"/>
<polygon fill="#FFFFFF" points="1040,640 1075,600 1130,570 1200,565 1180,610 1230,640 1200,670 1150,660 1130,690 1090,665 1045,662"/>
<polygon fill="#FFFFFF" points="1185,730 1250,725 1265,745 1240,755 1195,750"/>
<polygon fill="#FFFFFF" points="1330,860 1350,820 1360,860"/>
<polygon fill="#FFFFFF" points="1640,810 1670,785 1665,815 1645,838"/>
<polygon fill="#FFFFFF" points="1410,1020 1430,1015 1435,1040"/>
<polygon fill="#FFFFFF" points="1285,1100 1300,1095 1320,1130 1290,1130"/>
<polygon fill="#86C5EB" points="181,75 191,30 216,33 221,60 246,100 226,130 236,150 211,166 181,145 196,115 186,90"/>
<polygon fill="#86C5EB" points="431,120 451,90 461,30 471,13 567,13 552,40 542,70 544,120 517,145 481,155 456,145"/>
<polygon fill="#86C5EB" points="617,45 632,15 672,15 672,35 647,55 627,55"/>
<polygon fill="#86C5EB" points="559,95 577,80 607,98 587,113 564,108"/>
<polygon fill="#86C5EB" points="707,50 722,15 782,15 823,50 853,75 883,125 853,115 823,100 772,133 752,110 737,85 717,75"/>
<polygon fill="#86C5EB" points="843,120 860,90 878,120 860,145"/>
<polygon fill="#86C5EB" points="848,166 863,150 878,166 863,201"/>
<polygon fill="#86C5EB" points="211,261 221,211 236,171 261,145 301,145 326,166 351,160 381,148 411,160 391,191 351,201 341,221 361,261 391,301 416,296 441,271 481,251 502,211 522,236 567,246 622,246 627,261 592,281 597,321 577,346 547,346 527,356 502,336 476,341 436,381 411,371 371,401 346,396 321,381 301,366 271,366 256,341 281,301 301,281 296,251 281,236 251,251 226,266"/>
<polygon fill="#86C5EB" points="226,401 236,376 261,401 301,401 321,386 351,401 361,416 321,431 311,446 351,471 396,502 421,547 411,567 416,612 371,622 356,607 361,567 326,552 316,517 321,481 291,481 251,481 261,451 246,431"/>
<polygon fill="#86C5EB" points="552,351 582,351 592,381 627,401 672,416 712,406 752,426 772,441 767,451 812,481 843,512 853,542 897,592 897,802 873,812 853,782 828,737 802,702 772,667 747,637 722,617 692,592 662,567 637,557 622,532 622,502 597,476 597,441 587,416 562,386"/>
<polygon fill="#86C5EB" points="833,231 843,226 853,256 868,296 863,346 853,301 843,271"/>
<polygon fill="#86C5EB" points="1019,789 1044,769 1064,789 1049,804 1029,799"/>
<polygon fill="#86C5EB" points="1355,744 1375,714 1390,744 1375,764"/>
<polygon fill="#86C5EB" points="1179,1240 1209,1230 1209,1270 1199,1290 1184,1270"/>
<polygon fill="#86C5EB" points="1115,55 1135,22 1170,25 1165,60 1140,85"/>
<polygon fill="#86C5EB" points="1430,40 1450,30 1475,55 1450,65"/>
<polygon fill="#86C5EB" points="1290,255 1320,205 1365,195 1370,225 1335,250 1310,285"/>
<polygon fill="#86C5EB" points="1540,280 1570,240 1590,200 1640,195 1700,200 1750,195 1760,235 1720,250 1670,270 1620,300 1580,320 1555,350"/>
<polygon fill="#86C5EB" points="1680,470 1700,410 1740,370 1775,345 1775,390 1745,430 1715,465 1695,515"/>
<polygon fill="#86C5EB" points="1185,190 1245,135 1225,165 1245,215 1215,190"/>
<polygon fill="#86C5EB" points="1355,745 1375,715 1390,745 1375,765"/>
<polygon fill="#86C5EB" points="1430,750 1445,735 1452,765 1440,775"/>
<polygon fill="#86C5EB" points="850,90 865,90 875,120 860,140"/>
<polygon fill="#86C5EB" points="845,155 865,150 880,170 860,185"/>
<polygon fill="#86C5EB" points="835,225 850,240 860,290 865,340 855,310 845,265"/>
<polygon fill="#86C5EB" points="1430,300 1450,290 1465,300 1445,312"/>
<polygon fill="#86C5EB" points="715,30 760,25 790,70 820,90 800,130 770,130 740,90 710,70"/>
<polygon fill="#86C5EB" points="555,90 580,80 605,100 585,112"/>
<polygon fill="#86C5EB" points="620,30 650,15 680,30 660,50 630,55"/>
<polygon fill="#86C5EB" points="617,498 848,498 853,543 868,588 918,628 928,663 963,734 998,769 1039,769 1064,794 1094,799 1109,779 1124,799 1139,824 1144,849 1124,864 1069,879 1054,904 1079,914 1104,899 1134,909 1144,929 1134,949 1114,959 1134,979 1154,1004 1179,1029 1194,1065 1199,1100 1214,1130 1224,1155 1234,1175 1229,1210 1209,1230 1209,1265 1199,1290 1184,1270 1179,1240 1149,1250 1134,1225 1114,1195 1104,1165 1094,1135 1079,1110 1054,1085 1034,1055 1024,1024 988,1019 958,989 938,959 918,929 893,899 878,869 848,839 843,804 828,774 833,754 808,734 783,703 773,668 743,638 713,613 677,588 642,563 622,533"/>
<polygon fill="#5396D2" points="622,498 698,498 713,523 738,543 783,528 813,548 818,578 848,598 873,593 908,623 918,658 958,739 963,779 988,794 1009,819 1029,849 1049,889 1054,924 1079,954 1119,979 1144,1009 1174,1040 1189,1075 1194,1110 1209,1140 1219,1170 1219,1200 1199,1220 1174,1225 1144,1230 1129,1205 1114,1175 1099,1145 1094,1120 1069,1090 1044,1060 1029,1019 993,1004 968,979 948,949 928,924 908,894 888,864 858,834 853,799 838,769 848,749 823,729 793,698 778,663 748,633 718,608 688,583 647,553 627,528"/>
<polygon fill="#5396D2" points="1099,799 1109,781 1124,804 1129,829 1114,844 1094,829"/>
<polygon fill="#5396D2" points="1096,924 1114,914 1134,924 1124,939 1104,937"/>
<polygon fill="#4DA584" points="627,503 647,498 667,518 693,548 708,568 758,543 783,538 793,553 773,573 798,583 843,613 873,608 898,628 908,663 918,739 948,749 983,784 1014,824 1029,854 1044,894 1054,929 1074,959 1114,984 1139,1014 1169,1045 1184,1080 1189,1115 1204,1145 1204,1190 1179,1205 1154,1225 1134,1200 1119,1170 1104,1140 1099,1120 1074,1085 1049,1055 1034,1019 998,999 973,974 953,944 938,919 913,889 898,859 868,834 858,799 853,779 863,749 833,724 803,693 783,658 758,633 723,603 703,583 683,563 652,543 632,523"/>
<polygon fill="#6DC34B" points="632,508 647,503 662,523 688,548 683,558 652,533"/>
<polygon fill="#6DC34B" points="733,583 763,558 778,543 788,553 768,573 798,588 838,618 853,638 868,663 873,688 878,739 908,744 928,764 948,779 978,799 1009,829 1024,859 1039,899 1049,934 1069,964 1109,989 1134,1019 1164,1050 1179,1085 1184,1120 1199,1150 1199,1175 1179,1195 1154,1220 1134,1195 1124,1165 1109,1135 1124,1115 1094,1100 1069,1075 1054,1050 1039,1014 1003,994 978,969 958,939 943,914 918,884 908,849 888,829 868,799 868,779 873,754 843,724 813,688 793,653 768,628 743,603"/>
<polygon fill="#D9E15A" points="637,513 645,513 647,525 637,525"/>
<polygon fill="#D9E15A" points="748,593 783,588 813,603 843,628 858,653 868,683 873,734 893,749 918,769 943,789 973,809 1003,839 1019,869 1034,904 1044,934 1059,964 1074,967 1104,994 1129,1024 1159,1055 1174,1090 1179,1125 1174,1140 1159,1120 1139,1095 1114,1075 1079,1065 1059,1045 1054,1019 1069,994 1049,969 1019,974 988,979 973,959 963,934 948,909 933,894 918,864 913,839 898,819 888,794 878,769 853,729 823,688 798,648 778,623 758,608"/>
<polygon fill="#D9E15A" points="1139,1175 1154,1152 1171,1175 1154,1197"/>
<polygon fill="#F8B448" points="793,633 813,621 838,643 853,668 863,688 848,683 828,673 808,658"/>
<polygon fill="#F8B448" points="856,724 863,719 866,731 858,734"/>
<polygon fill="#F8B448" points="888,769 898,759 918,779 948,799 978,819 1003,849 1019,879 1029,909 1044,939 1049,954 1024,969 993,977 978,954 968,934 953,914 938,894 923,864 913,844 928,834 918,809 898,794"/>
<polygon fill="#F8B448" points="1064,1040 1069,1004 1079,969 1094,974 1114,999 1134,1029 1159,1065 1174,1095 1177,1125 1166,1120 1154,1090 1129,1075 1099,1060 1079,1045"/>
<polygon fill="#F8B448" points="1144,1175 1154,1160 1166,1175 1154,1190"/>
<polygon fill="#F4672D" points="800,638 813,626 833,643 848,668 853,681 833,671 813,658"/>
<polygon fill="#F4672D" points="898,769 908,769 933,794 963,814 993,839 1009,869 1019,899 1034,929 1041,949 1019,964 993,972 983,949 973,929 953,914 943,889 928,864 918,844 933,834 923,809"/>
<polygon fill="#F4672D" points="1079,979 1086,972 1104,994 1119,1019 1131,1045 1124,1060 1104,1060 1096,1034 1094,1004"/>
<polygon fill="#DF3729" points="803,643 813,631 828,643 838,663 828,666 813,658"/>
<polygon fill="#DF3729" points="918,849 933,834 953,824 983,839 1001,859 1006,884 988,894 968,889 943,879 923,864"/>
<polygon fill="#DF3729" points="973,929 993,914 1019,914 1036,939 1029,959 1009,967 993,969 983,947"/>
<polygon fill="#B81D26" points="923,854 938,839 958,831 983,844 996,864 988,882 963,884 938,874"/>
<polygon fill="#8B181D" points="933,856 948,846 973,849 991,861 978,874 953,874"/>
<polygon fill="#5396D2" points="251,331 281,311 301,346 281,361 261,351"/>
<polygon fill="#5396D2" points="291,456 301,441 326,466 361,481 391,507 416,542 406,562 411,607 376,617 361,602 366,562 331,547 321,512 321,486"/>
<polygon fill="#5396D2" points="587,411 602,399 642,421 702,426 737,436 767,461 792,497 772,507 742,481 702,471 652,476 622,481 602,466 597,436"/>
<polygon fill="#5396D2" points="1125,50 1140,30 1160,32 1155,58 1138,70"/>
<polygon fill="#5396D2" points="1590,250 1605,215 1635,210 1640,245 1620,275 1600,270"/>
<polygon fill="#5396D2" points="1300,250 1325,215 1350,210 1330,240"/>
<polygon fill="#5396D2" points="1700,215 1720,200 1745,210 1730,232 1708,228"/>
<polygon fill="#5396D2" points="1690,450 1715,410 1745,380 1765,362 1760,388 1730,425 1705,460"/>
<polygon fill="#4DA584" points="1132,48 1142,35 1155,38 1150,55"/>
<polygon fill="#4DA584" points="1705,212 1720,205 1735,212 1720,225"/>
<polygon fill="#4DA584" points="1700,440 1715,415 1725,425 1710,450"/>
<polygon fill="#4DA584" points="1750,370 1762,360 1765,380"/>
<polygon fill="#6DC34B" points="1710,430 1716,420 1722,428 1714,440"/>
<polygon fill="#6DC34B" points="1712,212 1720,208 1728,213 1720,219"/>
<defs><polygon id="m109" points="481,75 494,40 502,0 517,0 512,50 502,80 494,105 484,100"/><polygon id="m110" points="486,108 502,100 509,118 494,123"/><ellipse id="m111" cx="212" cy="145" rx="4" ry="3"/><ellipse id="m112" cx="206" cy="78" rx="10" ry="4"/><polygon id="m113" points="281,166 296,158 308,168 296,176"/><polygon id="m114" points="251,201 258,188 263,201 258,216 251,216"/><polygon id="m115" points="236,221 241,196 261,176 281,181 271,201 261,226 246,241"/><polygon id="m116" points="366,166 381,159 394,168 379,173"/><polygon id="m117" points="371,186 381,176 376,193"/><polygon id="m118" points="318,251 326,231 339,256 341,281 326,286 318,271"/><polygon id="m119" points="323,266 329,261 331,276 325,278"/><polygon id="m120" points="364,311 376,301 396,321 401,346 386,371 366,381 346,369 361,356 371,341 366,326"/><polygon id="m121" points="369,318 379,313 384,326 374,331"/><polygon id="m122" points="436,306 451,296 464,306 461,326 449,334 439,321"/><polygon id="m123" points="491,281 504,266 518,281 504,296"/><polygon id="m124" points="532,271 557,261 582,256 572,271 552,286 532,288"/><polygon id="m125" points="544,321 562,318 567,326 549,329"/><polygon id="m126" points="273,344 281,334 290,344 281,354"/><polygon id="m127" points="359,522 369,512 379,524 370,539"/><polygon id="m128" points="346,507 361,494 381,507 394,527 381,547 369,557 351,537"/><polygon id="m129" points="374,577 391,587 399,597 386,599 374,609 369,597"/><polygon id="m130" points="609,456 619,449 634,457 619,464"/><polygon id="m131" points="607,461 617,441 652,439 682,446 697,454 672,461 642,469 617,474"/><polygon id="m132" points="633,522 639,502 652,512 662,532 682,547 672,552 652,539 639,537"/><ellipse id="m133" cx="641" cy="522" rx="4" ry="4"/><polygon id="m134" points="230,230 240,190 265,150 300,140 330,165 370,140 405,145 420,170 385,205 340,215 300,190 265,215 245,250"/><polygon id="m135" points="305,230 325,215 345,245 355,285 330,290 310,265"/><polygon id="m136" points="475,100 485,55 510,40 515,90 500,125 480,125"/><polygon id="m137" points="430,310 450,290 468,315 450,335"/><polygon id="m138" points="365,305 385,300 395,330 375,345"/></defs>
<use href="#m109" fill="#86C5EB" stroke="#86C5EB" stroke-width="62" stroke-linejoin="round"/>
<use href="#m110" fill="#86C5EB" stroke="#86C5EB" stroke-width="54" stroke-linejoin="round"/>
<use href="#m111" fill="#86C5EB" stroke="#86C5EB" stroke-width="62" stroke-linejoin="round"/>
<use href="#m112" fill="#86C5EB" stroke="#86C5EB" stroke-width="45" stroke-linejoin="round"/>
<use href="#m113" fill="#86C5EB" stroke="#86C5EB" stroke-width="62" stroke-linejoin="round"/>
<use href="#m114" fill="#86C5EB" stroke="#86C5EB" stroke-width="62" stroke-linejoin="round"/>
<use href="#m115" fill="#86C5EB" stroke="#86C5EB" stroke-width="54" stroke-linejoin="round"/>
<use href="#m116" fill="#86C5EB" stroke="#86C5EB" stroke-width="58" stroke-linejoin="round"/>
<use href="#m117" fill="#86C5EB" stroke="#86C5EB" stroke-width="39" stroke-linejoin="round"/>
<use href="#m118" fill="#86C5EB" stroke="#86C5EB" stroke-width="58" stroke-linejoin="round"/>
<use href="#m119" fill="#86C5EB" stroke="#86C5EB" stroke-width="51.7" stroke-linejoin="round"/>
<use href="#m120" fill="#86C5EB" stroke="#86C5EB" stroke-width="45" stroke-linejoin="round"/>
<use href="#m121" fill="#86C5EB" stroke="#86C5EB" stroke-width="41.7" stroke-linejoin="round"/>
<use href="#m122" fill="#86C5EB" stroke="#86C5EB" stroke-width="45" stroke-linejoin="round"/>
<use href="#m123" fill="#86C5EB" stroke="#86C5EB" stroke-width="51.7" stroke-linejoin="round"/>
<use href="#m124" fill="#86C5EB" stroke="#86C5EB" stroke-width="32" stroke-linejoin="round"/>
<use href="#m125" fill="#86C5EB" stroke="#86C5EB" stroke-width="32" stroke-linejoin="round"/>
<use href="#m126" fill="#86C5EB" stroke="#86C5EB" stroke-width="32.5" stroke-linejoin="round"/>
<use href="#m127" fill="#86C5EB" stroke="#86C5EB" stroke-width="50" stroke-linejoin="round"/>
<use href="#m128" fill="#86C5EB" stroke="#86C5EB" stroke-width="45" stroke-linejoin="round"/>
<use href="#m129" fill="#86C5EB" stroke="#86C5EB" stroke-width="32" stroke-linejoin="round"/>
<use href="#m130" fill="#86C5EB" stroke="#86C5EB" stroke-width="45" stroke-linejoin="round"/>
<use href="#m131" fill="#86C5EB" stroke="#86C5EB" stroke-width="32" stroke-linejoin="round"/>
<use href="#m132" fill="#86C5EB" stroke="#86C5EB" stroke-width="32" stroke-linejoin="round"/>
<use href="#m133" fill="#86C5EB" stroke="#86C5EB" stroke-width="26" stroke-linejoin="round"/>
<use href="#m134" fill="#86C5EB" stroke="#86C5EB" stroke-width="62" stroke-linejoin="round"/>
<use href="#m135" fill="#86C5EB" stroke="#86C5EB" stroke-width="62" stroke-linejoin="round"/>
<use href="#m136" fill="#86C5EB" stroke="#86C5EB" stroke-width="62" stroke-linejoin="round"/>
<use href="#m137" fill="#86C5EB" stroke="#86C5EB" stroke-width="50" stroke-linejoin="round"/>
<use href="#m138" fill="#86C5EB" stroke="#86C5EB" stroke-width="50" stroke-linejoin="round"/>
<use href="#m109" fill="#5396D2" stroke="#5396D2" stroke-width="48" stroke-linejoin="round"/>
<use href="#m110" fill="#5396D2" stroke="#5396D2" stroke-width="40" stroke-linejoin="round"/>
<use href="#m111" fill="#5396D2" stroke="#5396D2" stroke-width="48" stroke-linejoin="round"/>
<use href="#m112" fill="#5396D2" stroke="#5396D2" stroke-width="31" stroke-linejoin="round"/>
<use href="#m113" fill="#5396D2" stroke="#5396D2" stroke-width="48" stroke-linejoin="round"/>
<use href="#m114" fill="#5396D2" stroke="#5396D2" stroke-width="48" stroke-linejoin="round"/>
<use href="#m115" fill="#5396D2" stroke="#5396D2" stroke-width="40" stroke-linejoin="round"/>
<use href="#m116" fill="#5396D2" stroke="#5396D2" stroke-width="44" stroke-linejoin="round"/>
<use href="#m117" fill="#5396D2" stroke="#5396D2" stroke-width="25" stroke-linejoin="round"/>
<use href="#m118" fill="#5396D2" stroke="#5396D2" stroke-width="44" stroke-linejoin="round"/>
<use href="#m119" fill="#5396D2" stroke="#5396D2" stroke-width="40" stroke-linejoin="round"/>
<use href="#m120" fill="#5396D2" stroke="#5396D2" stroke-width="31" stroke-linejoin="round"/>
<use href="#m121" fill="#5396D2" stroke="#5396D2" stroke-width="30" stroke-linejoin="round"/>
<use href="#m122" fill="#5396D2" stroke="#5396D2" stroke-width="31" stroke-linejoin="round"/>
<use href="#m123" fill="#5396D2" stroke="#5396D2" stroke-width="40" stroke-linejoin="round"/>
<use href="#m124" fill="#5396D2" stroke="#5396D2" stroke-width="18" stroke-linejoin="round"/>
<use href="#m125" fill="#5396D2" stroke="#5396D2" stroke-width="18" stroke-linejoin="round"/>
<use href="#m126" fill="#5396D2" stroke="#5396D2" stroke-width="20.8" stroke-linejoin="round"/>
<use href="#m127" fill="#5396D2" stroke="#5396D2" stroke-width="36" stroke-linejoin="round"/>
<use href="#m128" fill="#5396D2" stroke="#5396D2" stroke-width="31" stroke-linejoin="round"/>
<use href="#m129" fill="#5396D2" stroke="#5396D2" stroke-width="18" stroke-linejoin="round"/>
<use href="#m130" fill="#5396D2" stroke="#5396D2" stroke-width="33.3" stroke-linejoin="round"/>
<use href="#m131" fill="#5396D2" stroke="#5396D2" stroke-width="18" stroke-linejoin="round"/>
<use href="#m132" fill="#5396D2" stroke="#5396D2" stroke-width="18" stroke-linejoin="round"/>
<use href="#m133" fill="#5396D2" stroke="#5396D2" stroke-width="16.7" stroke-linejoin="round"/>
<use href="#m134" fill="#5396D2" stroke="#5396D2" stroke-width="48" stroke-linejoin="round"/>
<use href="#m135" fill="#5396D2" stroke="#5396D2" stroke-width="48" stroke-linejoin="round"/>
<use href="#m136" fill="#5396D2" stroke="#5396D2" stroke-width="48" stroke-linejoin="round"/>
<use href="#m137" fill="#5396D2" stroke="#5396D2" stroke-width="36" stroke-linejoin="round"/>
<use href="#m138" fill="#5396D2" stroke="#5396D2" stroke-width="36" stroke-linejoin="round"/>
<use href="#m109" fill="#4DA584" stroke="#4DA584" stroke-width="38" stroke-linejoin="round"/>
<use href="#m110" fill="#4DA584" stroke="#4DA584" stroke-width="30" stroke-linejoin="round"/>
<use href="#m111" fill="#4DA584" stroke="#4DA584" stroke-width="38" stroke-linejoin="round"/>
<use href="#m112" fill="#4DA584" stroke="#4DA584" stroke-width="21" stroke-linejoin="round"/>
<use href="#m113" fill="#4DA584" stroke="#4DA584" stroke-width="38" stroke-linejoin="round"/>
<use href="#m114" fill="#4DA584" stroke="#4DA584" stroke-width="38" stroke-linejoin="round"/>
<use href="#m115" fill="#4DA584" stroke="#4DA584" stroke-width="30" stroke-linejoin="round"/>
<use href="#m116" fill="#4DA584" stroke="#4DA584" stroke-width="34" stroke-linejoin="round"/>
<use href="#m117" fill="#4DA584" stroke="#4DA584" stroke-width="15" stroke-linejoin="round"/>
<use href="#m118" fill="#4DA584" stroke="#4DA584" stroke-width="34" stroke-linejoin="round"/>
<use href="#m119" fill="#4DA584" stroke="#4DA584" stroke-width="31.7" stroke-linejoin="round"/>
<use href="#m120" fill="#4DA584" stroke="#4DA584" stroke-width="21" stroke-linejoin="round"/>
<use href="#m121" fill="#4DA584" stroke="#4DA584" stroke-width="21.7" stroke-linejoin="round"/>
<use href="#m122" fill="#4DA584" stroke="#4DA584" stroke-width="21" stroke-linejoin="round"/>
<use href="#m123" fill="#4DA584" stroke="#4DA584" stroke-width="31.7" stroke-linejoin="round"/>
<use href="#m124" fill="#4DA584" stroke="#4DA584" stroke-width="8" stroke-linejoin="round"/>
<use href="#m125" fill="#4DA584" stroke="#4DA584" stroke-width="8" stroke-linejoin="round"/>
<use href="#m126" fill="#4DA584" stroke="#4DA584" stroke-width="12.5" stroke-linejoin="round"/>
<use href="#m127" fill="#4DA584" stroke="#4DA584" stroke-width="26" stroke-linejoin="round"/>
<use href="#m128" fill="#4DA584" stroke="#4DA584" stroke-width="21" stroke-linejoin="round"/>
<use href="#m129" fill="#4DA584" stroke="#4DA584" stroke-width="8" stroke-linejoin="round"/>
<use href="#m130" fill="#4DA584" stroke="#4DA584" stroke-width="25" stroke-linejoin="round"/>
<use href="#m131" fill="#4DA584" stroke="#4DA584" stroke-width="8" stroke-linejoin="round"/>
<use href="#m132" fill="#4DA584" stroke="#4DA584" stroke-width="8" stroke-linejoin="round"/>
<use href="#m133" fill="#4DA584" stroke="#4DA584" stroke-width="10" stroke-linejoin="round"/>
<use href="#m134" fill="#4DA584" stroke="#4DA584" stroke-width="38" stroke-linejoin="round"/>
<use href="#m135" fill="#4DA584" stroke="#4DA584" stroke-width="38" stroke-linejoin="round"/>
<use href="#m136" fill="#4DA584" stroke="#4DA584" stroke-width="38" stroke-linejoin="round"/>
<use href="#m137" fill="#4DA584" stroke="#4DA584" stroke-width="26" stroke-linejoin="round"/>
<use href="#m138" fill="#4DA584" stroke="#4DA584" stroke-width="26" stroke-linejoin="round"/>
<use href="#m109" fill="#6DC34B" stroke="#6DC34B" stroke-width="30" stroke-linejoin="round"/>
<use href="#m110" fill="#6DC34B" stroke="#6DC34B" stroke-width="22" stroke-linejoin="round"/>
<use href="#m111" fill="#6DC34B" stroke="#6DC34B" stroke-width="30" stroke-linejoin="round"/>
<use href="#m112" fill="#6DC34B" stroke="#6DC34B" stroke-width="13" stroke-linejoin="round"/>
<use href="#m113" fill="#6DC34B" stroke="#6DC34B" stroke-width="30" stroke-linejoin="round"/>
<use href="#m114" fill="#6DC34B" stroke="#6DC34B" stroke-width="30" stroke-linejoin="round"/>
<use href="#m115" fill="#6DC34B" stroke="#6DC34B" stroke-width="22" stroke-linejoin="round"/>
<use href="#m116" fill="#6DC34B" stroke="#6DC34B" stroke-width="26" stroke-linejoin="round"/>
<use href="#m117" fill="#6DC34B" stroke="#6DC34B" stroke-width="7" stroke-linejoin="round"/>
<use href="#m118" fill="#6DC34B" stroke="#6DC34B" stroke-width="26" stroke-linejoin="round"/>
<use href="#m119" fill="#6DC34B" stroke="#6DC34B" stroke-width="25" stroke-linejoin="round"/>
<use href="#m120" fill="#6DC34B" stroke="#6DC34B" stroke-width="13" stroke-linejoin="round"/>
<use href="#m121" fill="#6DC34B" stroke="#6DC34B" stroke-width="15" stroke-linejoin="round"/>
<use href="#m122" fill="#6DC34B" stroke="#6DC34B" stroke-width="13" stroke-linejoin="round"/>
<use href="#m123" fill="#6DC34B" stroke="#6DC34B" stroke-width="25" stroke-linejoin="round"/>
<use href="#m124" fill="#6DC34B"/>
<use href="#m125" fill="#6DC34B"/>
<use href="#m126" fill="#6DC34B" stroke="#6DC34B" stroke-width="5.8" stroke-linejoin="round"/>
<use href="#m127" fill="#6DC34B" stroke="#6DC34B" stroke-width="18" stroke-linejoin="round"/>
<use href="#m128" fill="#6DC34B" stroke="#6DC34B" stroke-width="13" stroke-linejoin="round"/>
<use href="#m129" fill="#6DC34B"/>
<use href="#m130" fill="#6DC34B" stroke="#6DC34B" stroke-width="18.3" stroke-linejoin="round"/>
<use href="#m131" fill="#6DC34B"/>
<use href="#m132" fill="#6DC34B"/>
<use href="#m133" fill="#6DC34B" stroke="#6DC34B" stroke-width="4.7" stroke-linejoin="round"/>
<use href="#m134" fill="#6DC34B" stroke="#6DC34B" stroke-width="30" stroke-linejoin="round"/>
<use href="#m135" fill="#6DC34B" stroke="#6DC34B" stroke-width="30" stroke-linejoin="round"/>
<use href="#m136" fill="#6DC34B" stroke="#6DC34B" stroke-width="30" stroke-linejoin="round"/>
<use href="#m137" fill="#6DC34B" stroke="#6DC34B" stroke-width="18" stroke-linejoin="round"/>
<use href="#m138" fill="#6DC34B" stroke="#6DC34B" stroke-width="18" stroke-linejoin="round"/>
<use href="#m109" fill="#D9E15A" stroke="#D9E15A" stroke-width="23" stroke-linejoin="round"/>
<use href="#m110" fill="#D9E15A" stroke="#D9E15A" stroke-width="15" stroke-linejoin="round"/>
<use href="#m111" fill="#D9E15A" stroke="#D9E15A" stroke-width="23" stroke-linejoin="round"/>
<use href="#m112" fill="#D9E15A" stroke="#D9E15A" stroke-width="6" stroke-linejoin="round"/>
<use href="#m113" fill="#D9E15A" stroke="#D9E15A" stroke-width="23" stroke-linejoin="round"/>
<use href="#m114" fill="#D9E15A" stroke="#D9E15A" stroke-width="23" stroke-linejoin="round"/>
<use href="#m115" fill="#D9E15A" stroke="#D9E15A" stroke-width="15" stroke-linejoin="round"/>
<use href="#m116" fill="#D9E15A" stroke="#D9E15A" stroke-width="19" stroke-linejoin="round"/>
<use href="#m117" fill="#D9E15A"/>
<use href="#m118" fill="#D9E15A" stroke="#D9E15A" stroke-width="19" stroke-linejoin="round"/>
<use href="#m119" fill="#D9E15A" stroke="#D9E15A" stroke-width="19.2" stroke-linejoin="round"/>
<use href="#m120" fill="#D9E15A" stroke="#D9E15A" stroke-width="6" stroke-linejoin="round"/>
<use href="#m121" fill="#D9E15A" stroke="#D9E15A" stroke-width="9.2" stroke-linejoin="round"/>
<use href="#m122" fill="#D9E15A" stroke="#D9E15A" stroke-width="6" stroke-linejoin="round"/>
<use href="#m123" fill="#D9E15A" stroke="#D9E15A" stroke-width="19.2" stroke-linejoin="round"/>
<use href="#m126" fill="#D9E15A"/>
<use href="#m127" fill="#D9E15A" stroke="#D9E15A" stroke-width="11" stroke-linejoin="round"/>
<use href="#m128" fill="#D9E15A" stroke="#D9E15A" stroke-width="6" stroke-linejoin="round"/>
<use href="#m130" fill="#D9E15A" stroke="#D9E15A" stroke-width="12.5" stroke-linejoin="round"/>
<use href="#m133" fill="#D9E15A"/>
<use href="#m134" fill="#D9E15A" stroke="#D9E15A" stroke-width="23" stroke-linejoin="round"/>
<use href="#m135" fill="#D9E15A" stroke="#D9E15A" stroke-width="23" stroke-linejoin="round"/>
<use href="#m136" fill="#D9E15A" stroke="#D9E15A" stroke-width="23" stroke-linejoin="round"/>
<use href="#m137" fill="#D9E15A" stroke="#D9E15A" stroke-width="11" stroke-linejoin="round"/>
<use href="#m138" fill="#D9E15A" stroke="#D9E15A" stroke-width="11" stroke-linejoin="round"/>
<use href="#m109" fill="#F8B448" stroke="#F8B448" stroke-width="17" stroke-linejoin="round"/>
<use href="#m110" fill="#F8B448" stroke="#F8B448" stroke-width="9" stroke-linejoin="round"/>
<use href="#m111" fill="#F8B448" stroke="#F8B448" stroke-width="17" stroke-linejoin="round"/>
<use href="#m112" fill="#F8B448"/>
<use href="#m113" fill="#F8B448" stroke="#F8B448" stroke-width="17" stroke-linejoin="round"/>
<use href="#m114" fill="#F8B448" stroke="#F8B448" stroke-width="17" stroke-linejoin="round"/>
<use href="#m115" fill="#F8B448" stroke="#F8B448" stroke-width="9" stroke-linejoin="round"/>
<use href="#m116" fill="#F8B448" stroke="#F8B448" stroke-width="13" stroke-linejoin="round"/>
<use href="#m118" fill="#F8B448" stroke="#F8B448" stroke-width="13" stroke-linejoin="round"/>
<use href="#m119" fill="#F8B448" stroke="#F8B448" stroke-width="14.2" stroke-linejoin="round"/>
<use href="#m120" fill="#F8B448"/>
<use href="#m121" fill="#F8B448" stroke="#F8B448" stroke-width="4.2" stroke-linejoin="round"/>
<use href="#m122" fill="#F8B448"/>
<use href="#m123" fill="#F8B448" stroke="#F8B448" stroke-width="14.2" stroke-linejoin="round"/>
<use href="#m127" fill="#F8B448" stroke="#F8B448" stroke-width="5" stroke-linejoin="round"/>
<use href="#m128" fill="#F8B448"/>
<use href="#m130" fill="#F8B448" stroke="#F8B448" stroke-width="7.5" stroke-linejoin="round"/>
<use href="#m134" fill="#F8B448" stroke="#F8B448" stroke-width="17" stroke-linejoin="round"/>
<use href="#m135" fill="#F8B448" stroke="#F8B448" stroke-width="17" stroke-linejoin="round"/>
<use href="#m136" fill="#F8B448" stroke="#F8B448" stroke-width="17" stroke-linejoin="round"/>
<use href="#m137" fill="#F8B448" stroke="#F8B448" stroke-width="5" stroke-linejoin="round"/>
<use href="#m138" fill="#F8B448" stroke="#F8B448" stroke-width="5" stroke-linejoin="round"/>
<use href="#m109" fill="#F4672D" stroke="#F4672D" stroke-width="12" stroke-linejoin="round"/>
<use href="#m110" fill="#F4672D" stroke="#F4672D" stroke-width="4" stroke-linejoin="round"/>
<use href="#m111" fill="#F4672D" stroke="#F4672D" stroke-width="12" stroke-linejoin="round"/>
<use href="#m113" fill="#F4672D" stroke="#F4672D" stroke-width="12" stroke-linejoin="round"/>
<use href="#m114" fill="#F4672D" stroke="#F4672D" stroke-width="12" stroke-linejoin="round"/>
<use href="#m115" fill="#F4672D" stroke="#F4672D" stroke-width="4" stroke-linejoin="round"/>
<use href="#m116" fill="#F4672D" stroke="#F4672D" stroke-width="8" stroke-linejoin="round"/>
<use href="#m118" fill="#F4672D" stroke="#F4672D" stroke-width="8" stroke-linejoin="round"/>
<use href="#m119" fill="#F4672D" stroke="#F4672D" stroke-width="10" stroke-linejoin="round"/>
<use href="#m121" fill="#F4672D"/>
<use href="#m123" fill="#F4672D" stroke="#F4672D" stroke-width="10" stroke-linejoin="round"/>
<use href="#m127" fill="#F4672D"/>
<use href="#m130" fill="#F4672D" stroke="#F4672D" stroke-width="3.3" stroke-linejoin="round"/>
<use href="#m134" fill="#F4672D" stroke="#F4672D" stroke-width="12" stroke-linejoin="round"/>
<use href="#m135" fill="#F4672D" stroke="#F4672D" stroke-width="12" stroke-linejoin="round"/>
<use href="#m136" fill="#F4672D" stroke="#F4672D" stroke-width="12" stroke-linejoin="round"/>
<use href="#m137" fill="#F4672D"/>
<use href="#m138" fill="#F4672D"/>
<use href="#m109" fill="#DF3729" stroke="#DF3729" stroke-width="8" stroke-linejoin="round"/>
<use href="#m110" fill="#DF3729"/>
<use href="#m111" fill="#DF3729" stroke="#DF3729" stroke-width="8" stroke-linejoin="round"/>
<use href="#m113" fill="#DF3729" stroke="#DF3729" stroke-width="8" stroke-linejoin="round"/>
<use href="#m114" fill="#DF3729" stroke="#DF3729" stroke-width="8" stroke-linejoin="round"/>
<use href="#m115" fill="#DF3729"/>
<use href="#m116" fill="#DF3729" stroke="#DF3729" stroke-width="4" stroke-linejoin="round"/>
<use href="#m118" fill="#DF3729" stroke="#DF3729" stroke-width="4" stroke-linejoin="round"/>
<use href="#m119" fill="#DF3729" stroke="#DF3729" stroke-width="6.7" stroke-linejoin="round"/>
<use href="#m123" fill="#DF3729" stroke="#DF3729" stroke-width="6.7" stroke-linejoin="round"/>
<use href="#m130" fill="#DF3729"/>
<use href="#m134" fill="#DF3729" stroke="#DF3729" stroke-width="8" stroke-linejoin="round"/>
<use href="#m135" fill="#DF3729" stroke="#DF3729" stroke-width="8" stroke-linejoin="round"/>
<use href="#m136" fill="#DF3729" stroke="#DF3729" stroke-width="8" stroke-linejoin="round"/>
<use href="#m109" fill="#B81D26" stroke="#B81D26" stroke-width="4" stroke-linejoin="round"/>
<use href="#m111" fill="#B81D26" stroke="#B81D26" stroke-width="4" stroke-linejoin="round"/>
<use href="#m113" fill="#B81D26" stroke="#B81D26" stroke-width="4" stroke-linejoin="round"/>
<use href="#m114" fill="#B81D26" stroke="#B81D26" stroke-width="4" stroke-linejoin="round"/>
<use href="#m116" fill="#B81D26"/>
<use href="#m118" fill="#B81D26"/>
<use href="#m119" fill="#B81D26" stroke="#B81D26" stroke-width="3.3" stroke-linejoin="round"/>
<use href="#m123" fill="#B81D26" stroke="#B81D26" stroke-width="3.3" stroke-linejoin="round"/>
<use href="#m134" fill="#B81D26" stroke="#B81D26" stroke-width="4" stroke-linejoin="round"/>
<use href="#m135" fill="#B81D26" stroke="#B81D26" stroke-width="4" stroke-linejoin="round"/>
<use href="#m136" fill="#B81D26" stroke="#B81D26" stroke-width="4" stroke-linejoin="round"/>
<use href="#m109" fill="#8B181D"/>
<use href="#m111" fill="#8B181D"/>
<use href="#m113" fill="#8B181D"/>
<use href="#m114" fill="#8B181D"/>
<use href="#m119" fill="#8B181D"/>
<use href="#m123" fill="#8B181D"/>
<use href="#m134" fill="#8B181D"/>
<use href="#m135" fill="#8B181D"/>
<use href="#m136" fill="#8B181D"/>
</g></g>
</g>
<use href="#base"/>
<rect x="8.4" y="254.1" width="68.6" height="64.2" fill="#fff" stroke="#000" stroke-width="2.2"/>
<text class="l" x="42.7" y="297.5" text-anchor="middle">m)</text>
<text class="t" transform="translate(163.5 -16.6) scale(.965 1)" text-anchor="middle">CAL-ADAPT CNRM 0.125<tspan class="s" dy="-14.4">o</tspan><tspan dy="14.4"></tspan></text>
</g>
<g transform="translate(986.9 1387.9)">
<g clip-path="url(#cp)">
<g clip-path="url(#lc)"><g transform="translate(0.10 0.10) scale(0.18278)">
<polygon fill="#C5E8FA" points="100,0 140,180 150,190 160,250 200,320 215,380 185,410 130,470 145,490 200,510 200,540 230,600 250,620 300,660 340,700 380,740 440,800 465,760 490,740 470,690 445,640 430,600 440,560 430,520 450,470 470,440 510,430 530,460 540,510 587,558 637,598 677,648 698,683 738,739 758,779 788,829 808,879 828,914 858,954 898,989 938,1019 973,1055 998,1080 1024,1090 1029,1120 1049,1140 1079,1165 1084,1200 1099,1225 1114,1270 1114,1330 1130,1370 1110,1400 1050,1430 1000,1430 960,1440 930,1420 900,1430 890,1460 910,1490 950,1500 1000,1510 1080,1510 1150,1505 1200,1540 1250,1560 1330,1570 1400,1580 1450,1640 1470,1700 1500,1760 1520,1789 1560,1789 1560,1700 1530,1650 1510,1620 1530,1560 1500,1530 1440,1510 1400,1515 1340,1480 1270,1470 1200,1460 1180,1440 1230,1400 1250,1360 1280,1300 1290,1270 1330,1280 1370,1260 1380,1210 1375,1120 1380,1090 1430,1110 1500,1100 1560,1110 1600,1060 1620,1090 1680,1110 1740,1100 1789,1080 1789,0"/>
<polygon fill="#C5E8FA" points="1600,1150 1650,1130 1700,1150 1740,1190 1760,1250 1720,1270 1680,1250 1640,1230 1610,1190"/>
<polygon fill="#C5E8FA" points="1470,1200 1490,1170 1520,1200 1510,1250 1480,1240"/>
<polygon fill="#C5E8FA" points="1390,1180 1430,1190 1440,1250 1420,1280 1390,1260"/>
<polygon fill="#C5E8FA" points="1610,1290 1630,1280 1640,1310 1620,1315"/>
<polygon fill="#C5E8FA" points="1680,1330 1720,1330 1750,1370 1740,1420 1700,1400"/>
<polygon fill="#C5E8FA" points="580,980 610,960 645,985 635,1025 600,1030"/>
<polygon fill="#C5E8FA" points="515,1035 530,1030 540,1045 525,1050"/>
<polygon fill="#C5E8FA" points="560,1180 610,1170 650,1200 670,1230 650,1250 600,1230 565,1200"/>
<polygon fill="#C5E8FA" points="730,1170 760,1155 800,1170 830,1200 810,1230 830,1250 855,1265 830,1275 790,1250 760,1220 735,1195"/>
<polygon fill="#C5E8FA" points="695,1140 710,1130 720,1150 705,1158"/>
<polygon fill="#C5E8FA" points="895,1350 910,1345 945,1380 930,1390"/>
<polygon fill="#FFFFFF" points="1095,620 1130,565 1180,555 1185,590 1160,650 1130,680 1100,650"/>
<polygon fill="#FFFFFF" points="1190,730 1235,728 1250,750 1200,750"/>
<polygon fill="#FFFFFF" points="1640,810 1670,790 1660,820 1645,835"/>
<polygon fill="#FFFFFF" points="1330,855 1355,845 1350,860"/>
<polygon fill="#FFFFFF" points="1240,885 1260,875 1250,930"/>
<polygon fill="#86C5EB" points="181,75 191,30 216,33 221,60 246,100 226,130 236,150 211,166 181,145 196,115 186,90"/>
<polygon fill="#86C5EB" points="431,120 451,90 461,30 471,13 567,13 552,40 542,70 544,120 517,145 481,155 456,145"/>
<polygon fill="#86C5EB" points="617,45 632,15 672,15 672,35 647,55 627,55"/>
<polygon fill="#86C5EB" points="559,95 577,80 607,98 587,113 564,108"/>
<polygon fill="#86C5EB" points="707,50 722,15 782,15 823,50 853,75 883,125 853,115 823,100 772,133 752,110 737,85 717,75"/>
<polygon fill="#86C5EB" points="843,120 860,90 878,120 860,145"/>
<polygon fill="#86C5EB" points="848,166 863,150 878,166 863,201"/>
<polygon fill="#86C5EB" points="211,261 221,211 236,171 261,145 301,145 326,166 351,160 381,148 411,160 391,191 351,201 341,221 361,261 391,301 416,296 441,271 481,251 502,211 522,236 567,246 622,246 627,261 592,281 597,321 577,346 547,346 527,356 502,336 476,341 436,381 411,371 371,401 346,396 321,381 301,366 271,366 256,341 281,301 301,281 296,251 281,236 251,251 226,266"/>
<polygon fill="#86C5EB" points="226,401 236,376 261,401 301,401 321,386 351,401 361,416 321,431 311,446 351,471 396,502 421,547 411,567 416,612 371,622 356,607 361,567 326,552 316,517 321,481 291,481 251,481 261,451 246,431"/>
<polygon fill="#86C5EB" points="552,351 582,351 592,381 627,401 672,416 712,406 752,426 772,441 767,451 812,481 843,512 853,542 897,592 897,802 873,812 853,782 828,737 802,702 772,667 747,637 722,617 692,592 662,567 637,557 622,532 622,502 597,476 597,441 587,416 562,386"/>
<polygon fill="#86C5EB" points="833,231 843,226 853,256 868,296 863,346 853,301 843,271"/>
<polygon fill="#86C5EB" points="1019,789 1044,769 1064,789 1049,804 1029,799"/>
<polygon fill="#86C5EB" points="1355,744 1375,714 1390,744 1375,764"/>
<polygon fill="#86C5EB" points="1179,1240 1209,1230 1209,1270 1199,1290 1184,1270"/>
<polygon fill="#86C5EB" points="1115,55 1135,22 1170,25 1165,60 1140,85"/>
<polygon fill="#86C5EB" points="1430,40 1450,30 1475,55 1450,65"/>
<polygon fill="#86C5EB" points="1290,255 1320,205 1365,195 1370,225 1335,250 1310,285"/>
<polygon fill="#86C5EB" points="1540,280 1570,240 1590,200 1640,195 1700,200 1750,195 1760,235 1720,250 1670,270 1620,300 1580,320 1555,350"/>
<polygon fill="#86C5EB" points="1680,470 1700,410 1740,370 1775,345 1775,390 1745,430 1715,465 1695,515"/>
<polygon fill="#86C5EB" points="1185,190 1245,135 1225,165 1245,215 1215,190"/>
<polygon fill="#86C5EB" points="1355,745 1375,715 1390,745 1375,765"/>
<polygon fill="#86C5EB" points="1430,750 1445,735 1452,765 1440,775"/>
<polygon fill="#86C5EB" points="850,90 865,90 875,120 860,140"/>
<polygon fill="#86C5EB" points="845,155 865,150 880,170 860,185"/>
<polygon fill="#86C5EB" points="835,225 850,240 860,290 865,340 855,310 845,265"/>
<polygon fill="#86C5EB" points="1430,300 1450,290 1465,300 1445,312"/>
<polygon fill="#86C5EB" points="715,30 760,25 790,70 820,90 800,130 770,130 740,90 710,70"/>
<polygon fill="#86C5EB" points="555,90 580,80 605,100 585,112"/>
<polygon fill="#86C5EB" points="620,30 650,15 680,30 660,50 630,55"/>
<polygon fill="#86C5EB" points="617,498 848,498 853,543 868,588 918,628 928,663 963,734 998,769 1039,769 1064,794 1094,799 1109,779 1124,799 1139,824 1144,849 1124,864 1069,879 1054,904 1079,914 1104,899 1134,909 1144,929 1134,949 1114,959 1134,979 1154,1004 1179,1029 1194,1065 1199,1100 1214,1130 1224,1155 1234,1175 1229,1210 1209,1230 1209,1265 1199,1290 1184,1270 1179,1240 1149,1250 1134,1225 1114,1195 1104,1165 1094,1135 1079,1110 1054,1085 1034,1055 1024,1024 988,1019 958,989 938,959 918,929 893,899 878,869 848,839 843,804 828,774 833,754 808,734 783,703 773,668 743,638 713,613 677,588 642,563 622,533"/>
<polygon fill="#5396D2" points="622,498 698,498 713,523 738,543 783,528 813,548 818,578 848,598 873,593 908,623 918,658 958,739 963,779 988,794 1009,819 1029,849 1049,889 1054,924 1079,954 1119,979 1144,1009 1174,1040 1189,1075 1194,1110 1209,1140 1219,1170 1219,1200 1199,1220 1174,1225 1144,1230 1129,1205 1114,1175 1099,1145 1094,1120 1069,1090 1044,1060 1029,1019 993,1004 968,979 948,949 928,924 908,894 888,864 858,834 853,799 838,769 848,749 823,729 793,698 778,663 748,633 718,608 688,583 647,553 627,528"/>
<polygon fill="#5396D2" points="1099,799 1109,781 1124,804 1129,829 1114,844 1094,829"/>
<polygon fill="#5396D2" points="1096,924 1114,914 1134,924 1124,939 1104,937"/>
<polygon fill="#4DA584" points="627,503 647,498 667,518 693,548 708,568 758,543 783,538 793,553 773,573 798,583 843,613 873,608 898,628 908,663 918,739 948,749 983,784 1014,824 1029,854 1044,894 1054,929 1074,959 1114,984 1139,1014 1169,1045 1184,1080 1189,1115 1204,1145 1204,1190 1179,1205 1154,1225 1134,1200 1119,1170 1104,1140 1099,1120 1074,1085 1049,1055 1034,1019 998,999 973,974 953,944 938,919 913,889 898,859 868,834 858,799 853,779 863,749 833,724 803,693 783,658 758,633 723,603 703,583 683,563 652,543 632,523"/>
<polygon fill="#4DA584" points="632,508 647,503 662,523 688,548 683,558 652,533"/>
<polygon fill="#4DA584" points="733,583 763,558 778,543 788,553 768,573 798,588 838,618 853,638 868,663 873,688 878,739 908,744 928,764 948,779 978,799 1009,829 1024,859 1039,899 1049,934 1069,964 1109,989 1134,1019 1164,1050 1179,1085 1184,1120 1199,1150 1199,1175 1179,1195 1154,1220 1134,1195 1124,1165 1109,1135 1124,1115 1094,1100 1069,1075 1054,1050 1039,1014 1003,994 978,969 958,939 943,914 918,884 908,849 888,829 868,799 868,779 873,754 843,724 813,688 793,653 768,628 743,603"/>
<polygon fill="#6DC34B" points="637,513 645,513 647,525 637,525"/>
<polygon fill="#6DC34B" points="748,593 783,588 813,603 843,628 858,653 868,683 873,734 893,749 918,769 943,789 973,809 1003,839 1019,869 1034,904 1044,934 1059,964 1074,967 1104,994 1129,1024 1159,1055 1174,1090 1179,1125 1174,1140 1159,1120 1139,1095 1114,1075 1079,1065 1059,1045 1054,1019 1069,994 1049,969 1019,974 988,979 973,959 963,934 948,909 933,894 918,864 913,839 898,819 888,794 878,769 853,729 823,688 798,648 778,623 758,608"/>
<polygon fill="#6DC34B" points="1139,1175 1154,1152 1171,1175 1154,1197"/>
<polygon fill="#D9E15A" points="793,633 813,621 838,643 853,668 863,688 848,683 828,673 808,658"/>
<polygon fill="#D9E15A" points="856,724 863,719 866,731 858,734"/>
<polygon fill="#D9E15A" points="888,769 898,759 918,779 948,799 978,819 1003,849 1019,879 1029,909 1044,939 1049,954 1024,969 993,977 978,954 968,934 953,914 938,894 923,864 913,844 928,834 918,809 898,794"/>
<polygon fill="#D9E15A" points="1064,1040 1069,1004 1079,969 1094,974 1114,999 1134,1029 1159,1065 1174,1095 1177,1125 1166,1120 1154,1090 1129,1075 1099,1060 1079,1045"/>
<polygon fill="#D9E15A" points="1144,1175 1154,1160 1166,1175 1154,1190"/>
<polygon fill="#D9E15A" points="800,638 813,626 833,643 848,668 853,681 833,671 813,658"/>
<polygon fill="#D9E15A" points="898,769 908,769 933,794 963,814 993,839 1009,869 1019,899 1034,929 1041,949 1019,964 993,972 983,949 973,929 953,914 943,889 928,864 918,844 933,834 923,809"/>
<polygon fill="#D9E15A" points="1079,979 1086,972 1104,994 1119,1019 1131,1045 1124,1060 1104,1060 1096,1034 1094,1004"/>
<polygon fill="#F8B448" points="803,643 813,631 828,643 838,663 828,666 813,658"/>
<polygon fill="#F8B448" points="918,849 933,834 953,824 983,839 1001,859 1006,884 988,894 968,889 943,879 923,864"/>
<polygon fill="#F8B448" points="973,929 993,914 1019,914 1036,939 1029,959 1009,967 993,969 983,947"/>
<polygon fill="#F4672D" points="923,854 938,839 958,831 983,844 996,864 988,882 963,884 938,874"/>
<polygon fill="#DF3729" points="933,856 948,846 973,849 991,861 978,874 953,874"/>
<polygon fill="#5396D2" points="251,331 281,311 301,346 281,361 261,351"/>
<polygon fill="#5396D2" points="291,456 301,441 326,466 361,481 391,507 416,542 406,562 411,607 376,617 361,602 366,562 331,547 321,512 321,486"/>
<polygon fill="#5396D2" points="587,411 602,399 642,421 702,426 737,436 767,461 792,497 772,507 742,481 702,471 652,476 622,481 602,466 597,436"/>
<polygon fill="#5396D2" points="1125,50 1140,30 1160,32 1155,58 1138,70"/>
<polygon fill="#5396D2" points="1590,250 1605,215 1635,210 1640,245 1620,275 1600,270"/>
<polygon fill="#5396D2" points="1300,250 1325,215 1350,210 1330,240"/>
<polygon fill="#5396D2" points="1700,215 1720,200 1745,210 1730,232 1708,228"/>
<polygon fill="#5396D2" points="1690,450 1715,410 1745,380 1765,362 1760,388 1730,425 1705,460"/>
<polygon fill="#4DA584" points="1132,48 1142,35 1155,38 1150,55"/>
<polygon fill="#4DA584" points="1705,212 1720,205 1735,212 1720,225"/>
<polygon fill="#4DA584" points="1700,440 1715,415 1725,425 1710,450"/>
<polygon fill="#4DA584" points="1750,370 1762,360 1765,380"/>
<polygon fill="#6DC34B" points="1710,430 1716,420 1722,428 1714,440"/>
<polygon fill="#6DC34B" points="1712,212 1720,208 1728,213 1720,219"/>
<defs><polygon id="n139" points="481,75 494,40 502,0 517,0 512,50 502,80 494,105 484,100"/><polygon id="n140" points="486,108 502,100 509,118 494,123"/><ellipse id="n141" cx="212" cy="145" rx="4" ry="3"/><polygon id="n142" points="281,166 296,158 308,168 296,176"/><polygon id="n143" points="251,201 258,188 263,201 258,216 251,216"/><polygon id="n144" points="236,221 241,196 261,176 281,181 271,201 261,226 246,241"/><polygon id="n145" points="366,166 381,159 394,168 379,173"/><polygon id="n146" points="371,186 381,176 376,193"/><polygon id="n147" points="318,251 326,231 339,256 341,281 326,286 318,271"/><polygon id="n148" points="323,266 329,261 331,276 325,278"/><polygon id="n149" points="364,311 376,301 396,321 401,346 386,371 366,381 346,369 361,356 371,341 366,326"/><polygon id="n150" points="369,318 379,313 384,326 374,331"/><polygon id="n151" points="436,306 451,296 464,306 461,326 449,334 439,321"/><polygon id="n152" points="491,281 504,266 518,281 504,296"/><polygon id="n153" points="532,271 557,261 582,256 572,271 552,286 532,288"/><polygon id="n154" points="544,321 562,318 567,326 549,329"/><polygon id="n155" points="273,344 281,334 290,344 281,354"/><polygon id="n156" points="359,522 369,512 379,524 370,539"/><polygon id="n157" points="346,507 361,494 381,507 394,527 381,547 369,557 351,537"/><polygon id="n158" points="374,577 391,587 399,597 386,599 374,609 369,597"/><polygon id="n159" points="609,456 619,449 634,457 619,464"/><polygon id="n160" points="607,461 617,441 652,439 682,446 697,454 672,461 642,469 617,474"/><polygon id="n161" points="633,522 639,502 652,512 662,532 682,547 672,552 652,539 639,537"/><ellipse id="n162" cx="641" cy="522" rx="4" ry="4"/></defs>
<use href="#n139" fill="#86C5EB" stroke="#86C5EB" stroke-width="50" stroke-linejoin="round"/>
<use href="#n140" fill="#86C5EB" stroke="#86C5EB" stroke-width="39" stroke-linejoin="round"/>
<use href="#n141" fill="#86C5EB" stroke="#86C5EB" stroke-width="39" stroke-linejoin="round"/>
<use href="#n142" fill="#86C5EB" stroke="#86C5EB" stroke-width="39" stroke-linejoin="round"/>
<use href="#n143" fill="#86C5EB" stroke="#86C5EB" stroke-width="45" stroke-linejoin="round"/>
<use href="#n144" fill="#86C5EB" stroke="#86C5EB" stroke-width="24" stroke-linejoin="round"/>
<use href="#n145" fill="#86C5EB" stroke="#86C5EB" stroke-width="32" stroke-linejoin="round"/>
<use href="#n146" fill="#86C5EB" stroke="#86C5EB" stroke-width="24" stroke-linejoin="round"/>
<use href="#n147" fill="#86C5EB" stroke="#86C5EB" stroke-width="32" stroke-linejoin="round"/>
<use href="#n148" fill="#86C5EB" stroke="#86C5EB" stroke-width="32.5" stroke-linejoin="round"/>
<use href="#n149" fill="#86C5EB" stroke="#86C5EB" stroke-width="32" stroke-linejoin="round"/>
<use href="#n150" fill="#86C5EB" stroke="#86C5EB" stroke-width="32.5" stroke-linejoin="round"/>
<use href="#n151" fill="#86C5EB" stroke="#86C5EB" stroke-width="32" stroke-linejoin="round"/>
<use href="#n152" fill="#86C5EB" stroke="#86C5EB" stroke-width="48.3" stroke-linejoin="round"/>
<use href="#n153" fill="#86C5EB" stroke="#86C5EB" stroke-width="14" stroke-linejoin="round"/>
<use href="#n154" fill="#86C5EB" stroke="#86C5EB" stroke-width="14" stroke-linejoin="round"/>
<use href="#n155" fill="#86C5EB" stroke="#86C5EB" stroke-width="20" stroke-linejoin="round"/>
<use href="#n156" fill="#86C5EB" stroke="#86C5EB" stroke-width="39" stroke-linejoin="round"/>
<use href="#n157" fill="#86C5EB" stroke="#86C5EB" stroke-width="32" stroke-linejoin="round"/>
<use href="#n158" fill="#86C5EB" stroke="#86C5EB" stroke-width="14" stroke-linejoin="round"/>
<use href="#n159" fill="#86C5EB" stroke="#86C5EB" stroke-width="37.5" stroke-linejoin="round"/>
<use href="#n160" fill="#86C5EB" stroke="#86C5EB" stroke-width="14" stroke-linejoin="round"/>
<use href="#n161" fill="#86C5EB" stroke="#86C5EB" stroke-width="14" stroke-linejoin="round"/>
<use href="#n162" fill="#86C5EB" stroke="#86C5EB" stroke-width="16" stroke-linejoin="round"/>
<use href="#n139" fill="#5396D2" stroke="#5396D2" stroke-width="36" stroke-linejoin="round"/>
<use href="#n140" fill="#5396D2" stroke="#5396D2" stroke-width="25" stroke-linejoin="round"/>
<use href="#n141" fill="#5396D2" stroke="#5396D2" stroke-width="25" stroke-linejoin="round"/>
<use href="#n142" fill="#5396D2" stroke="#5396D2" stroke-width="25" stroke-linejoin="round"/>
<use href="#n143" fill="#5396D2" stroke="#5396D2" stroke-width="31" stroke-linejoin="round"/>
<use href="#n144" fill="#5396D2" stroke="#5396D2" stroke-width="10" stroke-linejoin="round"/>
<use href="#n145" fill="#5396D2" stroke="#5396D2" stroke-width="18" stroke-linejoin="round"/>
<use href="#n146" fill="#5396D2" stroke="#5396D2" stroke-width="10" stroke-linejoin="round"/>
<use href="#n147" fill="#5396D2" stroke="#5396D2" stroke-width="18" stroke-linejoin="round"/>
<use href="#n148" fill="#5396D2" stroke="#5396D2" stroke-width="20.8" stroke-linejoin="round"/>
<use href="#n149" fill="#5396D2" stroke="#5396D2" stroke-width="18" stroke-linejoin="round"/>
<use href="#n150" fill="#5396D2" stroke="#5396D2" stroke-width="20.8" stroke-linejoin="round"/>
<use href="#n151" fill="#5396D2" stroke="#5396D2" stroke-width="18" stroke-linejoin="round"/>
<use href="#n152" fill="#5396D2" stroke="#5396D2" stroke-width="36.7" stroke-linejoin="round"/>
<use href="#n153" fill="#5396D2"/>
<use href="#n154" fill="#5396D2"/>
<use href="#n155" fill="#5396D2" stroke="#5396D2" stroke-width="8.3" stroke-linejoin="round"/>
<use href="#n156" fill="#5396D2" stroke="#5396D2" stroke-width="25" stroke-linejoin="round"/>
<use href="#n157" fill="#5396D2" stroke="#5396D2" stroke-width="18" stroke-linejoin="round"/>
<use href="#n158" fill="#5396D2"/>
<use href="#n159" fill="#5396D2" stroke="#5396D2" stroke-width="25.8" stroke-linejoin="round"/>
<use href="#n160" fill="#5396D2"/>
<use href="#n161" fill="#5396D2"/>
<use href="#n162" fill="#5396D2" stroke="#5396D2" stroke-width="6.7" stroke-linejoin="round"/>
<use href="#n139" fill="#4DA584" stroke="#4DA584" stroke-width="26" stroke-linejoin="round"/>
<use href="#n140" fill="#4DA584" stroke="#4DA584" stroke-width="15" stroke-linejoin="round"/>
<use href="#n141" fill="#4DA584" stroke="#4DA584" stroke-width="15" stroke-linejoin="round"/>
<use href="#n142" fill="#4DA584" stroke="#4DA584" stroke-width="15" stroke-linejoin="round"/>
<use href="#n143" fill="#4DA584" stroke="#4DA584" stroke-width="21" stroke-linejoin="round"/>
<use href="#n144" fill="#4DA584"/>
<use href="#n145" fill="#4DA584" stroke="#4DA584" stroke-width="8" stroke-linejoin="round"/>
<use href="#n146" fill="#4DA584"/>
<use href="#n147" fill="#4DA584" stroke="#4DA584" stroke-width="8" stroke-linejoin="round"/>
<use href="#n148" fill="#4DA584" stroke="#4DA584" stroke-width="12.5" stroke-linejoin="round"/>
<use href="#n149" fill="#4DA584" stroke="#4DA584" stroke-width="8" stroke-linejoin="round"/>
<use href="#n150" fill="#4DA584" stroke="#4DA584" stroke-width="12.5" stroke-linejoin="round"/>
<use href="#n151" fill="#4DA584" stroke="#4DA584" stroke-width="8" stroke-linejoin="round"/>
<use href="#n152" fill="#4DA584" stroke="#4DA584" stroke-width="28.3" stroke-linejoin="round"/>
<use href="#n155" fill="#4DA584"/>
<use href="#n156" fill="#4DA584" stroke="#4DA584" stroke-width="15" stroke-linejoin="round"/>
<use href="#n157" fill="#4DA584" stroke="#4DA584" stroke-width="8" stroke-linejoin="round"/>
<use href="#n159" fill="#4DA584" stroke="#4DA584" stroke-width="17.5" stroke-linejoin="round"/>
<use href="#n162" fill="#4DA584"/>
<use href="#n139" fill="#6DC34B" stroke="#6DC34B" stroke-width="18" stroke-linejoin="round"/>
<use href="#n140" fill="#6DC34B" stroke="#6DC34B" stroke-width="7" stroke-linejoin="round"/>
<use href="#n141" fill="#6DC34B" stroke="#6DC34B" stroke-width="7" stroke-linejoin="round"/>
<use href="#n142" fill="#6DC34B" stroke="#6DC34B" stroke-width="7" stroke-linejoin="round"/>
<use href="#n143" fill="#6DC34B" stroke="#6DC34B" stroke-width="13" stroke-linejoin="round"/>
<use href="#n145" fill="#6DC34B"/>
<use href="#n147" fill="#6DC34B"/>
<use href="#n148" fill="#6DC34B" stroke="#6DC34B" stroke-width="5.8" stroke-linejoin="round"/>
<use href="#n149" fill="#6DC34B"/>
<use href="#n150" fill="#6DC34B" stroke="#6DC34B" stroke-width="5.8" stroke-linejoin="round"/>
<use href="#n151" fill="#6DC34B"/>
<use href="#n152" fill="#6DC34B" stroke="#6DC34B" stroke-width="21.7" stroke-linejoin="round"/>
<use href="#n156" fill="#6DC34B" stroke="#6DC34B" stroke-width="7" stroke-linejoin="round"/>
<use href="#n157" fill="#6DC34B"/>
<use href="#n159" fill="#6DC34B" stroke="#6DC34B" stroke-width="10.8" stroke-linejoin="round"/>
<use href="#n139" fill="#D9E15A" stroke="#D9E15A" stroke-width="11" stroke-linejoin="round"/>
<use href="#n140" fill="#D9E15A"/>
<use href="#n141" fill="#D9E15A"/>
<use href="#n142" fill="#D9E15A"/>
<use href="#n143" fill="#D9E15A" stroke="#D9E15A" stroke-width="6" stroke-linejoin="round"/>
<use href="#n148" fill="#D9E15A"/>
<use href="#n150" fill="#D9E15A"/>
<use href="#n152" fill="#D9E15A" stroke="#D9E15A" stroke-width="15.8" stroke-linejoin="round"/>
<use href="#n156" fill="#D9E15A"/>
<use href="#n159" fill="#D9E15A" stroke="#D9E15A" stroke-width="5" stroke-linejoin="round"/>
<use href="#n139" fill="#F8B448" stroke="#F8B448" stroke-width="5" stroke-linejoin="round"/>
<use href="#n143" fill="#F8B448"/>
<use href="#n152" fill="#F8B448" stroke="#F8B448" stroke-width="10.8" stroke-linejoin="round"/>
<use href="#n159" fill="#F8B448"/>
<use href="#n139" fill="#F4672D"/>
<use href="#n152" fill="#F4672D" stroke="#F4672D" stroke-width="6.7" stroke-linejoin="round"/>
<use href="#n152" fill="#DF3729" stroke="#DF3729" stroke-width="3.3" stroke-linejoin="round"/>
<use href="#n152" fill="#B81D26"/>
</g></g>
</g>
<use href="#base"/>
<rect x="8.4" y="254.1" width="57.6" height="64.2" fill="#fff" stroke="#000" stroke-width="2.2"/>
<text class="l" x="37.2" y="297.5" text-anchor="middle">n)</text>
<text class="t" transform="translate(163.5 -16.6) scale(.965 1)" text-anchor="middle">CAL-ADAPT GFDL 0.125<tspan class="s" dy="-14.4">o</tspan><tspan dy="14.4"></tspan></text>
</g>
<g transform="translate(1437.7 1387.9)">
<g clip-path="url(#cp)">
<g clip-path="url(#lc)"><g transform="translate(0.30 0.10) scale(0.18278)">
<polygon fill="#C5E8FA" points="100,0 140,180 150,190 160,250 200,320 215,380 185,410 130,470 145,490 200,510 200,540 230,600 250,620 300,660 340,700 380,740 440,800 465,760 490,740 470,690 445,640 430,600 440,560 430,520 450,470 470,440 510,430 530,460 540,510 587,558 637,598 677,648 698,683 738,739 758,779 788,829 808,879 828,914 858,954 898,989 938,1019 973,1055 998,1080 1024,1090 1029,1120 1049,1140 1079,1165 1084,1200 1099,1225 1114,1270 1114,1330 1130,1370 1110,1400 1050,1430 1000,1430 960,1440 930,1420 900,1430 890,1460 910,1490 950,1500 1000,1510 1080,1510 1150,1505 1200,1540 1250,1560 1330,1570 1400,1580 1450,1640 1470,1700 1500,1760 1520,1789 1560,1789 1560,1700 1530,1650 1510,1620 1530,1560 1500,1530 1440,1510 1400,1515 1340,1480 1270,1470 1200,1460 1180,1440 1230,1400 1250,1360 1280,1300 1290,1270 1330,1280 1370,1260 1380,1210 1375,1120 1380,1090 1430,1110 1500,1100 1560,1110 1600,1060 1620,1090 1680,1110 1740,1100 1789,1080 1789,0"/>
<polygon fill="#C5E8FA" points="1600,1150 1650,1130 1700,1150 1740,1190 1760,1250 1720,1270 1680,1250 1640,1230 1610,1190"/>
<polygon fill="#C5E8FA" points="1470,1200 1490,1170 1520,1200 1510,1250 1480,1240"/>
<polygon fill="#C5E8FA" points="1390,1180 1430,1190 1440,1250 1420,1280 1390,1260"/>
<polygon fill="#C5E8FA" points="1610,1290 1630,1280 1640,1310 1620,1315"/>
<polygon fill="#C5E8FA" points="1680,1330 1720,1330 1750,1370 1740,1420 1700,1400"/>
<polygon fill="#C5E8FA" points="580,980 610,960 645,985 635,1025 600,1030"/>
<polygon fill="#C5E8FA" points="515,1035 530,1030 540,1045 525,1050"/>
<polygon fill="#C5E8FA" points="560,1180 610,1170 650,1200 670,1230 650,1250 600,1230 565,1200"/>
<polygon fill="#C5E8FA" points="730,1170 760,1155 800,1170 830,1200 810,1230 830,1250 855,1265 830,1275 790,1250 760,1220 735,1195"/>
<polygon fill="#C5E8FA" points="695,1140 710,1130 720,1150 705,1158"/>
<polygon fill="#C5E8FA" points="895,1350 910,1345 945,1380 930,1390"/>
<polygon fill="#86C5EB" points="181,75 191,30 216,33 221,60 246,100 226,130 236,150 211,166 181,145 196,115 186,90"/>
<polygon fill="#86C5EB" points="431,120 451,90 461,30 471,13 567,13 552,40 542,70 544,120 517,145 481,155 456,145"/>
<polygon fill="#86C5EB" points="617,45 632,15 672,15 672,35 647,55 627,55"/>
<polygon fill="#86C5EB" points="559,95 577,80 607,98 587,113 564,108"/>
<polygon fill="#86C5EB" points="707,50 722,15 782,15 823,50 853,75 883,125 853,115 823,100 772,133 752,110 737,85 717,75"/>
<polygon fill="#86C5EB" points="843,120 860,90 878,120 860,145"/>
<polygon fill="#86C5EB" points="848,166 863,150 878,166 863,201"/>
<polygon fill="#86C5EB" points="211,261 221,211 236,171 261,145 301,145 326,166 351,160 381,148 411,160 391,191 351,201 341,221 361,261 391,301 416,296 441,271 481,251 502,211 522,236 567,246 622,246 627,261 592,281 597,321 577,346 547,346 527,356 502,336 476,341 436,381 411,371 371,401 346,396 321,381 301,366 271,366 256,341 281,301 301,281 296,251 281,236 251,251 226,266"/>
<polygon fill="#86C5EB" points="226,401 236,376 261,401 301,401 321,386 351,401 361,416 321,431 311,446 351,471 396,502 421,547 411,567 416,612 371,622 356,607 361,567 326,552 316,517 321,481 291,481 251,481 261,451 246,431"/>
<polygon fill="#86C5EB" points="552,351 582,351 592,381 627,401 672,416 712,406 752,426 772,441 767,451 812,481 843,512 853,542 897,592 897,802 873,812 853,782 828,737 802,702 772,667 747,637 722,617 692,592 662,567 637,557 622,532 622,502 597,476 597,441 587,416 562,386"/>
<polygon fill="#86C5EB" points="833,231 843,226 853,256 868,296 863,346 853,301 843,271"/>
<polygon fill="#86C5EB" points="1019,789 1044,769 1064,789 1049,804 1029,799"/>
<polygon fill="#86C5EB" points="1355,744 1375,714 1390,744 1375,764"/>
<polygon fill="#86C5EB" points="1179,1240 1209,1230 1209,1270 1199,1290 1184,1270"/>
<polygon fill="#86C5EB" points="1115,55 1135,22 1170,25 1165,60 1140,85"/>
<polygon fill="#86C5EB" points="1430,40 1450,30 1475,55 1450,65"/>
<polygon fill="#86C5EB" points="1290,255 1320,205 1365,195 1370,225 1335,250 1310,285"/>
<polygon fill="#86C5EB" points="1540,280 1570,240 1590,200 1640,195 1700,200 1750,195 1760,235 1720,250 1670,270 1620,300 1580,320 1555,350"/>
<polygon fill="#86C5EB" points="1680,470 1700,410 1740,370 1775,345 1775,390 1745,430 1715,465 1695,515"/>
<polygon fill="#86C5EB" points="1185,190 1245,135 1225,165 1245,215 1215,190"/>
<polygon fill="#86C5EB" points="1355,745 1375,715 1390,745 1375,765"/>
<polygon fill="#86C5EB" points="1430,750 1445,735 1452,765 1440,775"/>
<polygon fill="#86C5EB" points="850,90 865,90 875,120 860,140"/>
<polygon fill="#86C5EB" points="845,155 865,150 880,170 860,185"/>
<polygon fill="#86C5EB" points="835,225 850,240 860,290 865,340 855,310 845,265"/>
<polygon fill="#86C5EB" points="1430,300 1450,290 1465,300 1445,312"/>
<polygon fill="#86C5EB" points="715,30 760,25 790,70 820,90 800,130 770,130 740,90 710,70"/>
<polygon fill="#86C5EB" points="555,90 580,80 605,100 585,112"/>
<polygon fill="#86C5EB" points="620,30 650,15 680,30 660,50 630,55"/>
<polygon fill="#86C5EB" points="617,498 848,498 853,543 868,588 918,628 928,663 963,734 998,769 1039,769 1064,794 1094,799 1109,779 1124,799 1139,824 1144,849 1124,864 1069,879 1054,904 1079,914 1104,899 1134,909 1144,929 1134,949 1114,959 1134,979 1154,1004 1179,1029 1194,1065 1199,1100 1214,1130 1224,1155 1234,1175 1229,1210 1209,1230 1209,1265 1199,1290 1184,1270 1179,1240 1149,1250 1134,1225 1114,1195 1104,1165 1094,1135 1079,1110 1054,1085 1034,1055 1024,1024 988,1019 958,989 938,959 918,929 893,899 878,869 848,839 843,804 828,774 833,754 808,734 783,703 773,668 743,638 713,613 677,588 642,563 622,533"/>
<polygon fill="#5396D2" points="622,498 698,498 713,523 738,543 783,528 813,548 818,578 848,598 873,593 908,623 918,658 958,739 963,779 988,794 1009,819 1029,849 1049,889 1054,924 1079,954 1119,979 1144,1009 1174,1040 1189,1075 1194,1110 1209,1140 1219,1170 1219,1200 1199,1220 1174,1225 1144,1230 1129,1205 1114,1175 1099,1145 1094,1120 1069,1090 1044,1060 1029,1019 993,1004 968,979 948,949 928,924 908,894 888,864 858,834 853,799 838,769 848,749 823,729 793,698 778,663 748,633 718,608 688,583 647,553 627,528"/>
<polygon fill="#5396D2" points="1099,799 1109,781 1124,804 1129,829 1114,844 1094,829"/>
<polygon fill="#5396D2" points="1096,924 1114,914 1134,924 1124,939 1104,937"/>
<polygon fill="#4DA584" points="627,503 647,498 667,518 693,548 708,568 758,543 783,538 793,553 773,573 798,583 843,613 873,608 898,628 908,663 918,739 948,749 983,784 1014,824 1029,854 1044,894 1054,929 1074,959 1114,984 1139,1014 1169,1045 1184,1080 1189,1115 1204,1145 1204,1190 1179,1205 1154,1225 1134,1200 1119,1170 1104,1140 1099,1120 1074,1085 1049,1055 1034,1019 998,999 973,974 953,944 938,919 913,889 898,859 868,834 858,799 853,779 863,749 833,724 803,693 783,658 758,633 723,603 703,583 683,563 652,543 632,523"/>
<polygon fill="#6DC34B" points="632,508 647,503 662,523 688,548 683,558 652,533"/>
<polygon fill="#6DC34B" points="733,583 763,558 778,543 788,553 768,573 798,588 838,618 853,638 868,663 873,688 878,739 908,744 928,764 948,779 978,799 1009,829 1024,859 1039,899 1049,934 1069,964 1109,989 1134,1019 1164,1050 1179,1085 1184,1120 1199,1150 1199,1175 1179,1195 1154,1220 1134,1195 1124,1165 1109,1135 1124,1115 1094,1100 1069,1075 1054,1050 1039,1014 1003,994 978,969 958,939 943,914 918,884 908,849 888,829 868,799 868,779 873,754 843,724 813,688 793,653 768,628 743,603"/>
<polygon fill="#D9E15A" points="637,513 645,513 647,525 637,525"/>
<polygon fill="#D9E15A" points="748,593 783,588 813,603 843,628 858,653 868,683 873,734 893,749 918,769 943,789 973,809 1003,839 1019,869 1034,904 1044,934 1059,964 1074,967 1104,994 1129,1024 1159,1055 1174,1090 1179,1125 1174,1140 1159,1120 1139,1095 1114,1075 1079,1065 1059,1045 1054,1019 1069,994 1049,969 1019,974 988,979 973,959 963,934 948,909 933,894 918,864 913,839 898,819 888,794 878,769 853,729 823,688 798,648 778,623 758,608"/>
<polygon fill="#D9E15A" points="1139,1175 1154,1152 1171,1175 1154,1197"/>
<polygon fill="#F8B448" points="793,633 813,621 838,643 853,668 863,688 848,683 828,673 808,658"/>
<polygon fill="#F8B448" points="856,724 863,719 866,731 858,734"/>
<polygon fill="#F8B448" points="888,769 898,759 918,779 948,799 978,819 1003,849 1019,879 1029,909 1044,939 1049,954 1024,969 993,977 978,954 968,934 953,914 938,894 923,864 913,844 928,834 918,809 898,794"/>
<polygon fill="#F8B448" points="1064,1040 1069,1004 1079,969 1094,974 1114,999 1134,1029 1159,1065 1174,1095 1177,1125 1166,1120 1154,1090 1129,1075 1099,1060 1079,1045"/>
<polygon fill="#F8B448" points="1144,1175 1154,1160 1166,1175 1154,1190"/>
<polygon fill="#F8B448" points="800,638 813,626 833,643 848,668 853,681 833,671 813,658"/>
<polygon fill="#F8B448" points="898,769 908,769 933,794 963,814 993,839 1009,869 1019,899 1034,929 1041,949 1019,964 993,972 983,949 973,929 953,914 943,889 928,864 918,844 933,834 923,809"/>
<polygon fill="#F8B448" points="1079,979 1086,972 1104,994 1119,1019 1131,1045 1124,1060 1104,1060 1096,1034 1094,1004"/>
<polygon fill="#F4672D" points="803,643 813,631 828,643 838,663 828,666 813,658"/>
<polygon fill="#F4672D" points="918,849 933,834 953,824 983,839 1001,859 1006,884 988,894 968,889 943,879 923,864"/>
<polygon fill="#F4672D" points="973,929 993,914 1019,914 1036,939 1029,959 1009,967 993,969 983,947"/>
<polygon fill="#DF3729" points="923,854 938,839 958,831 983,844 996,864 988,882 963,884 938,874"/>
<polygon fill="#B81D26" points="933,856 948,846 973,849 991,861 978,874 953,874"/>
<polygon fill="#5396D2" points="251,331 281,311 301,346 281,361 261,351"/>
<polygon fill="#5396D2" points="291,456 301,441 326,466 361,481 391,507 416,542 406,562 411,607 376,617 361,602 366,562 331,547 321,512 321,486"/>
<polygon fill="#5396D2" points="587,411 602,399 642,421 702,426 737,436 767,461 792,497 772,507 742,481 702,471 652,476 622,481 602,466 597,436"/>
<polygon fill="#5396D2" points="1125,50 1140,30 1160,32 1155,58 1138,70"/>
<polygon fill="#5396D2" points="1590,250 1605,215 1635,210 1640,245 1620,275 1600,270"/>
<polygon fill="#5396D2" points="1300,250 1325,215 1350,210 1330,240"/>
<polygon fill="#5396D2" points="1700,215 1720,200 1745,210 1730,232 1708,228"/>
<polygon fill="#5396D2" points="1690,450 1715,410 1745,380 1765,362 1760,388 1730,425 1705,460"/>
<polygon fill="#4DA584" points="1132,48 1142,35 1155,38 1150,55"/>
<polygon fill="#4DA584" points="1705,212 1720,205 1735,212 1720,225"/>
<polygon fill="#4DA584" points="1700,440 1715,415 1725,425 1710,450"/>
<polygon fill="#4DA584" points="1750,370 1762,360 1765,380"/>
<polygon fill="#6DC34B" points="1710,430 1716,420 1722,428 1714,440"/>
<polygon fill="#6DC34B" points="1712,212 1720,208 1728,213 1720,219"/>
<defs><polygon id="o163" points="481,75 494,40 502,0 517,0 512,50 502,80 494,105 484,100"/><polygon id="o164" points="486,108 502,100 509,118 494,123"/><ellipse id="o165" cx="212" cy="145" rx="4" ry="3"/><ellipse id="o166" cx="206" cy="78" rx="10" ry="4"/><polygon id="o167" points="281,166 296,158 308,168 296,176"/><polygon id="o168" points="251,201 258,188 263,201 258,216 251,216"/><polygon id="o169" points="236,221 241,196 261,176 281,181 271,201 261,226 246,241"/><polygon id="o170" points="366,166 381,159 394,168 379,173"/><polygon id="o171" points="371,186 381,176 376,193"/><polygon id="o172" points="318,251 326,231 339,256 341,281 326,286 318,271"/><polygon id="o173" points="323,266 329,261 331,276 325,278"/><polygon id="o174" points="364,311 376,301 396,321 401,346 386,371 366,381 346,369 361,356 371,341 366,326"/><polygon id="o175" points="369,318 379,313 384,326 374,331"/><polygon id="o176" points="436,306 451,296 464,306 461,326 449,334 439,321"/><polygon id="o177" points="491,281 504,266 518,281 504,296"/><polygon id="o178" points="532,271 557,261 582,256 572,271 552,286 532,288"/><polygon id="o179" points="544,321 562,318 567,326 549,329"/><polygon id="o180" points="273,344 281,334 290,344 281,354"/><polygon id="o181" points="359,522 369,512 379,524 370,539"/><polygon id="o182" points="346,507 361,494 381,507 394,527 381,547 369,557 351,537"/><polygon id="o183" points="374,577 391,587 399,597 386,599 374,609 369,597"/><polygon id="o184" points="609,456 619,449 634,457 619,464"/><polygon id="o185" points="607,461 617,441 652,439 682,446 697,454 672,461 642,469 617,474"/><polygon id="o186" points="633,522 639,502 652,512 662,532 682,547 672,552 652,539 639,537"/><ellipse id="o187" cx="641" cy="522" rx="4" ry="4"/></defs>
<use href="#o163" fill="#86C5EB" stroke="#86C5EB" stroke-width="50" stroke-linejoin="round"/>
<use href="#o164" fill="#86C5EB" stroke="#86C5EB" stroke-width="39" stroke-linejoin="round"/>
<use href="#o165" fill="#86C5EB" stroke="#86C5EB" stroke-width="45" stroke-linejoin="round"/>
<use href="#o166" fill="#86C5EB" stroke="#86C5EB" stroke-width="14" stroke-linejoin="round"/>
<use href="#o167" fill="#86C5EB" stroke="#86C5EB" stroke-width="45" stroke-linejoin="round"/>
<use href="#o168" fill="#86C5EB" stroke="#86C5EB" stroke-width="50" stroke-linejoin="round"/>
<use href="#o169" fill="#86C5EB" stroke="#86C5EB" stroke-width="32" stroke-linejoin="round"/>
<use href="#o170" fill="#86C5EB" stroke="#86C5EB" stroke-width="39" stroke-linejoin="round"/>
<use href="#o171" fill="#86C5EB" stroke="#86C5EB" stroke-width="32" stroke-linejoin="round"/>
<use href="#o172" fill="#86C5EB" stroke="#86C5EB" stroke-width="39" stroke-linejoin="round"/>
<use href="#o173" fill="#86C5EB" stroke="#86C5EB" stroke-width="37.5" stroke-linejoin="round"/>
<use href="#o174" fill="#86C5EB" stroke="#86C5EB" stroke-width="39" stroke-linejoin="round"/>
<use href="#o175" fill="#86C5EB" stroke="#86C5EB" stroke-width="37.5" stroke-linejoin="round"/>
<use href="#o176" fill="#86C5EB" stroke="#86C5EB" stroke-width="39" stroke-linejoin="round"/>
<use href="#o177" fill="#86C5EB" stroke="#86C5EB" stroke-width="51.7" stroke-linejoin="round"/>
<use href="#o178" fill="#86C5EB" stroke="#86C5EB" stroke-width="24" stroke-linejoin="round"/>
<use href="#o179" fill="#86C5EB" stroke="#86C5EB" stroke-width="24" stroke-linejoin="round"/>
<use href="#o180" fill="#86C5EB" stroke="#86C5EB" stroke-width="26.7" stroke-linejoin="round"/>
<use href="#o181" fill="#86C5EB" stroke="#86C5EB" stroke-width="45" stroke-linejoin="round"/>
<use href="#o182" fill="#86C5EB" stroke="#86C5EB" stroke-width="39" stroke-linejoin="round"/>
<use href="#o183" fill="#86C5EB" stroke="#86C5EB" stroke-width="24" stroke-linejoin="round"/>
<use href="#o184" fill="#86C5EB" stroke="#86C5EB" stroke-width="45" stroke-linejoin="round"/>
<use href="#o185" fill="#86C5EB" stroke="#86C5EB" stroke-width="32" stroke-linejoin="round"/>
<use href="#o186" fill="#86C5EB" stroke="#86C5EB" stroke-width="32" stroke-linejoin="round"/>
<use href="#o187" fill="#86C5EB" stroke="#86C5EB" stroke-width="26" stroke-linejoin="round"/>
<use href="#o163" fill="#5396D2" stroke="#5396D2" stroke-width="36" stroke-linejoin="round"/>
<use href="#o164" fill="#5396D2" stroke="#5396D2" stroke-width="25" stroke-linejoin="round"/>
<use href="#o165" fill="#5396D2" stroke="#5396D2" stroke-width="31" stroke-linejoin="round"/>
<use href="#o166" fill="#5396D2"/>
<use href="#o167" fill="#5396D2" stroke="#5396D2" stroke-width="31" stroke-linejoin="round"/>
<use href="#o168" fill="#5396D2" stroke="#5396D2" stroke-width="36" stroke-linejoin="round"/>
<use href="#o169" fill="#5396D2" stroke="#5396D2" stroke-width="18" stroke-linejoin="round"/>
<use href="#o170" fill="#5396D2" stroke="#5396D2" stroke-width="25" stroke-linejoin="round"/>
<use href="#o171" fill="#5396D2" stroke="#5396D2" stroke-width="18" stroke-linejoin="round"/>
<use href="#o172" fill="#5396D2" stroke="#5396D2" stroke-width="25" stroke-linejoin="round"/>
<use href="#o173" fill="#5396D2" stroke="#5396D2" stroke-width="25.8" stroke-linejoin="round"/>
<use href="#o174" fill="#5396D2" stroke="#5396D2" stroke-width="25" stroke-linejoin="round"/>
<use href="#o175" fill="#5396D2" stroke="#5396D2" stroke-width="25.8" stroke-linejoin="round"/>
<use href="#o176" fill="#5396D2" stroke="#5396D2" stroke-width="25" stroke-linejoin="round"/>
<use href="#o177" fill="#5396D2" stroke="#5396D2" stroke-width="40" stroke-linejoin="round"/>
<use href="#o178" fill="#5396D2" stroke="#5396D2" stroke-width="10" stroke-linejoin="round"/>
<use href="#o179" fill="#5396D2" stroke="#5396D2" stroke-width="10" stroke-linejoin="round"/>
<use href="#o180" fill="#5396D2" stroke="#5396D2" stroke-width="15" stroke-linejoin="round"/>
<use href="#o181" fill="#5396D2" stroke="#5396D2" stroke-width="31" stroke-linejoin="round"/>
<use href="#o182" fill="#5396D2" stroke="#5396D2" stroke-width="25" stroke-linejoin="round"/>
<use href="#o183" fill="#5396D2" stroke="#5396D2" stroke-width="10" stroke-linejoin="round"/>
<use href="#o184" fill="#5396D2" stroke="#5396D2" stroke-width="33.3" stroke-linejoin="round"/>
<use href="#o185" fill="#5396D2" stroke="#5396D2" stroke-width="18" stroke-linejoin="round"/>
<use href="#o186" fill="#5396D2" stroke="#5396D2" stroke-width="18" stroke-linejoin="round"/>
<use href="#o187" fill="#5396D2" stroke="#5396D2" stroke-width="16.7" stroke-linejoin="round"/>
<use href="#o163" fill="#4DA584" stroke="#4DA584" stroke-width="26" stroke-linejoin="round"/>
<use href="#o164" fill="#4DA584" stroke="#4DA584" stroke-width="15" stroke-linejoin="round"/>
<use href="#o165" fill="#4DA584" stroke="#4DA584" stroke-width="21" stroke-linejoin="round"/>
<use href="#o167" fill="#4DA584" stroke="#4DA584" stroke-width="21" stroke-linejoin="round"/>
<use href="#o168" fill="#4DA584" stroke="#4DA584" stroke-width="26" stroke-linejoin="round"/>
<use href="#o169" fill="#4DA584" stroke="#4DA584" stroke-width="8" stroke-linejoin="round"/>
<use href="#o170" fill="#4DA584" stroke="#4DA584" stroke-width="15" stroke-linejoin="round"/>
<use href="#o171" fill="#4DA584" stroke="#4DA584" stroke-width="8" stroke-linejoin="round"/>
<use href="#o172" fill="#4DA584" stroke="#4DA584" stroke-width="15" stroke-linejoin="round"/>
<use href="#o173" fill="#4DA584" stroke="#4DA584" stroke-width="17.5" stroke-linejoin="round"/>
<use href="#o174" fill="#4DA584" stroke="#4DA584" stroke-width="15" stroke-linejoin="round"/>
<use href="#o175" fill="#4DA584" stroke="#4DA584" stroke-width="17.5" stroke-linejoin="round"/>
<use href="#o176" fill="#4DA584" stroke="#4DA584" stroke-width="15" stroke-linejoin="round"/>
<use href="#o177" fill="#4DA584" stroke="#4DA584" stroke-width="31.7" stroke-linejoin="round"/>
<use href="#o178" fill="#4DA584"/>
<use href="#o179" fill="#4DA584"/>
<use href="#o180" fill="#4DA584" stroke="#4DA584" stroke-width="6.7" stroke-linejoin="round"/>
<use href="#o181" fill="#4DA584" stroke="#4DA584" stroke-width="21" stroke-linejoin="round"/>
<use href="#o182" fill="#4DA584" stroke="#4DA584" stroke-width="15" stroke-linejoin="round"/>
<use href="#o183" fill="#4DA584"/>
<use href="#o184" fill="#4DA584" stroke="#4DA584" stroke-width="25" stroke-linejoin="round"/>
<use href="#o185" fill="#4DA584" stroke="#4DA584" stroke-width="8" stroke-linejoin="round"/>
<use href="#o186" fill="#4DA584" stroke="#4DA584" stroke-width="8" stroke-linejoin="round"/>
<use href="#o187" fill="#4DA584" stroke="#4DA584" stroke-width="10" stroke-linejoin="round"/>
<use href="#o163" fill="#6DC34B" stroke="#6DC34B" stroke-width="18" stroke-linejoin="round"/>
<use href="#o164" fill="#6DC34B" stroke="#6DC34B" stroke-width="7" stroke-linejoin="round"/>
<use href="#o165" fill="#6DC34B" stroke="#6DC34B" stroke-width="13" stroke-linejoin="round"/>
<use href="#o167" fill="#6DC34B" stroke="#6DC34B" stroke-width="13" stroke-linejoin="round"/>
<use href="#o168" fill="#6DC34B" stroke="#6DC34B" stroke-width="18" stroke-linejoin="round"/>
<use href="#o169" fill="#6DC34B"/>
<use href="#o170" fill="#6DC34B" stroke="#6DC34B" stroke-width="7" stroke-linejoin="round"/>
<use href="#o171" fill="#6DC34B"/>
<use href="#o172" fill="#6DC34B" stroke="#6DC34B" stroke-width="7" stroke-linejoin="round"/>
<use href="#o173" fill="#6DC34B" stroke="#6DC34B" stroke-width="10.8" stroke-linejoin="round"/>
<use href="#o174" fill="#6DC34B" stroke="#6DC34B" stroke-width="7" stroke-linejoin="round"/>
<use href="#o175" fill="#6DC34B" stroke="#6DC34B" stroke-width="10.8" stroke-linejoin="round"/>
<use href="#o176" fill="#6DC34B" stroke="#6DC34B" stroke-width="7" stroke-linejoin="round"/>
<use href="#o177" fill="#6DC34B" stroke="#6DC34B" stroke-width="25" stroke-linejoin="round"/>
<use href="#o180" fill="#6DC34B"/>
<use href="#o181" fill="#6DC34B" stroke="#6DC34B" stroke-width="13" stroke-linejoin="round"/>
<use href="#o182" fill="#6DC34B" stroke="#6DC34B" stroke-width="7" stroke-linejoin="round"/>
<use href="#o184" fill="#6DC34B" stroke="#6DC34B" stroke-width="18.3" stroke-linejoin="round"/>
<use href="#o185" fill="#6DC34B"/>
<use href="#o186" fill="#6DC34B"/>
<use href="#o187" fill="#6DC34B" stroke="#6DC34B" stroke-width="4.7" stroke-linejoin="round"/>
<use href="#o163" fill="#D9E15A" stroke="#D9E15A" stroke-width="11" stroke-linejoin="round"/>
<use href="#o164" fill="#D9E15A"/>
<use href="#o165" fill="#D9E15A" stroke="#D9E15A" stroke-width="6" stroke-linejoin="round"/>
<use href="#o167" fill="#D9E15A" stroke="#D9E15A" stroke-width="6" stroke-linejoin="round"/>
<use href="#o168" fill="#D9E15A" stroke="#D9E15A" stroke-width="11" stroke-linejoin="round"/>
<use href="#o170" fill="#D9E15A"/>
<use href="#o172" fill="#D9E15A"/>
<use href="#o173" fill="#D9E15A" stroke="#D9E15A" stroke-width="5" stroke-linejoin="round"/>
<use href="#o174" fill="#D9E15A"/>
<use href="#o175" fill="#D9E15A" stroke="#D9E15A" stroke-width="5" stroke-linejoin="round"/>
<use href="#o176" fill="#D9E15A"/>
<use href="#o177" fill="#D9E15A" stroke="#D9E15A" stroke-width="19.2" stroke-linejoin="round"/>
<use href="#o181" fill="#D9E15A" stroke="#D9E15A" stroke-width="6" stroke-linejoin="round"/>
<use href="#o182" fill="#D9E15A"/>
<use href="#o184" fill="#D9E15A" stroke="#D9E15A" stroke-width="12.5" stroke-linejoin="round"/>
<use href="#o187" fill="#D9E15A"/>
<use href="#o163" fill="#F8B448" stroke="#F8B448" stroke-width="5" stroke-linejoin="round"/>
<use href="#o165" fill="#F8B448"/>
<use href="#o167" fill="#F8B448"/>
<use href="#o168" fill="#F8B448" stroke="#F8B448" stroke-width="5" stroke-linejoin="round"/>
<use href="#o173" fill="#F8B448"/>
<use href="#o175" fill="#F8B448"/>
<use href="#o177" fill="#F8B448" stroke="#F8B448" stroke-width="14.2" stroke-linejoin="round"/>
<use href="#o181" fill="#F8B448"/>
<use href="#o184" fill="#F8B448" stroke="#F8B448" stroke-width="7.5" stroke-linejoin="round"/>
<use href="#o163" fill="#F4672D"/>
<use href="#o168" fill="#F4672D"/>
<use href="#o177" fill="#F4672D" stroke="#F4672D" stroke-width="10" stroke-linejoin="round"/>
<use href="#o184" fill="#F4672D" stroke="#F4672D" stroke-width="3.3" stroke-linejoin="round"/>
<use href="#o177" fill="#DF3729" stroke="#DF3729" stroke-width="6.7" stroke-linejoin="round"/>
<use href="#o184" fill="#DF3729"/>
<use href="#o177" fill="#B81D26" stroke="#B81D26" stroke-width="3.3" stroke-linejoin="round"/>
<use href="#o177" fill="#8B181D"/>
</g></g>
</g>
<use href="#base"/>
<rect x="8.4" y="254.1" width="57.6" height="64.2" fill="#fff" stroke="#000" stroke-width="2.2"/>
<text class="l" x="37.2" y="297.5" text-anchor="middle">o)</text>
<text class="t" transform="translate(163.5 -16.6) scale(.965 1)" text-anchor="middle">CAL-ADAPT PCM1 0.125<tspan class="s" dy="-14.4">o</tspan><tspan dy="14.4"></tspan></text>
</g>
<g transform="translate(1888.5 1387.9)">
<g clip-path="url(#cp)">
<g filter="url(#rough)">
<g clip-path="url(#lc)"><g transform="translate(-0.50 0.10) scale(0.18278)">
<polygon fill="#C5E8FA" points="100,0 140,180 150,200 165,260 150,340 130,400 110,440 140,500 200,560 215,620 230,700 260,730 300,700 340,720 380,750 440,760 500,790 520,780 470,720 440,660 430,600 440,540 420,480 440,430 470,380 520,395 545,430 560,500 600,560 650,600 700,640 740,700 780,780 810,850 850,910 900,960 940,1010 1000,1050 1040,1090 1080,1140 1110,1200 1115,1280 1130,1340 1170,1380 1210,1400 1230,1370 1260,1330 1265,1280 1250,1230 1260,1190 1300,1200 1340,1230 1370,1270 1400,1250 1390,1200 1350,1150 1310,1100 1300,1060 1340,1050 1400,1085 1450,1110 1520,1100 1600,1090 1680,1100 1740,1080 1789,1060 1789,0"/>
<polygon fill="#C5E8FA" points="580,990 620,970 655,990 640,1030 600,1025"/>
<polygon fill="#C5E8FA" points="640,1090 680,1080 720,1110 760,1140 800,1170 830,1200 810,1215 770,1190 730,1160 690,1130 650,1115"/>
<polygon fill="#C5E8FA" points="560,1180 600,1170 640,1200 700,1240 760,1270 820,1290 860,1310 850,1330 800,1310 740,1290 680,1260 620,1230 580,1210"/>
<polygon fill="#C5E8FA" points="700,1150 740,1160 780,1200 760,1210 720,1180"/>
<polygon fill="#C5E8FA" points="880,1440 920,1430 980,1440 1040,1450 1100,1440 1160,1420 1200,1440 1180,1470 1120,1490 1060,1500 1000,1490 940,1480 900,1470"/>
<polygon fill="#C5E8FA" points="1200,1540 1260,1530 1320,1545 1400,1555 1460,1545 1520,1560 1510,1600 1470,1610 1420,1590 1360,1580 1300,1575 1240,1570"/>
<polygon fill="#C5E8FA" points="1440,1700 1480,1660 1520,1680 1560,1720 1540,1760 1500,1740 1470,1730"/>
<polygon fill="#C5E8FA" points="1600,1160 1650,1150 1720,1180 1750,1230 1720,1260 1680,1240 1640,1220 1610,1190"/>
<polygon fill="#C5E8FA" points="1480,1180 1510,1170 1530,1220 1500,1240"/>
<polygon fill="#C5E8FA" points="1380,1180 1420,1170 1440,1230 1410,1270 1390,1240"/>
<polygon fill="#C5E8FA" points="1280,1110 1310,1090 1340,1130 1310,1150"/>
<polygon fill="#C5E8FA" points="380,680 420,700 470,740 520,790 500,800 440,770 400,740 370,710"/>
<polygon fill="#FFFFFF" points="240,120 260,90 300,70 340,90 400,60 420,100 380,130 320,140 270,140"/>
<polygon fill="#FFFFFF" points="205,330 215,300 260,380 290,440 270,440 240,390"/>
<polygon fill="#86C5EB" points="700,540 760,560 800,590 840,620 880,650 905,690 930,760 980,790 1030,830 1080,880 1130,900 1150,940 1130,960 1100,950 1140,1000 1190,1050 1230,1100 1250,1160 1260,1230 1250,1290 1200,1310 1160,1290 1120,1240 1100,1170 1060,1110 1020,1060 980,1020 940,970 900,920 870,860 840,800 820,740 790,680 750,620 720,580"/>
<polygon fill="#86C5EB" points="1440,40 1500,30 1560,60 1600,110 1640,150 1600,160 1560,120 1500,90 1450,80"/>
<polygon fill="#86C5EB" points="1100,80 1130,30 1180,20 1170,60 1140,100"/>
<polygon fill="#86C5EB" points="720,60 750,40 780,80 800,110 770,100 740,90"/>
<polygon fill="#86C5EB" points="1300,250 1330,210 1380,200 1370,240 1330,270 1310,290"/>
<polygon fill="#86C5EB" points="1430,290 1500,280 1560,260 1540,290 1480,310 1440,320"/>
<polygon fill="#86C5EB" points="1570,260 1600,200 1650,190 1720,200 1789,190 1789,300 1740,290 1700,300 1650,290 1600,320 1560,340"/>
<polygon fill="#86C5EB" points="1680,520 1700,430 1740,380 1789,340 1789,420 1750,470 1720,530 1700,560"/>
<polygon fill="#86C5EB" points="830,300 845,200 860,190 870,280 875,340 860,350"/>
<polygon fill="#86C5EB" points="300,300 340,280 400,300 440,290 460,330 420,380 360,400 310,370"/>
<polygon fill="#86C5EB" points="230,400 260,380 300,420 340,460 400,480 430,540 420,620 400,660 360,640 330,590 300,520 260,470"/>
<polygon fill="#86C5EB" points="590,400 640,400 690,430 680,460 620,470"/>
<polygon fill="#86C5EB" points="620,500 660,490 700,540 660,560"/>
<polygon fill="#86C5EB" points="1440,1570 1480,1565 1520,1585 1500,1610 1460,1605"/>
<polygon fill="#5396D2" points="730,570 780,590 830,630 860,680 920,770 960,800 1020,850 1060,900 1050,940 1100,990 1150,1030 1200,1080 1235,1140 1245,1200 1240,1270 1200,1290 1160,1260 1130,1210 1110,1150 1060,1090 1030,1040 990,1000 950,950 910,900 880,840 850,780 840,730 800,680 770,630"/>
<polygon fill="#5396D2" points="1700,500 1720,430 1750,390 1775,370 1770,410 1740,460 1715,520"/>
<polygon fill="#5396D2" points="1600,270 1620,220 1650,220 1640,260 1610,290"/>
<polygon fill="#5396D2" points="1710,220 1740,200 1760,220 1730,250"/>
<polygon fill="#5396D2" points="1310,250 1340,220 1350,240 1320,270"/>
<polygon fill="#5396D2" points="1130,70 1150,35 1165,45 1150,75"/>
<polygon fill="#5396D2" points="840,290 850,230 865,290 860,330"/>
<polygon fill="#4DA584" points="800,620 830,640 860,690 885,760 930,790 980,830 1030,870 1045,930 1090,980 1140,1030 1190,1090 1225,1150 1235,1210 1220,1270 1190,1280 1160,1240 1135,1190 1100,1120 1060,1070 1030,1020 990,980 950,930 920,880 890,820 860,760 840,700"/>
<polygon fill="#6DC34B" points="815,640 840,660 870,720 895,770 935,800 985,840 1030,890 1040,940 1085,990 1135,1040 1185,1100 1220,1160 1230,1210 1210,1265 1190,1270 1165,1230 1140,1180 1105,1110 1065,1060 1035,1010 995,970 955,920 925,870 895,810 870,760 850,700"/>
<polygon fill="#D9E15A" points="830,665 850,690 875,740 900,780 940,810 990,850 1025,900 1035,950 1080,1000 1130,1050 1180,1110 1215,1170 1225,1210 1205,1255 1190,1255 1170,1220 1145,1170 1110,1100 1070,1050 1040,1000 1000,960 960,910 930,860 900,800 880,760 855,710"/>
<polygon fill="#F8B448" points="895,790 945,805 1000,850 1040,900 1050,960 1010,965 965,915 925,860"/>
<polygon fill="#F8B448" points="1030,1000 1075,990 1125,1040 1175,1100 1220,1165 1235,1215 1215,1250 1180,1225 1150,1170 1110,1095 1065,1045"/>
<polygon fill="#F8B448" points="845,690 860,700 880,745 868,750 852,720"/>
<polygon fill="#F4672D" points="905,805 950,820 995,860 1030,905 1035,950 1005,950 960,900 930,850"/>
<polygon fill="#F4672D" points="1050,1010 1085,1010 1130,1055 1175,1110 1215,1170 1225,1210 1205,1235 1175,1205 1150,1155 1110,1085 1080,1050"/>
<polygon fill="#DF3729" points="915,815 955,830 990,870 1015,915 1010,940 985,925 955,885"/>
<polygon fill="#DF3729" points="1060,1020 1085,1020 1125,1060 1170,1120 1205,1170 1215,1205 1195,1225 1170,1195 1150,1150 1115,1085 1085,1050"/>
<polygon fill="#B81D26" points="930,825 965,845 990,880 1000,915 975,900 950,865"/>
<polygon fill="#B81D26" points="1090,1060 1125,1075 1160,1100 1200,1150 1220,1195 1200,1220 1160,1215 1125,1180 1100,1120"/>
<polygon fill="#8B181D" points="1100,1105 1135,1100 1170,1090 1195,1115 1215,1155 1235,1190 1210,1215 1165,1215 1135,1205 1120,1165 1105,1135"/>
<polygon fill="#8B181D" points="945,830 965,835 980,870 965,880 950,855"/>
<defs><polygon id="p188" points="340,355 360,345 395,345 400,365 375,385 350,375"/><ellipse id="p189" cx="504" cy="285" rx="9" ry="9"/><polygon id="p190" points="612,452 628,440 642,452 626,462"/><ellipse id="p191" cx="660" cy="440" rx="7" ry="7"/><ellipse id="p192" cx="608" cy="410" rx="5" ry="5"/><polygon id="p193" points="330,520 350,490 385,500 405,530 395,560 360,555 340,545"/><polygon id="p194" points="370,590 380,575 395,600 380,620"/><polygon id="p195" points="400,640 410,628 415,650"/><polygon id="p196" points="362,605 372,600 376,625 364,622"/><polygon id="p197" points="255,420 262,415 280,450 272,455"/><polygon id="p198" points="258,475 270,470 280,490 268,495"/><polygon id="p199" points="295,475 305,470 325,490 315,495"/><polygon id="p200" points="355,455 365,450 368,460 358,463"/><polygon id="p201" points="400,435 415,430 418,440"/><polygon id="p202" points="490,100 500,40 515,20 525,45 515,90 525,120 500,130"/><ellipse id="p203" cx="505" cy="70" rx="4" ry="4"/><ellipse id="p204" cx="518" cy="118" rx="7" ry="7"/><ellipse id="p205" cx="525" cy="18" rx="5" ry="5"/><polygon id="p206" points="855,290 862,285 868,310 858,312"/><polygon id="p207" points="1140,60 1155,40 1165,50 1150,75"/><polygon id="p208" points="1610,270 1618,250 1625,268 1616,282"/><ellipse id="p209" cx="1725" cy="215" rx="8" ry="6"/><polygon id="p210" points="1705,470 1725,420 1755,385 1765,395 1740,430 1720,475"/><ellipse id="p211" cx="1458" cy="1588" rx="6" ry="5"/><ellipse id="p212" cx="1490" cy="1644" rx="4" ry="4"/></defs>
<use href="#p188" fill="#86C5EB" stroke="#86C5EB" stroke-width="29" stroke-linejoin="round"/>
<use href="#p189" fill="#86C5EB" stroke="#86C5EB" stroke-width="29" stroke-linejoin="round"/>
<use href="#p190" fill="#86C5EB" stroke="#86C5EB" stroke-width="27" stroke-linejoin="round"/>
<use href="#p191" fill="#86C5EB" stroke="#86C5EB" stroke-width="22.5" stroke-linejoin="round"/>
<use href="#p192" fill="#86C5EB" stroke="#86C5EB" stroke-width="22.5" stroke-linejoin="round"/>
<use href="#p193" fill="#86C5EB" stroke="#86C5EB" stroke-width="36" stroke-linejoin="round"/>
<use href="#p194" fill="#86C5EB" stroke="#86C5EB" stroke-width="25" stroke-linejoin="round"/>
<use href="#p195" fill="#86C5EB" stroke="#86C5EB" stroke-width="25" stroke-linejoin="round"/>
<use href="#p196" fill="#86C5EB" stroke="#86C5EB" stroke-width="27" stroke-linejoin="round"/>
<use href="#p197" fill="#86C5EB" stroke="#86C5EB" stroke-width="27" stroke-linejoin="round"/>
<use href="#p198" fill="#86C5EB" stroke="#86C5EB" stroke-width="27" stroke-linejoin="round"/>
<use href="#p199" fill="#86C5EB" stroke="#86C5EB" stroke-width="25" stroke-linejoin="round"/>
<use href="#p200" fill="#86C5EB" stroke="#86C5EB" stroke-width="22.5" stroke-linejoin="round"/>
<use href="#p201" fill="#86C5EB" stroke="#86C5EB" stroke-width="22.5" stroke-linejoin="round"/>
<use href="#p202" fill="#86C5EB" stroke="#86C5EB" stroke-width="26" stroke-linejoin="round"/>
<use href="#p203" fill="#86C5EB" stroke="#86C5EB" stroke-width="27" stroke-linejoin="round"/>
<use href="#p204" fill="#86C5EB" stroke="#86C5EB" stroke-width="25" stroke-linejoin="round"/>
<use href="#p205" fill="#86C5EB" stroke="#86C5EB" stroke-width="27" stroke-linejoin="round"/>
<use href="#p206" fill="#86C5EB" stroke="#86C5EB" stroke-width="19.5" stroke-linejoin="round"/>
<use href="#p207" fill="#86C5EB" stroke="#86C5EB" stroke-width="21.3" stroke-linejoin="round"/>
<use href="#p208" fill="#86C5EB" stroke="#86C5EB" stroke-width="19.5" stroke-linejoin="round"/>
<use href="#p209" fill="#86C5EB" stroke="#86C5EB" stroke-width="21.3" stroke-linejoin="round"/>
<use href="#p210" fill="#86C5EB" stroke="#86C5EB" stroke-width="21.3" stroke-linejoin="round"/>
<use href="#p211" fill="#86C5EB" stroke="#86C5EB" stroke-width="27" stroke-linejoin="round"/>
<use href="#p212" fill="#86C5EB" stroke="#86C5EB" stroke-width="22.5" stroke-linejoin="round"/>
<use href="#p188" fill="#5396D2" stroke="#5396D2" stroke-width="22" stroke-linejoin="round"/>
<use href="#p189" fill="#5396D2" stroke="#5396D2" stroke-width="22" stroke-linejoin="round"/>
<use href="#p190" fill="#5396D2" stroke="#5396D2" stroke-width="20" stroke-linejoin="round"/>
<use href="#p191" fill="#5396D2" stroke="#5396D2" stroke-width="15.5" stroke-linejoin="round"/>
<use href="#p192" fill="#5396D2" stroke="#5396D2" stroke-width="15.5" stroke-linejoin="round"/>
<use href="#p193" fill="#5396D2" stroke="#5396D2" stroke-width="26.7" stroke-linejoin="round"/>
<use href="#p194" fill="#5396D2" stroke="#5396D2" stroke-width="18" stroke-linejoin="round"/>
<use href="#p195" fill="#5396D2" stroke="#5396D2" stroke-width="18" stroke-linejoin="round"/>
<use href="#p196" fill="#5396D2" stroke="#5396D2" stroke-width="20" stroke-linejoin="round"/>
<use href="#p197" fill="#5396D2" stroke="#5396D2" stroke-width="20" stroke-linejoin="round"/>
<use href="#p198" fill="#5396D2" stroke="#5396D2" stroke-width="20" stroke-linejoin="round"/>
<use href="#p199" fill="#5396D2" stroke="#5396D2" stroke-width="18" stroke-linejoin="round"/>
<use href="#p200" fill="#5396D2" stroke="#5396D2" stroke-width="15.5" stroke-linejoin="round"/>
<use href="#p201" fill="#5396D2" stroke="#5396D2" stroke-width="15.5" stroke-linejoin="round"/>
<use href="#p202" fill="#5396D2" stroke="#5396D2" stroke-width="16.7" stroke-linejoin="round"/>
<use href="#p203" fill="#5396D2" stroke="#5396D2" stroke-width="20" stroke-linejoin="round"/>
<use href="#p204" fill="#5396D2" stroke="#5396D2" stroke-width="18" stroke-linejoin="round"/>
<use href="#p205" fill="#5396D2" stroke="#5396D2" stroke-width="20" stroke-linejoin="round"/>
<use href="#p206" fill="#5396D2" stroke="#5396D2" stroke-width="12.5" stroke-linejoin="round"/>
<use href="#p207" fill="#5396D2" stroke="#5396D2" stroke-width="12" stroke-linejoin="round"/>
<use href="#p208" fill="#5396D2" stroke="#5396D2" stroke-width="12.5" stroke-linejoin="round"/>
<use href="#p209" fill="#5396D2" stroke="#5396D2" stroke-width="12" stroke-linejoin="round"/>
<use href="#p210" fill="#5396D2" stroke="#5396D2" stroke-width="12" stroke-linejoin="round"/>
<use href="#p211" fill="#5396D2" stroke="#5396D2" stroke-width="20" stroke-linejoin="round"/>
<use href="#p212" fill="#5396D2" stroke="#5396D2" stroke-width="15.5" stroke-linejoin="round"/>
<use href="#p188" fill="#4DA584" stroke="#4DA584" stroke-width="17" stroke-linejoin="round"/>
<use href="#p189" fill="#4DA584" stroke="#4DA584" stroke-width="17" stroke-linejoin="round"/>
<use href="#p190" fill="#4DA584" stroke="#4DA584" stroke-width="15" stroke-linejoin="round"/>
<use href="#p191" fill="#4DA584" stroke="#4DA584" stroke-width="10.5" stroke-linejoin="round"/>
<use href="#p192" fill="#4DA584" stroke="#4DA584" stroke-width="10.5" stroke-linejoin="round"/>
<use href="#p193" fill="#4DA584" stroke="#4DA584" stroke-width="20" stroke-linejoin="round"/>
<use href="#p194" fill="#4DA584" stroke="#4DA584" stroke-width="13" stroke-linejoin="round"/>
<use href="#p195" fill="#4DA584" stroke="#4DA584" stroke-width="13" stroke-linejoin="round"/>
<use href="#p196" fill="#4DA584" stroke="#4DA584" stroke-width="15" stroke-linejoin="round"/>
<use href="#p197" fill="#4DA584" stroke="#4DA584" stroke-width="15" stroke-linejoin="round"/>
<use href="#p198" fill="#4DA584" stroke="#4DA584" stroke-width="15" stroke-linejoin="round"/>
<use href="#p199" fill="#4DA584" stroke="#4DA584" stroke-width="13" stroke-linejoin="round"/>
<use href="#p200" fill="#4DA584" stroke="#4DA584" stroke-width="10.5" stroke-linejoin="round"/>
<use href="#p201" fill="#4DA584" stroke="#4DA584" stroke-width="10.5" stroke-linejoin="round"/>
<use href="#p202" fill="#4DA584" stroke="#4DA584" stroke-width="10" stroke-linejoin="round"/>
<use href="#p203" fill="#4DA584" stroke="#4DA584" stroke-width="15" stroke-linejoin="round"/>
<use href="#p204" fill="#4DA584" stroke="#4DA584" stroke-width="13" stroke-linejoin="round"/>
<use href="#p205" fill="#4DA584" stroke="#4DA584" stroke-width="15" stroke-linejoin="round"/>
<use href="#p206" fill="#4DA584" stroke="#4DA584" stroke-width="7.5" stroke-linejoin="round"/>
<use href="#p207" fill="#4DA584" stroke="#4DA584" stroke-width="5.3" stroke-linejoin="round"/>
<use href="#p208" fill="#4DA584" stroke="#4DA584" stroke-width="7.5" stroke-linejoin="round"/>
<use href="#p209" fill="#4DA584" stroke="#4DA584" stroke-width="5.3" stroke-linejoin="round"/>
<use href="#p210" fill="#4DA584" stroke="#4DA584" stroke-width="5.3" stroke-linejoin="round"/>
<use href="#p211" fill="#4DA584" stroke="#4DA584" stroke-width="15" stroke-linejoin="round"/>
<use href="#p212" fill="#4DA584" stroke="#4DA584" stroke-width="10.5" stroke-linejoin="round"/>
<use href="#p188" fill="#6DC34B" stroke="#6DC34B" stroke-width="13" stroke-linejoin="round"/>
<use href="#p189" fill="#6DC34B" stroke="#6DC34B" stroke-width="13" stroke-linejoin="round"/>
<use href="#p190" fill="#6DC34B" stroke="#6DC34B" stroke-width="11" stroke-linejoin="round"/>
<use href="#p191" fill="#6DC34B" stroke="#6DC34B" stroke-width="6.5" stroke-linejoin="round"/>
<use href="#p192" fill="#6DC34B" stroke="#6DC34B" stroke-width="6.5" stroke-linejoin="round"/>
<use href="#p193" fill="#6DC34B" stroke="#6DC34B" stroke-width="14.7" stroke-linejoin="round"/>
<use href="#p194" fill="#6DC34B" stroke="#6DC34B" stroke-width="9" stroke-linejoin="round"/>
<use href="#p195" fill="#6DC34B" stroke="#6DC34B" stroke-width="9" stroke-linejoin="round"/>
<use href="#p196" fill="#6DC34B" stroke="#6DC34B" stroke-width="11" stroke-linejoin="round"/>
<use href="#p197" fill="#6DC34B" stroke="#6DC34B" stroke-width="11" stroke-linejoin="round"/>
<use href="#p198" fill="#6DC34B" stroke="#6DC34B" stroke-width="11" stroke-linejoin="round"/>
<use href="#p199" fill="#6DC34B" stroke="#6DC34B" stroke-width="9" stroke-linejoin="round"/>
<use href="#p200" fill="#6DC34B" stroke="#6DC34B" stroke-width="6.5" stroke-linejoin="round"/>
<use href="#p201" fill="#6DC34B" stroke="#6DC34B" stroke-width="6.5" stroke-linejoin="round"/>
<use href="#p202" fill="#6DC34B" stroke="#6DC34B" stroke-width="4.7" stroke-linejoin="round"/>
<use href="#p203" fill="#6DC34B" stroke="#6DC34B" stroke-width="11" stroke-linejoin="round"/>
<use href="#p204" fill="#6DC34B" stroke="#6DC34B" stroke-width="9" stroke-linejoin="round"/>
<use href="#p205" fill="#6DC34B" stroke="#6DC34B" stroke-width="11" stroke-linejoin="round"/>
<use href="#p206" fill="#6DC34B" stroke="#6DC34B" stroke-width="3.5" stroke-linejoin="round"/>
<use href="#p207" fill="#6DC34B"/>
<use href="#p208" fill="#6DC34B" stroke="#6DC34B" stroke-width="3.5" stroke-linejoin="round"/>
<use href="#p209" fill="#6DC34B"/>
<use href="#p210" fill="#6DC34B"/>
<use href="#p211" fill="#6DC34B" stroke="#6DC34B" stroke-width="11" stroke-linejoin="round"/>
<use href="#p212" fill="#6DC34B" stroke="#6DC34B" stroke-width="6.5" stroke-linejoin="round"/>
<use href="#p188" fill="#D9E15A" stroke="#D9E15A" stroke-width="9.5" stroke-linejoin="round"/>
<use href="#p189" fill="#D9E15A" stroke="#D9E15A" stroke-width="9.5" stroke-linejoin="round"/>
<use href="#p190" fill="#D9E15A" stroke="#D9E15A" stroke-width="7.5" stroke-linejoin="round"/>
<use href="#p191" fill="#D9E15A" stroke="#D9E15A" stroke-width="3" stroke-linejoin="round"/>
<use href="#p192" fill="#D9E15A" stroke="#D9E15A" stroke-width="3" stroke-linejoin="round"/>
<use href="#p193" fill="#D9E15A" stroke="#D9E15A" stroke-width="10" stroke-linejoin="round"/>
<use href="#p194" fill="#D9E15A" stroke="#D9E15A" stroke-width="5.5" stroke-linejoin="round"/>
<use href="#p195" fill="#D9E15A" stroke="#D9E15A" stroke-width="5.5" stroke-linejoin="round"/>
<use href="#p196" fill="#D9E15A" stroke="#D9E15A" stroke-width="7.5" stroke-linejoin="round"/>
<use href="#p197" fill="#D9E15A" stroke="#D9E15A" stroke-width="7.5" stroke-linejoin="round"/>
<use href="#p198" fill="#D9E15A" stroke="#D9E15A" stroke-width="7.5" stroke-linejoin="round"/>
<use href="#p199" fill="#D9E15A" stroke="#D9E15A" stroke-width="5.5" stroke-linejoin="round"/>
<use href="#p200" fill="#D9E15A" stroke="#D9E15A" stroke-width="3" stroke-linejoin="round"/>
<use href="#p201" fill="#D9E15A" stroke="#D9E15A" stroke-width="3" stroke-linejoin="round"/>
<use href="#p202" fill="#D9E15A"/>
<use href="#p203" fill="#D9E15A" stroke="#D9E15A" stroke-width="7.5" stroke-linejoin="round"/>
<use href="#p204" fill="#D9E15A" stroke="#D9E15A" stroke-width="5.5" stroke-linejoin="round"/>
<use href="#p205" fill="#D9E15A" stroke="#D9E15A" stroke-width="7.5" stroke-linejoin="round"/>
<use href="#p206" fill="#D9E15A"/>
<use href="#p208" fill="#D9E15A"/>
<use href="#p211" fill="#D9E15A" stroke="#D9E15A" stroke-width="7.5" stroke-linejoin="round"/>
<use href="#p212" fill="#D9E15A" stroke="#D9E15A" stroke-width="3" stroke-linejoin="round"/>
<use href="#p188" fill="#F8B448" stroke="#F8B448" stroke-width="6.5" stroke-linejoin="round"/>
<use href="#p189" fill="#F8B448" stroke="#F8B448" stroke-width="6.5" stroke-linejoin="round"/>
<use href="#p190" fill="#F8B448" stroke="#F8B448" stroke-width="4.5" stroke-linejoin="round"/>
<use href="#p191" fill="#F8B448"/>
<use href="#p192" fill="#F8B448"/>
<use href="#p193" fill="#F8B448" stroke="#F8B448" stroke-width="6" stroke-linejoin="round"/>
<use href="#p194" fill="#F8B448" stroke="#F8B448" stroke-width="2.5" stroke-linejoin="round"/>
<use href="#p195" fill="#F8B448" stroke="#F8B448" stroke-width="2.5" stroke-linejoin="round"/>
<use href="#p196" fill="#F8B448" stroke="#F8B448" stroke-width="4.5" stroke-linejoin="round"/>
<use href="#p197" fill="#F8B448" stroke="#F8B448" stroke-width="4.5" stroke-linejoin="round"/>
<use href="#p198" fill="#F8B448" stroke="#F8B448" stroke-width="4.5" stroke-linejoin="round"/>
<use href="#p199" fill="#F8B448" stroke="#F8B448" stroke-width="2.5" stroke-linejoin="round"/>
<use href="#p200" fill="#F8B448"/>
<use href="#p201" fill="#F8B448"/>
<use href="#p203" fill="#F8B448" stroke="#F8B448" stroke-width="4.5" stroke-linejoin="round"/>
<use href="#p204" fill="#F8B448" stroke="#F8B448" stroke-width="2.5" stroke-linejoin="round"/>
<use href="#p205" fill="#F8B448" stroke="#F8B448" stroke-width="4.5" stroke-linejoin="round"/>
<use href="#p211" fill="#F8B448" stroke="#F8B448" stroke-width="4.5" stroke-linejoin="round"/>
<use href="#p212" fill="#F8B448"/>
<use href="#p188" fill="#F4672D" stroke="#F4672D" stroke-width="4" stroke-linejoin="round"/>
<use href="#p189" fill="#F4672D" stroke="#F4672D" stroke-width="4" stroke-linejoin="round"/>
<use href="#p190" fill="#F4672D" stroke="#F4672D" stroke-width="2" stroke-linejoin="round"/>
<use href="#p193" fill="#F4672D" stroke="#F4672D" stroke-width="2.7" stroke-linejoin="round"/>
<use href="#p194" fill="#F4672D"/>
<use href="#p195" fill="#F4672D"/>
<use href="#p196" fill="#F4672D" stroke="#F4672D" stroke-width="2" stroke-linejoin="round"/>
<use href="#p197" fill="#F4672D" stroke="#F4672D" stroke-width="2" stroke-linejoin="round"/>
<use href="#p198" fill="#F4672D" stroke="#F4672D" stroke-width="2" stroke-linejoin="round"/>
<use href="#p199" fill="#F4672D"/>
<use href="#p203" fill="#F4672D" stroke="#F4672D" stroke-width="2" stroke-linejoin="round"/>
<use href="#p204" fill="#F4672D"/>
<use href="#p205" fill="#F4672D" stroke="#F4672D" stroke-width="2" stroke-linejoin="round"/>
<use href="#p211" fill="#F4672D" stroke="#F4672D" stroke-width="2" stroke-linejoin="round"/>
<use href="#p188" fill="#DF3729" stroke="#DF3729" stroke-width="2" stroke-linejoin="round"/>
<use href="#p189" fill="#DF3729" stroke="#DF3729" stroke-width="2" stroke-linejoin="round"/>
<use href="#p190" fill="#DF3729"/>
<use href="#p193" fill="#DF3729"/>
<use href="#p196" fill="#DF3729"/>
<use href="#p197" fill="#DF3729"/>
<use href="#p198" fill="#DF3729"/>
<use href="#p203" fill="#DF3729"/>
<use href="#p205" fill="#DF3729"/>
<use href="#p211" fill="#DF3729"/>
<use href="#p188" fill="#B81D26"/>
<use href="#p189" fill="#B81D26"/>
</g></g>
</g>
</g>
<use href="#base"/>
<rect x="8.4" y="254.1" width="57.6" height="64.2" fill="#fff" stroke="#000" stroke-width="2.2"/>
<text class="l" x="37.2" y="297.5" text-anchor="middle">p)</text>
<text class="t" transform="translate(163.5 -16.6) scale(.965 1)" text-anchor="middle">DAYMET 0.01<tspan class="s" dy="-14.4">o</tspan><tspan dy="14.4"></tspan></text>
</g>
<g>
<rect x="230.1" y="1821.0" width="149.5" height="30.5" fill="#FFFFFF"/>
<rect x="379.6" y="1821.0" width="149.5" height="30.5" fill="#C5E8FA"/>
<rect x="529.1" y="1821.0" width="149.5" height="30.5" fill="#86C5EB"/>
<rect x="678.6" y="1821.0" width="149.5" height="30.5" fill="#5396D2"/>
<rect x="828.1" y="1821.0" width="149.5" height="30.5" fill="#4DA584"/>
<rect x="977.6" y="1821.0" width="149.5" height="30.5" fill="#6DC34B"/>
<rect x="1127.1" y="1821.0" width="149.5" height="30.5" fill="#D9E15A"/>
<rect x="1276.6" y="1821.0" width="149.5" height="30.5" fill="#F8B448"/>
<rect x="1426.1" y="1821.0" width="149.5" height="30.5" fill="#F4672D"/>
<rect x="1575.6" y="1821.0" width="149.5" height="30.5" fill="#DF3729"/>
<rect x="1725.1" y="1821.0" width="149.5" height="30.5" fill="#B81D26"/>
<rect x="1874.6" y="1821.0" width="149.5" height="30.5" fill="#8B181D"/>
<path d="M379.6 1821.0v30.5M529.1 1821.0v30.5M678.6 1821.0v30.5M828.1 1821.0v30.5M977.6 1821.0v30.5M1127.1 1821.0v30.5M1276.6 1821.0v30.5M1426.1 1821.0v30.5M1575.6 1821.0v30.5M1725.1 1821.0v30.5M1874.6 1821.0v30.5" stroke="#000" stroke-width="2.2" fill="none"/>
<rect x="230.1" y="1821.0" width="1794.0" height="30.5" fill="none" stroke="#000" stroke-width="2.2"/>
<g class="c" text-anchor="middle"><text x="379.6" y="1888.8">0</text><text x="529.1" y="1888.8">50</text><text x="678.6" y="1888.8">100</text><text x="828.1" y="1888.8">150</text><text x="977.6" y="1888.8">200</text><text x="1127.1" y="1888.8">250</text><text x="1276.6" y="1888.8">300</text><text x="1426.1" y="1888.8">350</text><text x="1575.6" y="1888.8">400</text><text x="1725.1" y="1888.8">450</text><text x="1874.6" y="1888.8">500</text><text x="1127" y="1936.3">Units (mm)</text></g>
</g>
</svg>
</body></html>
